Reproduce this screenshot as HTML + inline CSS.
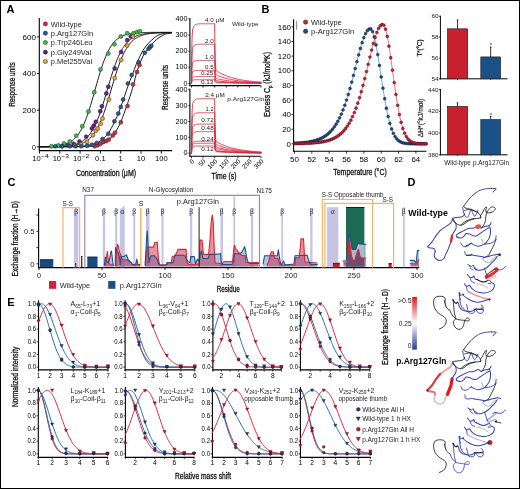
<!DOCTYPE html>
<html><head><meta charset="utf-8"><style>
html,body{margin:0;padding:0;background:#fff;}
svg{display:block;font-family:"Liberation Sans",sans-serif;will-change:transform;}
</style></head><body>
<svg width="520" height="489" viewBox="0 0 520 489">
<rect x="0" y="0" width="520" height="489" fill="#fff"/>
<rect x="0.50" y="0.50" width="519.00" height="488.00" fill="none" stroke="#000" stroke-width="1"/>
<text x="6.60" y="13.30" font-size="11" font-weight="bold" fill="#000">A</text>
<text x="261.60" y="13.30" font-size="11" font-weight="bold" fill="#000">B</text>
<text x="7.60" y="186.40" font-size="11" font-weight="bold" fill="#000">C</text>
<text x="407.40" y="186.40" font-size="11" font-weight="bold" fill="#000">D</text>
<text x="7.20" y="306.40" font-size="11" font-weight="bold" fill="#000">E</text>
<line x1="39.30" y1="18.00" x2="39.30" y2="151.10" stroke="#000" stroke-width="1.1"/>
<line x1="38.80" y1="150.60" x2="172.20" y2="150.60" stroke="#000" stroke-width="1.1"/>
<line x1="36.90" y1="146.80" x2="39.30" y2="146.80" stroke="#000" stroke-width="0.9"/>
<text x="36.00" y="149.50" font-size="7.8" text-anchor="end" textLength="3.9" lengthAdjust="spacingAndGlyphs">0</text>
<line x1="36.90" y1="110.16" x2="39.30" y2="110.16" stroke="#000" stroke-width="0.9"/>
<text x="36.00" y="112.86" font-size="7.8" text-anchor="end" textLength="13.4" lengthAdjust="spacingAndGlyphs">200</text>
<line x1="36.90" y1="73.52" x2="39.30" y2="73.52" stroke="#000" stroke-width="0.9"/>
<text x="36.00" y="76.22" font-size="7.8" text-anchor="end" textLength="13.4" lengthAdjust="spacingAndGlyphs">400</text>
<line x1="36.90" y1="36.88" x2="39.30" y2="36.88" stroke="#000" stroke-width="0.9"/>
<text x="36.00" y="39.58" font-size="7.8" text-anchor="end" textLength="13.4" lengthAdjust="spacingAndGlyphs">600</text>
<line x1="39.50" y1="150.60" x2="39.50" y2="153.60" stroke="#000" stroke-width="0.9"/>
<line x1="59.80" y1="150.60" x2="59.80" y2="153.60" stroke="#000" stroke-width="0.9"/>
<line x1="80.10" y1="150.60" x2="80.10" y2="153.60" stroke="#000" stroke-width="0.9"/>
<line x1="100.40" y1="150.60" x2="100.40" y2="153.60" stroke="#000" stroke-width="0.9"/>
<line x1="120.70" y1="150.60" x2="120.70" y2="153.60" stroke="#000" stroke-width="0.9"/>
<line x1="141.00" y1="150.60" x2="141.00" y2="153.60" stroke="#000" stroke-width="0.9"/>
<line x1="161.30" y1="150.60" x2="161.30" y2="153.60" stroke="#000" stroke-width="0.9"/>
<text x="40.80" y="161.00" font-size="7.6" text-anchor="end">10</text>
<text x="41.00" y="158.20" font-size="6.0" textLength="7.6" lengthAdjust="spacingAndGlyphs">−4</text>
<text x="61.10" y="161.00" font-size="7.6" text-anchor="end">10</text>
<text x="61.30" y="158.20" font-size="6.0" textLength="7.6" lengthAdjust="spacingAndGlyphs">−3</text>
<text x="81.40" y="161.00" font-size="7.6" text-anchor="end">10</text>
<text x="81.60" y="158.20" font-size="6.0" textLength="7.6" lengthAdjust="spacingAndGlyphs">−2</text>
<text x="100.40" y="161.00" font-size="7.6" text-anchor="middle">0.1</text>
<text x="120.70" y="161.00" font-size="7.6" text-anchor="middle">1</text>
<text x="141.00" y="161.00" font-size="7.6" text-anchor="middle">10</text>
<text x="161.30" y="161.00" font-size="7.6" text-anchor="middle">100</text>
<text x="106.00" y="176.00" font-size="9.2" text-anchor="middle" fill="#111" textLength="60.2" lengthAdjust="spacingAndGlyphs" stroke="#111" stroke-width="0.3">Concentration (μM)</text>
<text x="15.40" y="84.50" font-size="9.2" text-anchor="middle" fill="#111" textLength="44.3" lengthAdjust="spacingAndGlyphs" transform="rotate(-90 15.40 84.50)" stroke="#111" stroke-width="0.3">Response units</text>
<circle cx="45.40" cy="23.90" r="2.1" fill="#e0253c" stroke="#222" stroke-width="0.5"/>
<text x="50.80" y="26.60" font-size="7.6" fill="#222" textLength="31.0" lengthAdjust="spacingAndGlyphs">Wild-type</text>
<circle cx="45.40" cy="33.20" r="2.1" fill="#1f5c9e" stroke="#222" stroke-width="0.5"/>
<text x="50.80" y="35.90" font-size="7.6" fill="#222" textLength="42.3" lengthAdjust="spacingAndGlyphs">p.Arg127Gln</text>
<circle cx="45.40" cy="42.50" r="2.1" fill="#34c443" stroke="#222" stroke-width="0.5"/>
<text x="50.80" y="45.20" font-size="7.6" fill="#222" textLength="41.7" lengthAdjust="spacingAndGlyphs">p.Trp246Leu</text>
<circle cx="45.40" cy="52.20" r="2.1" fill="#66218c" stroke="#222" stroke-width="0.5"/>
<text x="50.80" y="54.90" font-size="7.6" fill="#222" textLength="40.3" lengthAdjust="spacingAndGlyphs">p.Gly249Val</text>
<circle cx="45.40" cy="61.50" r="2.1" fill="#f1a12e" stroke="#222" stroke-width="0.5"/>
<text x="50.80" y="64.20" font-size="7.6" fill="#222" textLength="41.3" lengthAdjust="spacingAndGlyphs">p.Met255Val</text>
<path d="M39.30,146.69 C39.43,146.69 39.83,146.68 40.10,146.68 C40.37,146.68 40.63,146.67 40.90,146.67 C41.17,146.66 41.43,146.66 41.70,146.65 C41.97,146.65 42.23,146.64 42.50,146.64 C42.77,146.63 43.03,146.63 43.30,146.62 C43.57,146.62 43.83,146.61 44.10,146.60 C44.37,146.60 44.63,146.59 44.90,146.58 C45.17,146.58 45.43,146.57 45.70,146.56 C45.97,146.55 46.23,146.54 46.50,146.54 C46.77,146.53 47.03,146.52 47.30,146.51 C47.57,146.50 47.83,146.49 48.10,146.48 C48.37,146.47 48.63,146.46 48.90,146.44 C49.17,146.43 49.43,146.42 49.70,146.41 C49.97,146.39 50.23,146.38 50.50,146.36 C50.77,146.35 51.03,146.34 51.30,146.32 C51.57,146.30 51.83,146.29 52.10,146.27 C52.37,146.25 52.63,146.23 52.90,146.21 C53.17,146.19 53.43,146.17 53.70,146.15 C53.97,146.13 54.23,146.11 54.50,146.08 C54.77,146.06 55.03,146.04 55.30,146.01 C55.57,145.98 55.83,145.96 56.10,145.93 C56.37,145.90 56.63,145.87 56.90,145.84 C57.17,145.81 57.43,145.77 57.70,145.74 C57.97,145.70 58.23,145.67 58.50,145.63 C58.77,145.59 59.03,145.55 59.30,145.50 C59.57,145.46 59.83,145.42 60.10,145.37 C60.37,145.32 60.63,145.27 60.90,145.22 C61.17,145.17 61.43,145.12 61.70,145.06 C61.97,145.00 62.23,144.94 62.50,144.88 C62.77,144.82 63.03,144.75 63.30,144.68 C63.57,144.61 63.83,144.54 64.10,144.46 C64.37,144.39 64.63,144.31 64.90,144.22 C65.17,144.14 65.43,144.05 65.70,143.96 C65.97,143.87 66.23,143.77 66.50,143.67 C66.77,143.57 67.03,143.46 67.30,143.35 C67.57,143.24 67.83,143.12 68.10,143.00 C68.37,142.88 68.63,142.75 68.90,142.62 C69.17,142.48 69.43,142.34 69.70,142.20 C69.97,142.05 70.23,141.90 70.50,141.74 C70.77,141.57 71.03,141.41 71.30,141.23 C71.57,141.05 71.83,140.87 72.10,140.68 C72.37,140.48 72.63,140.28 72.90,140.07 C73.17,139.86 73.43,139.64 73.70,139.41 C73.97,139.18 74.23,138.94 74.50,138.69 C74.77,138.44 75.03,138.18 75.30,137.90 C75.57,137.63 75.83,137.35 76.10,137.05 C76.37,136.75 76.63,136.44 76.90,136.12 C77.17,135.80 77.43,135.46 77.70,135.12 C77.97,134.77 78.23,134.40 78.50,134.03 C78.77,133.65 79.03,133.26 79.30,132.85 C79.57,132.44 79.83,132.02 80.10,131.58 C80.37,131.14 80.63,130.68 80.90,130.21 C81.17,129.74 81.43,129.25 81.70,128.75 C81.97,128.24 82.23,127.72 82.50,127.18 C82.77,126.63 83.03,126.08 83.30,125.50 C83.57,124.92 83.83,124.33 84.10,123.71 C84.37,123.10 84.63,122.47 84.90,121.82 C85.17,121.17 85.43,120.50 85.70,119.81 C85.97,119.13 86.23,118.42 86.50,117.70 C86.77,116.98 87.03,116.24 87.30,115.48 C87.57,114.73 87.83,113.95 88.10,113.16 C88.37,112.37 88.63,111.56 88.90,110.74 C89.17,109.92 89.43,109.08 89.70,108.23 C89.97,107.38 90.23,106.52 90.50,105.64 C90.77,104.76 91.03,103.87 91.30,102.97 C91.57,102.07 91.83,101.16 92.10,100.24 C92.37,99.32 92.63,98.39 92.90,97.46 C93.17,96.53 93.43,95.59 93.70,94.64 C93.97,93.70 94.23,92.75 94.50,91.80 C94.77,90.85 95.03,89.89 95.30,88.94 C95.57,87.99 95.83,87.04 96.10,86.09 C96.37,85.14 96.63,84.19 96.90,83.25 C97.17,82.31 97.43,81.37 97.70,80.45 C97.97,79.52 98.23,78.60 98.50,77.69 C98.77,76.78 99.03,75.87 99.30,74.98 C99.57,74.09 99.83,73.21 100.10,72.35 C100.37,71.48 100.63,70.62 100.90,69.79 C101.17,68.95 101.43,68.12 101.70,67.31 C101.97,66.51 102.23,65.71 102.50,64.94 C102.77,64.16 103.03,63.40 103.30,62.66 C103.57,61.92 103.83,61.19 104.10,60.48 C104.37,59.78 104.63,59.09 104.90,58.42 C105.17,57.75 105.43,57.09 105.70,56.46 C105.97,55.83 106.23,55.21 106.50,54.61 C106.77,54.01 107.03,53.43 107.30,52.87 C107.57,52.31 107.83,51.77 108.10,51.24 C108.37,50.72 108.63,50.21 108.90,49.72 C109.17,49.22 109.43,48.75 109.70,48.29 C109.97,47.83 110.23,47.39 110.50,46.97 C110.77,46.54 111.03,46.13 111.30,45.74 C111.57,45.34 111.83,44.96 112.10,44.60 C112.37,44.23 112.63,43.88 112.90,43.55 C113.17,43.21 113.43,42.88 113.70,42.57 C113.97,42.26 114.23,41.96 114.50,41.68 C114.77,41.39 115.03,41.12 115.30,40.85 C115.57,40.59 115.83,40.34 116.10,40.10 C116.37,39.85 116.63,39.62 116.90,39.40 C117.17,39.18 117.43,38.97 117.70,38.76 C117.97,38.56 118.23,38.37 118.50,38.18 C118.77,38.00 119.03,37.82 119.30,37.65 C119.57,37.48 119.83,37.32 120.10,37.16 C120.37,37.01 120.63,36.86 120.90,36.72 C121.17,36.58 121.43,36.44 121.70,36.31 C121.97,36.18 122.23,36.06 122.50,35.94 C122.77,35.83 123.03,35.72 123.30,35.61 C123.57,35.50 123.83,35.40 124.10,35.30 C124.37,35.20 124.63,35.11 124.90,35.02 C125.17,34.94 125.43,34.85 125.70,34.77 C125.97,34.69 126.23,34.61 126.50,34.54 C126.77,34.47 127.03,34.40 127.30,34.33 C127.57,34.26 127.83,34.20 128.10,34.14 C128.37,34.08 128.63,34.02 128.90,33.97 C129.17,33.91 129.43,33.86 129.70,33.81 C129.97,33.76 130.23,33.72 130.50,33.67 C130.77,33.63 131.03,33.58 131.30,33.54 C131.57,33.50 131.83,33.46 132.10,33.43 C132.37,33.39 132.63,33.35 132.90,33.32 C133.17,33.29 133.43,33.25 133.70,33.22 C133.97,33.19 134.23,33.16 134.50,33.14 C134.77,33.11 135.03,33.08 135.30,33.06 C135.57,33.03 135.83,33.01 136.10,32.99 C136.37,32.96 136.63,32.94 136.90,32.92 C137.17,32.90 137.43,32.88 137.70,32.86 C137.97,32.84 138.23,32.83 138.50,32.81 C138.77,32.79 139.03,32.78 139.30,32.76 C139.57,32.75 139.83,32.73 140.10,32.72 C140.37,32.70 140.63,32.69 140.90,32.68 C141.17,32.67 141.43,32.65 141.70,32.64 C141.97,32.63 142.23,32.62 142.50,32.61 C142.77,32.60 143.03,32.59 143.30,32.58 C143.57,32.57 143.83,32.56 144.10,32.55 C144.37,32.55 144.63,32.54 144.90,32.53 C145.17,32.52 145.43,32.51 145.70,32.51 C145.97,32.50 146.23,32.49 146.50,32.49 C146.77,32.48 147.03,32.48 147.30,32.47 C147.57,32.46 147.83,32.46 148.10,32.45 C148.37,32.45 148.63,32.44 148.90,32.44 C149.17,32.43 149.43,32.43 149.70,32.43 C149.97,32.42 150.23,32.42 150.50,32.41 C150.77,32.41 151.03,32.41 151.30,32.40 C151.57,32.40 151.83,32.40 152.10,32.39 C152.37,32.39 152.63,32.39 152.90,32.38 C153.17,32.38 153.43,32.38 153.70,32.38 C153.97,32.37 154.23,32.37 154.50,32.37 C154.77,32.37 155.03,32.36 155.30,32.36 C155.57,32.36 155.83,32.36 156.10,32.36 C156.37,32.35 156.63,32.35 156.90,32.35 C157.17,32.35 157.43,32.35 157.70,32.35 C157.97,32.35 158.23,32.34 158.50,32.34 C158.77,32.34 159.03,32.34 159.30,32.34 C159.57,32.34 159.83,32.34 160.10,32.33 C160.37,32.33 160.63,32.33 160.90,32.33 C161.17,32.33 161.43,32.33 161.70,32.33 C161.97,32.33 162.23,32.33 162.50,32.33 C162.77,32.32 163.03,32.32 163.30,32.32 C163.57,32.32 163.83,32.32 164.10,32.32 C164.37,32.32 164.63,32.32 164.90,32.32 C165.17,32.32 165.43,32.32 165.70,32.32 C165.97,32.32 166.23,32.32 166.50,32.32 C166.77,32.32 167.03,32.31 167.30,32.31 C167.57,32.31 167.83,32.31 168.10,32.31 C168.37,32.31 168.63,32.31 168.90,32.31 C169.17,32.31 169.43,32.31 169.70,32.31 C169.97,32.31 170.23,32.31 170.50,32.31 C170.77,32.31 171.17,32.31 171.30,32.31" fill="none" stroke="#111" stroke-width="0.95" stroke-linejoin="round" stroke-linecap="round"/>
<path d="M39.30,146.77 C39.43,146.76 39.83,146.76 40.10,146.76 C40.37,146.76 40.63,146.76 40.90,146.76 C41.17,146.76 41.43,146.76 41.70,146.75 C41.97,146.75 42.23,146.75 42.50,146.75 C42.77,146.75 43.03,146.75 43.30,146.74 C43.57,146.74 43.83,146.74 44.10,146.74 C44.37,146.74 44.63,146.73 44.90,146.73 C45.17,146.73 45.43,146.73 45.70,146.73 C45.97,146.72 46.23,146.72 46.50,146.72 C46.77,146.72 47.03,146.71 47.30,146.71 C47.57,146.71 47.83,146.70 48.10,146.70 C48.37,146.70 48.63,146.70 48.90,146.69 C49.17,146.69 49.43,146.68 49.70,146.68 C49.97,146.68 50.23,146.67 50.50,146.67 C50.77,146.66 51.03,146.66 51.30,146.66 C51.57,146.65 51.83,146.65 52.10,146.64 C52.37,146.64 52.63,146.63 52.90,146.63 C53.17,146.62 53.43,146.61 53.70,146.61 C53.97,146.60 54.23,146.60 54.50,146.59 C54.77,146.58 55.03,146.58 55.30,146.57 C55.57,146.56 55.83,146.55 56.10,146.55 C56.37,146.54 56.63,146.53 56.90,146.52 C57.17,146.51 57.43,146.50 57.70,146.49 C57.97,146.48 58.23,146.47 58.50,146.46 C58.77,146.45 59.03,146.44 59.30,146.43 C59.57,146.42 59.83,146.40 60.10,146.39 C60.37,146.38 60.63,146.36 60.90,146.35 C61.17,146.34 61.43,146.32 61.70,146.30 C61.97,146.29 62.23,146.27 62.50,146.26 C62.77,146.24 63.03,146.22 63.30,146.20 C63.57,146.18 63.83,146.16 64.10,146.14 C64.37,146.12 64.63,146.10 64.90,146.08 C65.17,146.05 65.43,146.03 65.70,146.00 C65.97,145.98 66.23,145.95 66.50,145.93 C66.77,145.90 67.03,145.87 67.30,145.84 C67.57,145.81 67.83,145.78 68.10,145.74 C68.37,145.71 68.63,145.68 68.90,145.64 C69.17,145.60 69.43,145.56 69.70,145.52 C69.97,145.48 70.23,145.44 70.50,145.40 C70.77,145.35 71.03,145.31 71.30,145.26 C71.57,145.21 71.83,145.16 72.10,145.11 C72.37,145.06 72.63,145.00 72.90,144.94 C73.17,144.88 73.43,144.82 73.70,144.76 C73.97,144.70 74.23,144.63 74.50,144.56 C74.77,144.49 75.03,144.42 75.30,144.34 C75.57,144.26 75.83,144.18 76.10,144.10 C76.37,144.02 76.63,143.93 76.90,143.84 C77.17,143.75 77.43,143.65 77.70,143.55 C77.97,143.45 78.23,143.34 78.50,143.24 C78.77,143.13 79.03,143.01 79.30,142.89 C79.57,142.77 79.83,142.65 80.10,142.51 C80.37,142.38 80.63,142.25 80.90,142.10 C81.17,141.96 81.43,141.81 81.70,141.66 C81.97,141.50 82.23,141.34 82.50,141.17 C82.77,141.00 83.03,140.82 83.30,140.63 C83.57,140.45 83.83,140.26 84.10,140.05 C84.37,139.85 84.63,139.64 84.90,139.42 C85.17,139.20 85.43,138.98 85.70,138.74 C85.97,138.50 86.23,138.25 86.50,137.99 C86.77,137.74 87.03,137.47 87.30,137.19 C87.57,136.91 87.83,136.62 88.10,136.31 C88.37,136.01 88.63,135.70 88.90,135.37 C89.17,135.04 89.43,134.71 89.70,134.35 C89.97,134.00 90.23,133.64 90.50,133.26 C90.77,132.88 91.03,132.48 91.30,132.08 C91.57,131.67 91.83,131.25 92.10,130.81 C92.37,130.37 92.63,129.92 92.90,129.46 C93.17,128.99 93.43,128.51 93.70,128.01 C93.97,127.51 94.23,126.99 94.50,126.46 C94.77,125.93 95.03,125.38 95.30,124.82 C95.57,124.26 95.83,123.68 96.10,123.08 C96.37,122.48 96.63,121.87 96.90,121.24 C97.17,120.61 97.43,119.96 97.70,119.30 C97.97,118.63 98.23,117.95 98.50,117.26 C98.77,116.56 99.03,115.85 99.30,115.12 C99.57,114.40 99.83,113.65 100.10,112.90 C100.37,112.14 100.63,111.37 100.90,110.58 C101.17,109.79 101.43,108.99 101.70,108.18 C101.97,107.37 102.23,106.54 102.50,105.71 C102.77,104.87 103.03,104.03 103.30,103.17 C103.57,102.31 103.83,101.45 104.10,100.57 C104.37,99.70 104.63,98.81 104.90,97.93 C105.17,97.04 105.43,96.14 105.70,95.24 C105.97,94.35 106.23,93.44 106.50,92.54 C106.77,91.63 107.03,90.72 107.30,89.82 C107.57,88.91 107.83,88.00 108.10,87.09 C108.37,86.19 108.63,85.28 108.90,84.38 C109.17,83.49 109.43,82.59 109.70,81.70 C109.97,80.81 110.23,79.92 110.50,79.05 C110.77,78.17 111.03,77.30 111.30,76.44 C111.57,75.58 111.83,74.73 112.10,73.90 C112.37,73.06 112.63,72.23 112.90,71.41 C113.17,70.60 113.43,69.79 113.70,69.01 C113.97,68.22 114.23,67.44 114.50,66.68 C114.77,65.92 115.03,65.17 115.30,64.44 C115.57,63.71 115.83,62.99 116.10,62.29 C116.37,61.59 116.63,60.91 116.90,60.24 C117.17,59.57 117.43,58.92 117.70,58.29 C117.97,57.65 118.23,57.04 118.50,56.43 C118.77,55.83 119.03,55.25 119.30,54.68 C119.57,54.11 119.83,53.56 120.10,53.03 C120.37,52.49 120.63,51.97 120.90,51.47 C121.17,50.97 121.43,50.48 121.70,50.01 C121.97,49.54 122.23,49.08 122.50,48.64 C122.77,48.20 123.03,47.77 123.30,47.36 C123.57,46.95 123.83,46.56 124.10,46.17 C124.37,45.79 124.63,45.42 124.90,45.07 C125.17,44.71 125.43,44.37 125.70,44.04 C125.97,43.71 126.23,43.39 126.50,43.09 C126.77,42.78 127.03,42.49 127.30,42.20 C127.57,41.92 127.83,41.65 128.10,41.39 C128.37,41.13 128.63,40.88 128.90,40.64 C129.17,40.40 129.43,40.17 129.70,39.94 C129.97,39.72 130.23,39.51 130.50,39.31 C130.77,39.10 131.03,38.91 131.30,38.72 C131.57,38.53 131.83,38.35 132.10,38.18 C132.37,38.01 132.63,37.85 132.90,37.69 C133.17,37.53 133.43,37.38 133.70,37.23 C133.97,37.09 134.23,36.95 134.50,36.82 C134.77,36.69 135.03,36.56 135.30,36.44 C135.57,36.32 135.83,36.20 136.10,36.09 C136.37,35.98 136.63,35.87 136.90,35.77 C137.17,35.67 137.43,35.57 137.70,35.48 C137.97,35.39 138.23,35.30 138.50,35.22 C138.77,35.13 139.03,35.05 139.30,34.97 C139.57,34.89 139.83,34.82 140.10,34.75 C140.37,34.68 140.63,34.61 140.90,34.55 C141.17,34.48 141.43,34.42 141.70,34.36 C141.97,34.30 142.23,34.25 142.50,34.20 C142.77,34.14 143.03,34.09 143.30,34.04 C143.57,33.99 143.83,33.95 144.10,33.90 C144.37,33.86 144.63,33.82 144.90,33.77 C145.17,33.73 145.43,33.70 145.70,33.66 C145.97,33.62 146.23,33.59 146.50,33.55 C146.77,33.52 147.03,33.49 147.30,33.46 C147.57,33.43 147.83,33.40 148.10,33.37 C148.37,33.34 148.63,33.31 148.90,33.29 C149.17,33.26 149.43,33.24 149.70,33.22 C149.97,33.19 150.23,33.17 150.50,33.15 C150.77,33.13 151.03,33.11 151.30,33.09 C151.57,33.07 151.83,33.05 152.10,33.03 C152.37,33.02 152.63,33.00 152.90,32.98 C153.17,32.97 153.43,32.95 153.70,32.94 C153.97,32.92 154.23,32.91 154.50,32.90 C154.77,32.88 155.03,32.87 155.30,32.86 C155.57,32.85 155.83,32.84 156.10,32.83 C156.37,32.82 156.63,32.81 156.90,32.80 C157.17,32.79 157.43,32.78 157.70,32.77 C157.97,32.76 158.23,32.75 158.50,32.74 C158.77,32.73 159.03,32.73 159.30,32.72 C159.57,32.71 159.83,32.70 160.10,32.70 C160.37,32.69 160.63,32.68 160.90,32.68 C161.17,32.67 161.43,32.67 161.70,32.66 C161.97,32.65 162.23,32.65 162.50,32.64 C162.77,32.64 163.03,32.63 163.30,32.63 C163.57,32.62 163.83,32.62 164.10,32.62 C164.37,32.61 164.63,32.61 164.90,32.60 C165.17,32.60 165.43,32.60 165.70,32.59 C165.97,32.59 166.23,32.59 166.50,32.58 C166.77,32.58 167.03,32.58 167.30,32.57 C167.57,32.57 167.83,32.57 168.10,32.57 C168.37,32.56 168.63,32.56 168.90,32.56 C169.17,32.56 169.43,32.55 169.70,32.55 C169.97,32.55 170.23,32.55 170.50,32.55 C170.77,32.54 171.17,32.54 171.30,32.54" fill="none" stroke="#111" stroke-width="0.95" stroke-linejoin="round" stroke-linecap="round"/>
<path d="M39.30,146.78 C39.43,146.78 39.83,146.78 40.10,146.78 C40.37,146.78 40.63,146.77 40.90,146.77 C41.17,146.77 41.43,146.77 41.70,146.77 C41.97,146.77 42.23,146.77 42.50,146.77 C42.77,146.77 43.03,146.77 43.30,146.76 C43.57,146.76 43.83,146.76 44.10,146.76 C44.37,146.76 44.63,146.76 44.90,146.76 C45.17,146.76 45.43,146.75 45.70,146.75 C45.97,146.75 46.23,146.75 46.50,146.75 C46.77,146.75 47.03,146.75 47.30,146.74 C47.57,146.74 47.83,146.74 48.10,146.74 C48.37,146.74 48.63,146.73 48.90,146.73 C49.17,146.73 49.43,146.73 49.70,146.72 C49.97,146.72 50.23,146.72 50.50,146.72 C50.77,146.71 51.03,146.71 51.30,146.71 C51.57,146.71 51.83,146.70 52.10,146.70 C52.37,146.70 52.63,146.69 52.90,146.69 C53.17,146.69 53.43,146.68 53.70,146.68 C53.97,146.67 54.23,146.67 54.50,146.67 C54.77,146.66 55.03,146.66 55.30,146.65 C55.57,146.65 55.83,146.64 56.10,146.64 C56.37,146.63 56.63,146.63 56.90,146.62 C57.17,146.62 57.43,146.61 57.70,146.60 C57.97,146.60 58.23,146.59 58.50,146.59 C58.77,146.58 59.03,146.57 59.30,146.56 C59.57,146.56 59.83,146.55 60.10,146.54 C60.37,146.53 60.63,146.52 60.90,146.51 C61.17,146.51 61.43,146.50 61.70,146.49 C61.97,146.48 62.23,146.47 62.50,146.45 C62.77,146.44 63.03,146.43 63.30,146.42 C63.57,146.41 63.83,146.40 64.10,146.38 C64.37,146.37 64.63,146.36 64.90,146.34 C65.17,146.33 65.43,146.31 65.70,146.29 C65.97,146.28 66.23,146.26 66.50,146.24 C66.77,146.23 67.03,146.21 67.30,146.19 C67.57,146.17 67.83,146.15 68.10,146.13 C68.37,146.11 68.63,146.09 68.90,146.06 C69.17,146.04 69.43,146.01 69.70,145.99 C69.97,145.96 70.23,145.94 70.50,145.91 C70.77,145.88 71.03,145.85 71.30,145.82 C71.57,145.79 71.83,145.76 72.10,145.72 C72.37,145.69 72.63,145.65 72.90,145.62 C73.17,145.58 73.43,145.54 73.70,145.50 C73.97,145.46 74.23,145.42 74.50,145.37 C74.77,145.33 75.03,145.28 75.30,145.23 C75.57,145.18 75.83,145.13 76.10,145.08 C76.37,145.02 76.63,144.97 76.90,144.91 C77.17,144.85 77.43,144.79 77.70,144.72 C77.97,144.66 78.23,144.59 78.50,144.52 C78.77,144.45 79.03,144.37 79.30,144.29 C79.57,144.22 79.83,144.13 80.10,144.05 C80.37,143.96 80.63,143.87 80.90,143.78 C81.17,143.69 81.43,143.59 81.70,143.49 C81.97,143.39 82.23,143.28 82.50,143.17 C82.77,143.06 83.03,142.94 83.30,142.82 C83.57,142.70 83.83,142.57 84.10,142.43 C84.37,142.30 84.63,142.16 84.90,142.02 C85.17,141.87 85.43,141.72 85.70,141.56 C85.97,141.40 86.23,141.24 86.50,141.06 C86.77,140.89 87.03,140.71 87.30,140.52 C87.57,140.33 87.83,140.14 88.10,139.93 C88.37,139.73 88.63,139.51 88.90,139.29 C89.17,139.07 89.43,138.83 89.70,138.59 C89.97,138.35 90.23,138.10 90.50,137.84 C90.77,137.57 91.03,137.30 91.30,137.02 C91.57,136.73 91.83,136.44 92.10,136.13 C92.37,135.82 92.63,135.50 92.90,135.17 C93.17,134.84 93.43,134.50 93.70,134.14 C93.97,133.78 94.23,133.41 94.50,133.02 C94.77,132.64 95.03,132.24 95.30,131.83 C95.57,131.41 95.83,130.99 96.10,130.54 C96.37,130.10 96.63,129.64 96.90,129.17 C97.17,128.70 97.43,128.21 97.70,127.70 C97.97,127.20 98.23,126.67 98.50,126.14 C98.77,125.60 99.03,125.05 99.30,124.47 C99.57,123.90 99.83,123.32 100.10,122.71 C100.37,122.11 100.63,121.49 100.90,120.85 C101.17,120.21 101.43,119.56 101.70,118.89 C101.97,118.22 102.23,117.53 102.50,116.83 C102.77,116.13 103.03,115.41 103.30,114.68 C103.57,113.95 103.83,113.20 104.10,112.43 C104.37,111.67 104.63,110.89 104.90,110.10 C105.17,109.31 105.43,108.50 105.70,107.69 C105.97,106.87 106.23,106.04 106.50,105.20 C106.77,104.36 107.03,103.51 107.30,102.65 C107.57,101.79 107.83,100.92 108.10,100.04 C108.37,99.16 108.63,98.28 108.90,97.38 C109.17,96.49 109.43,95.60 109.70,94.70 C109.97,93.80 110.23,92.89 110.50,91.99 C110.77,91.08 111.03,90.17 111.30,89.26 C111.57,88.36 111.83,87.45 112.10,86.54 C112.37,85.64 112.63,84.74 112.90,83.84 C113.17,82.94 113.43,82.05 113.70,81.16 C113.97,80.27 114.23,79.39 114.50,78.52 C114.77,77.64 115.03,76.78 115.30,75.92 C115.57,75.07 115.83,74.22 116.10,73.39 C116.37,72.55 116.63,71.73 116.90,70.92 C117.17,70.11 117.43,69.31 117.70,68.53 C117.97,67.74 118.23,66.97 118.50,66.22 C118.77,65.46 119.03,64.72 119.30,64.00 C119.57,63.27 119.83,62.56 120.10,61.87 C120.37,61.18 120.63,60.50 120.90,59.84 C121.17,59.18 121.43,58.53 121.70,57.90 C121.97,57.28 122.23,56.67 122.50,56.07 C122.77,55.48 123.03,54.90 123.30,54.34 C123.57,53.78 123.83,53.23 124.10,52.70 C124.37,52.17 124.63,51.66 124.90,51.17 C125.17,50.67 125.43,50.19 125.70,49.72 C125.97,49.26 126.23,48.81 126.50,48.37 C126.77,47.94 127.03,47.52 127.30,47.12 C127.57,46.71 127.83,46.32 128.10,45.94 C128.37,45.56 128.63,45.20 128.90,44.85 C129.17,44.50 129.43,44.16 129.70,43.84 C129.97,43.51 130.23,43.20 130.50,42.90 C130.77,42.60 131.03,42.31 131.30,42.03 C131.57,41.75 131.83,41.49 132.10,41.23 C132.37,40.97 132.63,40.73 132.90,40.49 C133.17,40.26 133.43,40.03 133.70,39.81 C133.97,39.59 134.23,39.38 134.50,39.18 C134.77,38.98 135.03,38.79 135.30,38.61 C135.57,38.42 135.83,38.25 136.10,38.08 C136.37,37.91 136.63,37.75 136.90,37.59 C137.17,37.44 137.43,37.29 137.70,37.15 C137.97,37.00 138.23,36.87 138.50,36.74 C138.77,36.61 139.03,36.48 139.30,36.37 C139.57,36.25 139.83,36.13 140.10,36.02 C140.37,35.91 140.63,35.81 140.90,35.71 C141.17,35.61 141.43,35.52 141.70,35.43 C141.97,35.33 142.23,35.25 142.50,35.16 C142.77,35.08 143.03,35.00 143.30,34.93 C143.57,34.85 143.83,34.78 144.10,34.71 C144.37,34.64 144.63,34.57 144.90,34.51 C145.17,34.45 145.43,34.39 145.70,34.33 C145.97,34.27 146.23,34.22 146.50,34.16 C146.77,34.11 147.03,34.06 147.30,34.01 C147.57,33.96 147.83,33.92 148.10,33.88 C148.37,33.83 148.63,33.79 148.90,33.75 C149.17,33.71 149.43,33.67 149.70,33.64 C149.97,33.60 150.23,33.57 150.50,33.53 C150.77,33.50 151.03,33.47 151.30,33.44 C151.57,33.41 151.83,33.38 152.10,33.35 C152.37,33.32 152.63,33.30 152.90,33.27 C153.17,33.25 153.43,33.22 153.70,33.20 C153.97,33.18 154.23,33.16 154.50,33.14 C154.77,33.12 155.03,33.10 155.30,33.08 C155.57,33.06 155.83,33.04 156.10,33.02 C156.37,33.01 156.63,32.99 156.90,32.98 C157.17,32.96 157.43,32.94 157.70,32.93 C157.97,32.92 158.23,32.90 158.50,32.89 C158.77,32.88 159.03,32.86 159.30,32.85 C159.57,32.84 159.83,32.83 160.10,32.82 C160.37,32.81 160.63,32.80 160.90,32.79 C161.17,32.78 161.43,32.77 161.70,32.76 C161.97,32.75 162.23,32.74 162.50,32.74 C162.77,32.73 163.03,32.72 163.30,32.71 C163.57,32.71 163.83,32.70 164.10,32.69 C164.37,32.69 164.63,32.68 164.90,32.67 C165.17,32.67 165.43,32.66 165.70,32.66 C165.97,32.65 166.23,32.65 166.50,32.64 C166.77,32.64 167.03,32.63 167.30,32.63 C167.57,32.62 167.83,32.62 168.10,32.61 C168.37,32.61 168.63,32.61 168.90,32.60 C169.17,32.60 169.43,32.59 169.70,32.59 C169.97,32.59 170.23,32.58 170.50,32.58 C170.77,32.58 171.17,32.57 171.30,32.57" fill="none" stroke="#111" stroke-width="0.95" stroke-linejoin="round" stroke-linecap="round"/>
<path d="M39.30,146.80 C44.42,146.77 62.38,146.77 70.00,146.60 C77.62,146.43 80.83,146.30 85.00,145.80 C89.17,145.30 92.08,144.65 95.00,143.60 C97.92,142.55 100.28,141.23 102.50,139.50 C104.72,137.77 106.32,136.08 108.30,133.20 C110.28,130.32 112.33,126.52 114.40,122.20 C116.47,117.88 118.45,113.30 120.70,107.30 C122.95,101.30 126.00,91.50 127.90,86.20 C129.80,80.90 130.72,79.12 132.10,75.50 C133.48,71.88 134.97,67.53 136.20,64.50 C137.43,61.47 138.42,59.57 139.50,57.30 C140.58,55.03 141.48,52.95 142.70,50.90 C143.92,48.85 145.30,46.80 146.80,45.00 C148.30,43.20 150.07,41.57 151.70,40.10 C153.33,38.63 155.13,37.15 156.60,36.20 C158.07,35.25 159.00,34.93 160.50,34.40 C162.00,33.87 163.75,33.28 165.60,33.00 C167.45,32.72 170.60,32.75 171.60,32.70" fill="none" stroke="#111" stroke-width="0.95" stroke-linejoin="round" stroke-linecap="round"/>
<path d="M39.30,146.80 C46.08,146.78 71.22,146.83 80.00,146.70 C88.78,146.57 88.67,146.40 92.00,146.00 C95.33,145.60 97.20,145.37 100.00,144.30 C102.80,143.23 106.30,141.57 108.80,139.60 C111.30,137.63 113.00,135.43 115.00,132.50 C117.00,129.57 118.88,126.33 120.80,122.00 C122.72,117.67 124.97,110.75 126.50,106.50 C128.03,102.25 128.87,100.00 130.00,96.50 C131.13,93.00 132.13,89.67 133.30,85.50 C134.47,81.33 135.90,75.17 137.00,71.50 C138.10,67.83 138.95,65.95 139.90,63.50 C140.85,61.05 141.68,58.83 142.70,56.80 C143.72,54.77 144.77,53.05 146.00,51.30 C147.23,49.55 148.73,47.90 150.10,46.30 C151.47,44.70 152.70,43.15 154.20,41.70 C155.70,40.25 157.20,38.87 159.10,37.60 C161.00,36.33 163.52,34.85 165.60,34.10 C167.68,33.35 170.60,33.27 171.60,33.10" fill="none" stroke="#111" stroke-width="0.95" stroke-linejoin="round" stroke-linecap="round"/>
<circle cx="51.50" cy="146.30" r="2.0" fill="#34c443" stroke="#222" stroke-width="0.5"/>
<circle cx="58.30" cy="145.40" r="2.0" fill="#34c443" stroke="#222" stroke-width="0.5"/>
<circle cx="64.00" cy="143.50" r="2.0" fill="#34c443" stroke="#222" stroke-width="0.5"/>
<circle cx="69.80" cy="141.50" r="2.0" fill="#34c443" stroke="#222" stroke-width="0.5"/>
<circle cx="76.20" cy="135.80" r="2.0" fill="#34c443" stroke="#222" stroke-width="0.5"/>
<circle cx="82.30" cy="126.20" r="2.0" fill="#34c443" stroke="#222" stroke-width="0.5"/>
<circle cx="88.50" cy="111.50" r="2.0" fill="#34c443" stroke="#222" stroke-width="0.5"/>
<circle cx="94.30" cy="92.20" r="2.0" fill="#34c443" stroke="#222" stroke-width="0.5"/>
<circle cx="100.50" cy="69.40" r="2.0" fill="#34c443" stroke="#222" stroke-width="0.5"/>
<circle cx="108.30" cy="53.50" r="2.0" fill="#34c443" stroke="#222" stroke-width="0.5"/>
<circle cx="114.40" cy="44.30" r="2.0" fill="#34c443" stroke="#222" stroke-width="0.5"/>
<circle cx="120.80" cy="36.50" r="2.0" fill="#34c443" stroke="#222" stroke-width="0.5"/>
<circle cx="127.20" cy="33.30" r="2.0" fill="#34c443" stroke="#222" stroke-width="0.5"/>
<circle cx="133.40" cy="33.20" r="2.0" fill="#34c443" stroke="#222" stroke-width="0.5"/>
<circle cx="137.00" cy="32.20" r="2.0" fill="#34c443" stroke="#222" stroke-width="0.5"/>
<circle cx="139.80" cy="31.30" r="2.0" fill="#34c443" stroke="#222" stroke-width="0.5"/>
<circle cx="62.00" cy="146.20" r="2.0" fill="#66218c" stroke="#222" stroke-width="0.5"/>
<circle cx="68.00" cy="145.30" r="2.0" fill="#66218c" stroke="#222" stroke-width="0.5"/>
<circle cx="73.70" cy="143.80" r="2.0" fill="#66218c" stroke="#222" stroke-width="0.5"/>
<circle cx="79.40" cy="141.50" r="2.0" fill="#66218c" stroke="#222" stroke-width="0.5"/>
<circle cx="86.20" cy="136.70" r="2.0" fill="#66218c" stroke="#222" stroke-width="0.5"/>
<circle cx="91.90" cy="128.50" r="2.0" fill="#66218c" stroke="#222" stroke-width="0.5"/>
<circle cx="93.80" cy="125.60" r="2.0" fill="#66218c" stroke="#222" stroke-width="0.5"/>
<circle cx="95.80" cy="121.70" r="2.0" fill="#66218c" stroke="#222" stroke-width="0.5"/>
<circle cx="100.20" cy="111.20" r="2.0" fill="#66218c" stroke="#222" stroke-width="0.5"/>
<circle cx="101.90" cy="106.30" r="2.0" fill="#66218c" stroke="#222" stroke-width="0.5"/>
<circle cx="106.30" cy="93.50" r="2.0" fill="#66218c" stroke="#222" stroke-width="0.5"/>
<circle cx="108.30" cy="86.70" r="2.0" fill="#66218c" stroke="#222" stroke-width="0.5"/>
<circle cx="114.70" cy="68.40" r="2.0" fill="#66218c" stroke="#222" stroke-width="0.5"/>
<circle cx="121.10" cy="52.00" r="2.0" fill="#66218c" stroke="#222" stroke-width="0.5"/>
<circle cx="127.20" cy="40.10" r="2.0" fill="#66218c" stroke="#222" stroke-width="0.5"/>
<circle cx="130.80" cy="36.50" r="2.0" fill="#66218c" stroke="#222" stroke-width="0.5"/>
<circle cx="75.00" cy="145.50" r="2.0" fill="#f1a12e" stroke="#222" stroke-width="0.5"/>
<circle cx="81.00" cy="144.30" r="2.0" fill="#f1a12e" stroke="#222" stroke-width="0.5"/>
<circle cx="87.10" cy="141.90" r="2.0" fill="#f1a12e" stroke="#222" stroke-width="0.5"/>
<circle cx="92.90" cy="135.20" r="2.0" fill="#f1a12e" stroke="#222" stroke-width="0.5"/>
<circle cx="95.80" cy="130.80" r="2.0" fill="#f1a12e" stroke="#222" stroke-width="0.5"/>
<circle cx="97.70" cy="128.50" r="2.0" fill="#f1a12e" stroke="#222" stroke-width="0.5"/>
<circle cx="100.60" cy="123.70" r="2.0" fill="#f1a12e" stroke="#222" stroke-width="0.5"/>
<circle cx="102.50" cy="118.50" r="2.0" fill="#f1a12e" stroke="#222" stroke-width="0.5"/>
<circle cx="108.80" cy="99.60" r="2.0" fill="#f1a12e" stroke="#222" stroke-width="0.5"/>
<circle cx="114.70" cy="78.10" r="2.0" fill="#f1a12e" stroke="#222" stroke-width="0.5"/>
<circle cx="121.10" cy="59.90" r="2.0" fill="#f1a12e" stroke="#222" stroke-width="0.5"/>
<circle cx="127.20" cy="45.60" r="2.0" fill="#f1a12e" stroke="#222" stroke-width="0.5"/>
<circle cx="133.00" cy="36.50" r="2.0" fill="#f1a12e" stroke="#222" stroke-width="0.5"/>
<circle cx="94.80" cy="146.20" r="2.0" fill="#e0253c" stroke="#222" stroke-width="0.5"/>
<circle cx="97.70" cy="145.20" r="2.0" fill="#e0253c" stroke="#222" stroke-width="0.5"/>
<circle cx="100.60" cy="143.80" r="2.0" fill="#e0253c" stroke="#222" stroke-width="0.5"/>
<circle cx="103.50" cy="141.90" r="2.0" fill="#e0253c" stroke="#222" stroke-width="0.5"/>
<circle cx="106.30" cy="141.00" r="2.0" fill="#e0253c" stroke="#222" stroke-width="0.5"/>
<circle cx="108.80" cy="139.60" r="2.0" fill="#e0253c" stroke="#222" stroke-width="0.5"/>
<circle cx="112.70" cy="135.40" r="2.0" fill="#e0253c" stroke="#222" stroke-width="0.5"/>
<circle cx="115.00" cy="132.70" r="2.0" fill="#e0253c" stroke="#222" stroke-width="0.5"/>
<circle cx="120.80" cy="122.30" r="2.0" fill="#e0253c" stroke="#222" stroke-width="0.5"/>
<circle cx="127.50" cy="106.00" r="2.0" fill="#e0253c" stroke="#222" stroke-width="0.5"/>
<circle cx="133.00" cy="84.40" r="2.0" fill="#e0253c" stroke="#222" stroke-width="0.5"/>
<circle cx="137.00" cy="72.00" r="2.0" fill="#e0253c" stroke="#222" stroke-width="0.5"/>
<circle cx="139.50" cy="65.10" r="2.0" fill="#e0253c" stroke="#222" stroke-width="0.5"/>
<circle cx="55.40" cy="146.30" r="2.0" fill="#1f5c9e" stroke="#222" stroke-width="0.5"/>
<circle cx="62.10" cy="146.30" r="2.0" fill="#1f5c9e" stroke="#222" stroke-width="0.5"/>
<circle cx="69.80" cy="146.30" r="2.0" fill="#1f5c9e" stroke="#222" stroke-width="0.5"/>
<circle cx="75.60" cy="146.30" r="2.0" fill="#1f5c9e" stroke="#222" stroke-width="0.5"/>
<circle cx="81.30" cy="146.20" r="2.0" fill="#1f5c9e" stroke="#222" stroke-width="0.5"/>
<circle cx="87.10" cy="145.80" r="2.0" fill="#1f5c9e" stroke="#222" stroke-width="0.5"/>
<circle cx="91.90" cy="144.80" r="2.0" fill="#1f5c9e" stroke="#222" stroke-width="0.5"/>
<circle cx="96.70" cy="142.90" r="2.0" fill="#1f5c9e" stroke="#222" stroke-width="0.5"/>
<circle cx="102.50" cy="139.00" r="2.0" fill="#1f5c9e" stroke="#222" stroke-width="0.5"/>
<circle cx="108.30" cy="133.80" r="2.0" fill="#1f5c9e" stroke="#222" stroke-width="0.5"/>
<circle cx="114.40" cy="121.30" r="2.0" fill="#1f5c9e" stroke="#222" stroke-width="0.5"/>
<circle cx="118.30" cy="113.50" r="2.0" fill="#1f5c9e" stroke="#222" stroke-width="0.5"/>
<circle cx="120.80" cy="106.90" r="2.0" fill="#1f5c9e" stroke="#222" stroke-width="0.5"/>
<circle cx="123.10" cy="99.60" r="2.0" fill="#1f5c9e" stroke="#222" stroke-width="0.5"/>
<circle cx="127.90" cy="83.60" r="2.0" fill="#1f5c9e" stroke="#222" stroke-width="0.5"/>
<circle cx="131.70" cy="74.90" r="2.0" fill="#1f5c9e" stroke="#222" stroke-width="0.5"/>
<circle cx="138.60" cy="62.20" r="2.0" fill="#1f5c9e" stroke="#222" stroke-width="0.5"/>
<circle cx="144.80" cy="52.80" r="2.0" fill="#1f5c9e" stroke="#222" stroke-width="0.5"/>
<circle cx="148.50" cy="48.70" r="2.0" fill="#1f5c9e" stroke="#222" stroke-width="0.5"/>
<circle cx="150.10" cy="47.00" r="2.0" fill="#1f5c9e" stroke="#222" stroke-width="0.5"/>
<circle cx="151.30" cy="45.80" r="2.0" fill="#1f5c9e" stroke="#222" stroke-width="0.5"/>
<line x1="189.90" y1="18.20" x2="189.90" y2="86.10" stroke="#000" stroke-width="1.1"/>
<line x1="189.40" y1="85.60" x2="260.60" y2="85.60" stroke="#000" stroke-width="1.1"/>
<line x1="188.30" y1="83.40" x2="189.90" y2="83.40" stroke="#000" stroke-width="0.8"/>
<text x="187.60" y="85.60" font-size="6.4" text-anchor="end" textLength="4.0" lengthAdjust="spacingAndGlyphs">0</text>
<line x1="188.30" y1="67.28" x2="189.90" y2="67.28" stroke="#000" stroke-width="0.8"/>
<text x="187.60" y="69.48" font-size="6.4" text-anchor="end" textLength="12.0" lengthAdjust="spacingAndGlyphs">100</text>
<line x1="188.30" y1="51.15" x2="189.90" y2="51.15" stroke="#000" stroke-width="0.8"/>
<text x="187.60" y="53.35" font-size="6.4" text-anchor="end" textLength="12.0" lengthAdjust="spacingAndGlyphs">200</text>
<line x1="188.30" y1="35.03" x2="189.90" y2="35.03" stroke="#000" stroke-width="0.8"/>
<text x="187.60" y="37.23" font-size="6.4" text-anchor="end" textLength="12.0" lengthAdjust="spacingAndGlyphs">300</text>
<line x1="188.30" y1="18.90" x2="189.90" y2="18.90" stroke="#000" stroke-width="0.8"/>
<text x="187.60" y="21.10" font-size="6.4" text-anchor="end" textLength="12.0" lengthAdjust="spacingAndGlyphs">400</text>
<line x1="191.50" y1="85.60" x2="191.50" y2="87.60" stroke="#000" stroke-width="0.8"/>
<line x1="203.08" y1="85.60" x2="203.08" y2="87.60" stroke="#000" stroke-width="0.8"/>
<line x1="214.66" y1="85.60" x2="214.66" y2="87.60" stroke="#000" stroke-width="0.8"/>
<line x1="226.24" y1="85.60" x2="226.24" y2="87.60" stroke="#000" stroke-width="0.8"/>
<line x1="237.82" y1="85.60" x2="237.82" y2="87.60" stroke="#000" stroke-width="0.8"/>
<line x1="249.40" y1="85.60" x2="249.40" y2="87.60" stroke="#000" stroke-width="0.8"/>
<line x1="260.98" y1="85.60" x2="260.98" y2="87.60" stroke="#000" stroke-width="0.8"/>
<path d="M191.20,83.40 L191.50,83.40 L191.73,55.72 L191.96,42.31 L192.19,35.60 L192.43,32.06 L192.66,30.04 L192.89,28.78 L193.12,27.91 L193.35,27.27 L193.58,26.75 L193.82,26.33 L194.05,25.98 L194.28,25.68 L194.51,25.42 L194.74,25.19 L194.97,25.00 L195.21,24.83 L195.44,24.68 L195.67,24.56 L195.90,24.45 L196.13,24.35 L196.36,24.27 L196.60,24.20 L196.83,24.14 L197.06,24.09 L197.29,24.04 L197.52,24.00 L197.75,23.96 L197.98,23.93 L198.22,23.91 L198.45,23.89 L198.68,23.87 L198.91,23.85 L199.14,23.83 L199.37,23.82 L199.61,23.81 L199.84,23.80 L200.07,23.79 L200.30,23.78 L200.53,23.78 L200.76,23.77 L201.00,23.77 L201.23,23.76 L201.46,23.76 L201.69,23.76 L201.92,23.75 L202.15,23.75 L202.39,23.75 L202.62,23.75 L202.85,23.75 L203.08,23.75 L203.31,23.74 L203.54,23.74 L203.77,23.74 L204.01,23.74 L204.24,23.74 L204.47,23.74 L204.70,23.74 L204.93,23.74 L205.16,23.74 L205.40,23.74 L205.63,23.74 L205.86,23.74 L206.09,23.74 L206.32,23.74 L206.55,23.74 L206.79,23.74 L207.02,23.74 L207.25,23.74 L207.48,23.74 L207.71,23.74 L207.94,23.74 L208.18,23.74 L208.41,23.74 L208.64,23.74 L208.87,23.74 L209.10,23.74 L209.33,23.74 L209.56,23.74 L209.80,23.74 L210.03,23.74 L210.26,23.74 L210.49,23.74 L210.72,23.74 L210.95,23.74 L211.19,23.74 L211.42,23.74 L211.65,23.74 L211.88,23.74 L212.11,23.74 L212.34,23.74 L212.58,23.74 L212.81,23.74 L213.04,23.74 L213.27,23.74 L213.50,23.74 L213.73,23.74 L213.97,23.74 L214.20,23.74 L214.43,23.74 L214.66,23.74 L214.66,23.74 L214.89,45.25 L215.12,56.83 L215.35,63.11 L215.59,66.54 L215.82,68.44 L216.05,69.53 L216.28,70.18 L216.51,70.60 L216.74,70.89 L216.98,71.11 L217.21,71.30 L217.44,71.46 L217.67,71.61 L217.90,71.75 L218.13,71.89 L218.37,72.03 L218.60,72.16 L218.83,72.30 L219.06,72.43 L219.29,72.55 L220.22,73.05 L221.14,73.53 L222.07,73.98 L223.00,74.42 L223.92,74.83 L224.85,75.22 L225.78,75.60 L226.70,75.96 L227.63,76.30 L228.56,76.63 L229.48,76.94 L230.41,77.23 L231.34,77.52 L232.26,77.79 L233.19,78.05 L234.11,78.29 L235.04,78.53 L235.97,78.75 L236.89,78.96 L237.82,79.17 L238.75,79.36 L239.67,79.55 L240.60,79.73 L241.53,79.89 L242.45,80.06 L243.38,80.21 L244.30,80.36 L245.23,80.50 L246.16,80.63 L247.08,80.76 L248.01,80.88 L248.94,80.99 L249.86,81.10 L250.79,81.21 L251.72,81.31 L252.64,81.41 L253.57,81.50 L254.50,81.59 L255.42,81.67 L256.35,81.75 L257.27,81.82 L258.20,81.90 L259.13,81.97 L260.05,82.03 L260.98,82.10" fill="none" stroke="#d42a3e" stroke-width="0.9" stroke-linejoin="round" stroke-linecap="round"/>
<path d="M191.20,83.40 L191.50,83.40 L191.73,65.22 L191.96,56.42 L192.19,52.01 L192.43,49.68 L192.66,48.36 L192.89,47.53 L193.12,46.96 L193.35,46.53 L193.58,46.20 L193.82,45.92 L194.05,45.69 L194.28,45.49 L194.51,45.32 L194.74,45.17 L194.97,45.04 L195.21,44.93 L195.44,44.84 L195.67,44.76 L195.90,44.68 L196.13,44.62 L196.36,44.57 L196.60,44.52 L196.83,44.48 L197.06,44.45 L197.29,44.41 L197.52,44.39 L197.75,44.37 L197.98,44.35 L198.22,44.33 L198.45,44.31 L198.68,44.30 L198.91,44.29 L199.14,44.28 L199.37,44.27 L199.61,44.26 L199.84,44.26 L200.07,44.25 L200.30,44.25 L200.53,44.24 L200.76,44.24 L201.00,44.24 L201.23,44.23 L201.46,44.23 L201.69,44.23 L201.92,44.23 L202.15,44.23 L202.39,44.22 L202.62,44.22 L202.85,44.22 L203.08,44.22 L203.31,44.22 L203.54,44.22 L203.77,44.22 L204.01,44.22 L204.24,44.22 L204.47,44.22 L204.70,44.22 L204.93,44.22 L205.16,44.22 L205.40,44.22 L205.63,44.22 L205.86,44.22 L206.09,44.22 L206.32,44.22 L206.55,44.22 L206.79,44.22 L207.02,44.22 L207.25,44.22 L207.48,44.22 L207.71,44.22 L207.94,44.22 L208.18,44.22 L208.41,44.22 L208.64,44.22 L208.87,44.22 L209.10,44.22 L209.33,44.22 L209.56,44.22 L209.80,44.22 L210.03,44.22 L210.26,44.22 L210.49,44.22 L210.72,44.22 L210.95,44.22 L211.19,44.22 L211.42,44.22 L211.65,44.22 L211.88,44.22 L212.11,44.22 L212.34,44.22 L212.58,44.22 L212.81,44.22 L213.04,44.22 L213.27,44.22 L213.50,44.22 L213.73,44.22 L213.97,44.22 L214.20,44.22 L214.43,44.22 L214.66,44.22 L214.66,44.22 L214.89,58.34 L215.12,65.95 L215.35,70.07 L215.59,72.33 L215.82,73.58 L216.05,74.29 L216.28,74.72 L216.51,74.99 L216.74,75.18 L216.98,75.33 L217.21,75.45 L217.44,75.56 L217.67,75.66 L217.90,75.75 L218.13,75.84 L218.37,75.93 L218.60,76.02 L218.83,76.11 L219.06,76.19 L219.29,76.28 L220.22,76.60 L221.14,76.92 L222.07,77.22 L223.00,77.50 L223.92,77.77 L224.85,78.03 L225.78,78.28 L226.70,78.51 L227.63,78.74 L228.56,78.95 L229.48,79.16 L230.41,79.35 L231.34,79.54 L232.26,79.71 L233.19,79.88 L234.11,80.05 L235.04,80.20 L235.97,80.35 L236.89,80.49 L237.82,80.62 L238.75,80.75 L239.67,80.87 L240.60,80.99 L241.53,81.10 L242.45,81.20 L243.38,81.30 L244.30,81.40 L245.23,81.49 L246.16,81.58 L247.08,81.66 L248.01,81.74 L248.94,81.82 L249.86,81.89 L250.79,81.96 L251.72,82.03 L252.64,82.09 L253.57,82.15 L254.50,82.21 L255.42,82.26 L256.35,82.32 L257.27,82.37 L258.20,82.41 L259.13,82.46 L260.05,82.50 L260.98,82.54" fill="none" stroke="#d42a3e" stroke-width="0.9" stroke-linejoin="round" stroke-linecap="round"/>
<path d="M191.20,83.40 L191.50,83.40 L191.73,72.73 L191.96,67.56 L192.19,64.98 L192.43,63.61 L192.66,62.83 L192.89,62.35 L193.12,62.01 L193.35,61.77 L193.58,61.57 L193.82,61.41 L194.05,61.27 L194.28,61.15 L194.51,61.05 L194.74,60.97 L194.97,60.89 L195.21,60.83 L195.44,60.77 L195.67,60.72 L195.90,60.68 L196.13,60.64 L196.36,60.61 L196.60,60.58 L196.83,60.56 L197.06,60.54 L197.29,60.52 L197.52,60.51 L197.75,60.49 L197.98,60.48 L198.22,60.47 L198.45,60.46 L198.68,60.46 L198.91,60.45 L199.14,60.44 L199.37,60.44 L199.61,60.43 L199.84,60.43 L200.07,60.43 L200.30,60.42 L200.53,60.42 L200.76,60.42 L201.00,60.42 L201.23,60.42 L201.46,60.41 L201.69,60.41 L201.92,60.41 L202.15,60.41 L202.39,60.41 L202.62,60.41 L202.85,60.41 L203.08,60.41 L203.31,60.41 L203.54,60.41 L203.77,60.41 L204.01,60.41 L204.24,60.41 L204.47,60.41 L204.70,60.41 L204.93,60.41 L205.16,60.41 L205.40,60.41 L205.63,60.41 L205.86,60.41 L206.09,60.41 L206.32,60.41 L206.55,60.41 L206.79,60.41 L207.02,60.41 L207.25,60.41 L207.48,60.41 L207.71,60.41 L207.94,60.41 L208.18,60.41 L208.41,60.41 L208.64,60.41 L208.87,60.41 L209.10,60.41 L209.33,60.41 L209.56,60.41 L209.80,60.41 L210.03,60.41 L210.26,60.41 L210.49,60.41 L210.72,60.41 L210.95,60.41 L211.19,60.41 L211.42,60.41 L211.65,60.41 L211.88,60.41 L212.11,60.41 L212.34,60.41 L212.58,60.41 L212.81,60.41 L213.04,60.41 L213.27,60.41 L213.50,60.41 L213.73,60.41 L213.97,60.41 L214.20,60.41 L214.43,60.41 L214.66,60.41 L214.66,60.41 L214.89,68.70 L215.12,73.16 L215.35,75.58 L215.59,76.90 L215.82,77.64 L216.05,78.06 L216.28,78.31 L216.51,78.47 L216.74,78.58 L216.98,78.66 L217.21,78.74 L217.44,78.80 L217.67,78.86 L217.90,78.91 L218.13,78.97 L218.37,79.02 L218.60,79.07 L218.83,79.12 L219.06,79.17 L219.29,79.22 L220.22,79.41 L221.14,79.60 L222.07,79.77 L223.00,79.94 L223.92,80.10 L224.85,80.25 L225.78,80.39 L226.70,80.53 L227.63,80.66 L228.56,80.79 L229.48,80.91 L230.41,81.02 L231.34,81.13 L232.26,81.24 L233.19,81.34 L234.11,81.43 L235.04,81.52 L235.97,81.61 L236.89,81.69 L237.82,81.77 L238.75,81.84 L239.67,81.92 L240.60,81.98 L241.53,82.05 L242.45,82.11 L243.38,82.17 L244.30,82.23 L245.23,82.28 L246.16,82.33 L247.08,82.38 L248.01,82.43 L248.94,82.47 L249.86,82.52 L250.79,82.56 L251.72,82.59 L252.64,82.63 L253.57,82.67 L254.50,82.70 L255.42,82.73 L256.35,82.76 L257.27,82.79 L258.20,82.82 L259.13,82.85 L260.05,82.87 L260.98,82.90" fill="none" stroke="#d42a3e" stroke-width="0.9" stroke-linejoin="round" stroke-linecap="round"/>
<path d="M191.20,83.40 L191.50,83.40 L191.73,77.37 L191.96,74.45 L192.19,72.99 L192.43,72.22 L192.66,71.78 L192.89,71.50 L193.12,71.31 L193.35,71.17 L193.58,71.06 L193.82,70.97 L194.05,70.89 L194.28,70.83 L194.51,70.77 L194.74,70.72 L194.97,70.68 L195.21,70.64 L195.44,70.61 L195.67,70.58 L195.90,70.56 L196.13,70.54 L196.36,70.52 L196.60,70.50 L196.83,70.49 L197.06,70.48 L197.29,70.47 L197.52,70.46 L197.75,70.45 L197.98,70.45 L198.22,70.44 L198.45,70.44 L198.68,70.43 L198.91,70.43 L199.14,70.42 L199.37,70.42 L199.61,70.42 L199.84,70.42 L200.07,70.42 L200.30,70.41 L200.53,70.41 L200.76,70.41 L201.00,70.41 L201.23,70.41 L201.46,70.41 L201.69,70.41 L201.92,70.41 L202.15,70.41 L202.39,70.41 L202.62,70.41 L202.85,70.41 L203.08,70.41 L203.31,70.40 L203.54,70.40 L203.77,70.40 L204.01,70.40 L204.24,70.40 L204.47,70.40 L204.70,70.40 L204.93,70.40 L205.16,70.40 L205.40,70.40 L205.63,70.40 L205.86,70.40 L206.09,70.40 L206.32,70.40 L206.55,70.40 L206.79,70.40 L207.02,70.40 L207.25,70.40 L207.48,70.40 L207.71,70.40 L207.94,70.40 L208.18,70.40 L208.41,70.40 L208.64,70.40 L208.87,70.40 L209.10,70.40 L209.33,70.40 L209.56,70.40 L209.80,70.40 L210.03,70.40 L210.26,70.40 L210.49,70.40 L210.72,70.40 L210.95,70.40 L211.19,70.40 L211.42,70.40 L211.65,70.40 L211.88,70.40 L212.11,70.40 L212.34,70.40 L212.58,70.40 L212.81,70.40 L213.04,70.40 L213.27,70.40 L213.50,70.40 L213.73,70.40 L213.97,70.40 L214.20,70.40 L214.43,70.40 L214.66,70.40 L214.66,70.40 L214.89,75.09 L215.12,77.61 L215.35,78.98 L215.59,79.73 L215.82,80.14 L216.05,80.38 L216.28,80.52 L216.51,80.61 L216.74,80.67 L216.98,80.72 L217.21,80.76 L217.44,80.80 L217.67,80.83 L217.90,80.86 L218.13,80.89 L218.37,80.92 L218.60,80.95 L218.83,80.98 L219.06,81.01 L219.29,81.04 L220.22,81.15 L221.14,81.25 L222.07,81.35 L223.00,81.44 L223.92,81.53 L224.85,81.62 L225.78,81.70 L226.70,81.78 L227.63,81.85 L228.56,81.92 L229.48,81.99 L230.41,82.06 L231.34,82.12 L232.26,82.18 L233.19,82.23 L234.11,82.29 L235.04,82.34 L235.97,82.39 L236.89,82.43 L237.82,82.48 L238.75,82.52 L239.67,82.56 L240.60,82.60 L241.53,82.64 L242.45,82.67 L243.38,82.70 L244.30,82.74 L245.23,82.77 L246.16,82.80 L247.08,82.82 L248.01,82.85 L248.94,82.88 L249.86,82.90 L250.79,82.92 L251.72,82.94 L252.64,82.97 L253.57,82.99 L254.50,83.00 L255.42,83.02 L256.35,83.04 L257.27,83.06 L258.20,83.07 L259.13,83.09 L260.05,83.10 L260.98,83.12" fill="none" stroke="#d42a3e" stroke-width="0.9" stroke-linejoin="round" stroke-linecap="round"/>
<path d="M191.20,83.40 L191.50,83.40 L191.73,80.20 L191.96,78.65 L192.19,77.87 L192.43,77.46 L192.66,77.23 L192.89,77.08 L193.12,76.98 L193.35,76.91 L193.58,76.85 L193.82,76.80 L194.05,76.76 L194.28,76.72 L194.51,76.69 L194.74,76.67 L194.97,76.64 L195.21,76.62 L195.44,76.61 L195.67,76.59 L195.90,76.58 L196.13,76.57 L196.36,76.56 L196.60,76.55 L196.83,76.54 L197.06,76.54 L197.29,76.53 L197.52,76.53 L197.75,76.52 L197.98,76.52 L198.22,76.52 L198.45,76.52 L198.68,76.51 L198.91,76.51 L199.14,76.51 L199.37,76.51 L199.61,76.51 L199.84,76.51 L200.07,76.50 L200.30,76.50 L200.53,76.50 L200.76,76.50 L201.00,76.50 L201.23,76.50 L201.46,76.50 L201.69,76.50 L201.92,76.50 L202.15,76.50 L202.39,76.50 L202.62,76.50 L202.85,76.50 L203.08,76.50 L203.31,76.50 L203.54,76.50 L203.77,76.50 L204.01,76.50 L204.24,76.50 L204.47,76.50 L204.70,76.50 L204.93,76.50 L205.16,76.50 L205.40,76.50 L205.63,76.50 L205.86,76.50 L206.09,76.50 L206.32,76.50 L206.55,76.50 L206.79,76.50 L207.02,76.50 L207.25,76.50 L207.48,76.50 L207.71,76.50 L207.94,76.50 L208.18,76.50 L208.41,76.50 L208.64,76.50 L208.87,76.50 L209.10,76.50 L209.33,76.50 L209.56,76.50 L209.80,76.50 L210.03,76.50 L210.26,76.50 L210.49,76.50 L210.72,76.50 L210.95,76.50 L211.19,76.50 L211.42,76.50 L211.65,76.50 L211.88,76.50 L212.11,76.50 L212.34,76.50 L212.58,76.50 L212.81,76.50 L213.04,76.50 L213.27,76.50 L213.50,76.50 L213.73,76.50 L213.97,76.50 L214.20,76.50 L214.43,76.50 L214.66,76.50 L214.66,76.50 L214.89,78.99 L215.12,80.33 L215.35,81.05 L215.59,81.45 L215.82,81.67 L216.05,81.80 L216.28,81.87 L216.51,81.92 L216.74,81.95 L216.98,81.98 L217.21,82.00 L217.44,82.02 L217.67,82.04 L217.90,82.05 L218.13,82.07 L218.37,82.08 L218.60,82.10 L218.83,82.12 L219.06,82.13 L219.29,82.15 L220.22,82.20 L221.14,82.26 L222.07,82.31 L223.00,82.36 L223.92,82.41 L224.85,82.45 L225.78,82.50 L226.70,82.54 L227.63,82.58 L228.56,82.62 L229.48,82.65 L230.41,82.69 L231.34,82.72 L232.26,82.75 L233.19,82.78 L234.11,82.81 L235.04,82.84 L235.97,82.86 L236.89,82.89 L237.82,82.91 L238.75,82.93 L239.67,82.95 L240.60,82.97 L241.53,82.99 L242.45,83.01 L243.38,83.03 L244.30,83.05 L245.23,83.06 L246.16,83.08 L247.08,83.09 L248.01,83.11 L248.94,83.12 L249.86,83.13 L250.79,83.15 L251.72,83.16 L252.64,83.17 L253.57,83.18 L254.50,83.19 L255.42,83.20 L256.35,83.21 L257.27,83.22 L258.20,83.23 L259.13,83.23 L260.05,83.24 L260.98,83.25" fill="none" stroke="#d42a3e" stroke-width="0.9" stroke-linejoin="round" stroke-linecap="round"/>
<path d="M191.20,83.40 L191.50,83.40 L191.73,81.69 L191.96,80.86 L192.19,80.44 L192.43,80.22 L192.66,80.10 L192.89,80.02 L193.12,79.97 L193.35,79.93 L193.58,79.89 L193.82,79.87 L194.05,79.85 L194.28,79.83 L194.51,79.81 L194.74,79.80 L194.97,79.79 L195.21,79.77 L195.44,79.77 L195.67,79.76 L195.90,79.75 L196.13,79.75 L196.36,79.74 L196.60,79.74 L196.83,79.73 L197.06,79.73 L197.29,79.73 L197.52,79.72 L197.75,79.72 L197.98,79.72 L198.22,79.72 L198.45,79.72 L198.68,79.72 L198.91,79.71 L199.14,79.71 L199.37,79.71 L199.61,79.71 L199.84,79.71 L200.07,79.71 L200.30,79.71 L200.53,79.71 L200.76,79.71 L201.00,79.71 L201.23,79.71 L201.46,79.71 L201.69,79.71 L201.92,79.71 L202.15,79.71 L202.39,79.71 L202.62,79.71 L202.85,79.71 L203.08,79.71 L203.31,79.71 L203.54,79.71 L203.77,79.71 L204.01,79.71 L204.24,79.71 L204.47,79.71 L204.70,79.71 L204.93,79.71 L205.16,79.71 L205.40,79.71 L205.63,79.71 L205.86,79.71 L206.09,79.71 L206.32,79.71 L206.55,79.71 L206.79,79.71 L207.02,79.71 L207.25,79.71 L207.48,79.71 L207.71,79.71 L207.94,79.71 L208.18,79.71 L208.41,79.71 L208.64,79.71 L208.87,79.71 L209.10,79.71 L209.33,79.71 L209.56,79.71 L209.80,79.71 L210.03,79.71 L210.26,79.71 L210.49,79.71 L210.72,79.71 L210.95,79.71 L211.19,79.71 L211.42,79.71 L211.65,79.71 L211.88,79.71 L212.11,79.71 L212.34,79.71 L212.58,79.71 L212.81,79.71 L213.04,79.71 L213.27,79.71 L213.50,79.71 L213.73,79.71 L213.97,79.71 L214.20,79.71 L214.43,79.71 L214.66,79.71 L214.66,79.71 L214.89,81.04 L215.12,81.76 L215.35,82.14 L215.59,82.36 L215.82,82.47 L216.05,82.54 L216.28,82.58 L216.51,82.61 L216.74,82.63 L216.98,82.64 L217.21,82.65 L217.44,82.66 L217.67,82.67 L217.90,82.68 L218.13,82.69 L218.37,82.70 L218.60,82.70 L218.83,82.71 L219.06,82.72 L219.29,82.73 L220.22,82.76 L221.14,82.79 L222.07,82.82 L223.00,82.84 L223.92,82.87 L224.85,82.89 L225.78,82.92 L226.70,82.94 L227.63,82.96 L228.56,82.98 L229.48,83.00 L230.41,83.02 L231.34,83.04 L232.26,83.05 L233.19,83.07 L234.11,83.08 L235.04,83.10 L235.97,83.11 L236.89,83.13 L237.82,83.14 L238.75,83.15 L239.67,83.16 L240.60,83.17 L241.53,83.18 L242.45,83.19 L243.38,83.20 L244.30,83.21 L245.23,83.22 L246.16,83.23 L247.08,83.24 L248.01,83.24 L248.94,83.25 L249.86,83.26 L250.79,83.26 L251.72,83.27 L252.64,83.28 L253.57,83.28 L254.50,83.29 L255.42,83.29 L256.35,83.30 L257.27,83.30 L258.20,83.31 L259.13,83.31 L260.05,83.32 L260.98,83.32" fill="none" stroke="#d42a3e" stroke-width="0.9" stroke-linejoin="round" stroke-linecap="round"/>
<text x="205.00" y="22.40" font-size="6.0" fill="#222" textLength="19.5" lengthAdjust="spacingAndGlyphs">4.0 μM</text>
<text x="205.10" y="42.70" font-size="6.0" fill="#222" textLength="8.6" lengthAdjust="spacingAndGlyphs">2.0</text>
<text x="205.10" y="58.60" font-size="6.0" fill="#222" textLength="8.6" lengthAdjust="spacingAndGlyphs">1.0</text>
<text x="205.10" y="68.60" font-size="6.0" fill="#222" textLength="8.6" lengthAdjust="spacingAndGlyphs">0.5</text>
<text x="201.00" y="75.00" font-size="6.0" fill="#222" textLength="12.4" lengthAdjust="spacingAndGlyphs">0.25</text>
<text x="201.00" y="83.50" font-size="6.0" fill="#222" textLength="12.4" lengthAdjust="spacingAndGlyphs">0.13</text>
<text x="231.90" y="26.30" font-size="6.2" fill="#222" textLength="26.6" lengthAdjust="spacingAndGlyphs">Wild-type</text>
<line x1="189.90" y1="88.60" x2="189.90" y2="156.80" stroke="#000" stroke-width="1.1"/>
<line x1="189.40" y1="156.30" x2="260.60" y2="156.30" stroke="#000" stroke-width="1.1"/>
<line x1="188.30" y1="153.20" x2="189.90" y2="153.20" stroke="#000" stroke-width="0.8"/>
<text x="187.60" y="155.40" font-size="6.4" text-anchor="end" textLength="4.0" lengthAdjust="spacingAndGlyphs">0</text>
<line x1="188.30" y1="137.35" x2="189.90" y2="137.35" stroke="#000" stroke-width="0.8"/>
<text x="187.60" y="139.55" font-size="6.4" text-anchor="end" textLength="12.0" lengthAdjust="spacingAndGlyphs">100</text>
<line x1="188.30" y1="121.50" x2="189.90" y2="121.50" stroke="#000" stroke-width="0.8"/>
<text x="187.60" y="123.70" font-size="6.4" text-anchor="end" textLength="12.0" lengthAdjust="spacingAndGlyphs">200</text>
<line x1="188.30" y1="105.65" x2="189.90" y2="105.65" stroke="#000" stroke-width="0.8"/>
<text x="187.60" y="107.85" font-size="6.4" text-anchor="end" textLength="12.0" lengthAdjust="spacingAndGlyphs">300</text>
<line x1="188.30" y1="89.80" x2="189.90" y2="89.80" stroke="#000" stroke-width="0.8"/>
<text x="187.60" y="92.00" font-size="6.4" text-anchor="end" textLength="12.0" lengthAdjust="spacingAndGlyphs">400</text>
<line x1="191.50" y1="156.30" x2="191.50" y2="158.30" stroke="#000" stroke-width="0.8"/>
<line x1="203.08" y1="156.30" x2="203.08" y2="158.30" stroke="#000" stroke-width="0.8"/>
<line x1="214.66" y1="156.30" x2="214.66" y2="158.30" stroke="#000" stroke-width="0.8"/>
<line x1="226.24" y1="156.30" x2="226.24" y2="158.30" stroke="#000" stroke-width="0.8"/>
<line x1="237.82" y1="156.30" x2="237.82" y2="158.30" stroke="#000" stroke-width="0.8"/>
<line x1="249.40" y1="156.30" x2="249.40" y2="158.30" stroke="#000" stroke-width="0.8"/>
<line x1="260.98" y1="156.30" x2="260.98" y2="158.30" stroke="#000" stroke-width="0.8"/>
<path d="M191.20,153.20 L191.50,153.20 L191.73,127.90 L191.96,115.65 L192.19,109.52 L192.43,106.28 L192.66,104.44 L192.89,103.28 L193.12,102.49 L193.35,101.90 L193.58,101.43 L193.82,101.05 L194.05,100.72 L194.28,100.45 L194.51,100.21 L194.74,100.01 L194.97,99.83 L195.21,99.67 L195.44,99.54 L195.67,99.43 L195.90,99.33 L196.13,99.24 L196.36,99.16 L196.60,99.10 L196.83,99.04 L197.06,98.99 L197.29,98.95 L197.52,98.92 L197.75,98.88 L197.98,98.86 L198.22,98.83 L198.45,98.81 L198.68,98.79 L198.91,98.78 L199.14,98.76 L199.37,98.75 L199.61,98.74 L199.84,98.73 L200.07,98.73 L200.30,98.72 L200.53,98.71 L200.76,98.71 L201.00,98.70 L201.23,98.70 L201.46,98.70 L201.69,98.69 L201.92,98.69 L202.15,98.69 L202.39,98.69 L202.62,98.69 L202.85,98.68 L203.08,98.68 L203.31,98.68 L203.54,98.68 L203.77,98.68 L204.01,98.68 L204.24,98.68 L204.47,98.68 L204.70,98.68 L204.93,98.68 L205.16,98.68 L205.40,98.68 L205.63,98.68 L205.86,98.68 L206.09,98.68 L206.32,98.68 L206.55,98.68 L206.79,98.68 L207.02,98.68 L207.25,98.68 L207.48,98.68 L207.71,98.68 L207.94,98.68 L208.18,98.68 L208.41,98.68 L208.64,98.68 L208.87,98.68 L209.10,98.68 L209.33,98.68 L209.56,98.68 L209.80,98.68 L210.03,98.68 L210.26,98.68 L210.49,98.68 L210.72,98.68 L210.95,98.68 L211.19,98.68 L211.42,98.68 L211.65,98.68 L211.88,98.68 L212.11,98.68 L212.34,98.68 L212.58,98.68 L212.81,98.68 L213.04,98.68 L213.27,98.68 L213.50,98.68 L213.73,98.68 L213.97,98.68 L214.20,98.68 L214.43,98.68 L214.66,98.68 L214.66,98.68 L214.89,118.33 L215.12,128.92 L215.35,134.66 L215.59,137.79 L215.82,139.53 L216.05,140.53 L216.28,141.12 L216.51,141.50 L216.74,141.77 L216.98,141.97 L217.21,142.14 L217.44,142.29 L217.67,142.43 L217.90,142.56 L218.13,142.68 L218.37,142.81 L218.60,142.93 L218.83,143.05 L219.06,143.17 L219.29,143.29 L220.22,143.74 L221.14,144.18 L222.07,144.59 L223.00,144.99 L223.92,145.37 L224.85,145.73 L225.78,146.07 L226.70,146.40 L227.63,146.71 L228.56,147.01 L229.48,147.29 L230.41,147.57 L231.34,147.82 L232.26,148.07 L233.19,148.31 L234.11,148.53 L235.04,148.75 L235.97,148.95 L236.89,149.15 L237.82,149.33 L238.75,149.51 L239.67,149.68 L240.60,149.84 L241.53,150.00 L242.45,150.14 L243.38,150.28 L244.30,150.42 L245.23,150.55 L246.16,150.67 L247.08,150.78 L248.01,150.90 L248.94,151.00 L249.86,151.10 L250.79,151.20 L251.72,151.29 L252.64,151.38 L253.57,151.46 L254.50,151.54 L255.42,151.62 L256.35,151.69 L257.27,151.76 L258.20,151.83 L259.13,151.89 L260.05,151.95 L260.98,152.01" fill="none" stroke="#d42a3e" stroke-width="0.9" stroke-linejoin="round" stroke-linecap="round"/>
<path d="M191.20,153.20 L191.50,153.20 L191.73,134.41 L191.96,125.31 L192.19,120.76 L192.43,118.35 L192.66,116.98 L192.89,116.13 L193.12,115.54 L193.35,115.10 L193.58,114.75 L193.82,114.47 L194.05,114.22 L194.28,114.02 L194.51,113.84 L194.74,113.69 L194.97,113.56 L195.21,113.44 L195.44,113.35 L195.67,113.26 L195.90,113.19 L196.13,113.12 L196.36,113.07 L196.60,113.02 L196.83,112.98 L197.06,112.94 L197.29,112.91 L197.52,112.88 L197.75,112.86 L197.98,112.84 L198.22,112.82 L198.45,112.80 L198.68,112.79 L198.91,112.78 L199.14,112.77 L199.37,112.76 L199.61,112.75 L199.84,112.75 L200.07,112.74 L200.30,112.74 L200.53,112.73 L200.76,112.73 L201.00,112.72 L201.23,112.72 L201.46,112.72 L201.69,112.72 L201.92,112.72 L202.15,112.71 L202.39,112.71 L202.62,112.71 L202.85,112.71 L203.08,112.71 L203.31,112.71 L203.54,112.71 L203.77,112.71 L204.01,112.71 L204.24,112.71 L204.47,112.71 L204.70,112.71 L204.93,112.71 L205.16,112.70 L205.40,112.70 L205.63,112.70 L205.86,112.70 L206.09,112.70 L206.32,112.70 L206.55,112.70 L206.79,112.70 L207.02,112.70 L207.25,112.70 L207.48,112.70 L207.71,112.70 L207.94,112.70 L208.18,112.70 L208.41,112.70 L208.64,112.70 L208.87,112.70 L209.10,112.70 L209.33,112.70 L209.56,112.70 L209.80,112.70 L210.03,112.70 L210.26,112.70 L210.49,112.70 L210.72,112.70 L210.95,112.70 L211.19,112.70 L211.42,112.70 L211.65,112.70 L211.88,112.70 L212.11,112.70 L212.34,112.70 L212.58,112.70 L212.81,112.70 L213.04,112.70 L213.27,112.70 L213.50,112.70 L213.73,112.70 L213.97,112.70 L214.20,112.70 L214.43,112.70 L214.66,112.70 L214.66,112.70 L214.89,127.30 L215.12,135.17 L215.35,139.43 L215.59,141.75 L215.82,143.05 L216.05,143.79 L216.28,144.23 L216.51,144.51 L216.74,144.71 L216.98,144.86 L217.21,144.98 L217.44,145.09 L217.67,145.20 L217.90,145.30 L218.13,145.39 L218.37,145.48 L218.60,145.57 L218.83,145.66 L219.06,145.75 L219.29,145.84 L220.22,146.18 L221.14,146.50 L222.07,146.81 L223.00,147.10 L223.92,147.38 L224.85,147.65 L225.78,147.90 L226.70,148.15 L227.63,148.38 L228.56,148.60 L229.48,148.81 L230.41,149.01 L231.34,149.21 L232.26,149.39 L233.19,149.57 L234.11,149.73 L235.04,149.89 L235.97,150.04 L236.89,150.19 L237.82,150.33 L238.75,150.46 L239.67,150.59 L240.60,150.71 L241.53,150.82 L242.45,150.93 L243.38,151.03 L244.30,151.13 L245.23,151.23 L246.16,151.32 L247.08,151.41 L248.01,151.49 L248.94,151.57 L249.86,151.64 L250.79,151.71 L251.72,151.78 L252.64,151.85 L253.57,151.91 L254.50,151.97 L255.42,152.03 L256.35,152.08 L257.27,152.13 L258.20,152.18 L259.13,152.23 L260.05,152.27 L260.98,152.31" fill="none" stroke="#d42a3e" stroke-width="0.9" stroke-linejoin="round" stroke-linecap="round"/>
<path d="M191.20,153.20 L191.50,153.20 L191.73,139.70 L191.96,133.16 L192.19,129.89 L192.43,128.16 L192.66,127.17 L192.89,126.56 L193.12,126.14 L193.35,125.82 L193.58,125.57 L193.82,125.37 L194.05,125.19 L194.28,125.05 L194.51,124.92 L194.74,124.81 L194.97,124.71 L195.21,124.63 L195.44,124.56 L195.67,124.50 L195.90,124.45 L196.13,124.40 L196.36,124.36 L196.60,124.33 L196.83,124.30 L197.06,124.27 L197.29,124.25 L197.52,124.23 L197.75,124.21 L197.98,124.20 L198.22,124.18 L198.45,124.17 L198.68,124.16 L198.91,124.15 L199.14,124.15 L199.37,124.14 L199.61,124.13 L199.84,124.13 L200.07,124.13 L200.30,124.12 L200.53,124.12 L200.76,124.12 L201.00,124.11 L201.23,124.11 L201.46,124.11 L201.69,124.11 L201.92,124.11 L202.15,124.11 L202.39,124.11 L202.62,124.10 L202.85,124.10 L203.08,124.10 L203.31,124.10 L203.54,124.10 L203.77,124.10 L204.01,124.10 L204.24,124.10 L204.47,124.10 L204.70,124.10 L204.93,124.10 L205.16,124.10 L205.40,124.10 L205.63,124.10 L205.86,124.10 L206.09,124.10 L206.32,124.10 L206.55,124.10 L206.79,124.10 L207.02,124.10 L207.25,124.10 L207.48,124.10 L207.71,124.10 L207.94,124.10 L208.18,124.10 L208.41,124.10 L208.64,124.10 L208.87,124.10 L209.10,124.10 L209.33,124.10 L209.56,124.10 L209.80,124.10 L210.03,124.10 L210.26,124.10 L210.49,124.10 L210.72,124.10 L210.95,124.10 L211.19,124.10 L211.42,124.10 L211.65,124.10 L211.88,124.10 L212.11,124.10 L212.34,124.10 L212.58,124.10 L212.81,124.10 L213.04,124.10 L213.27,124.10 L213.50,124.10 L213.73,124.10 L213.97,124.10 L214.20,124.10 L214.43,124.10 L214.66,124.10 L214.66,124.10 L214.89,134.59 L215.12,140.24 L215.35,143.30 L215.59,144.98 L215.82,145.90 L216.05,146.44 L216.28,146.75 L216.51,146.96 L216.74,147.10 L216.98,147.21 L217.21,147.30 L217.44,147.38 L217.67,147.45 L217.90,147.52 L218.13,147.59 L218.37,147.65 L218.60,147.72 L218.83,147.78 L219.06,147.85 L219.29,147.91 L220.22,148.15 L221.14,148.39 L222.07,148.61 L223.00,148.82 L223.92,149.02 L224.85,149.21 L225.78,149.39 L226.70,149.57 L227.63,149.74 L228.56,149.90 L229.48,150.05 L230.41,150.19 L231.34,150.33 L232.26,150.46 L233.19,150.59 L234.11,150.71 L235.04,150.82 L235.97,150.93 L236.89,151.04 L237.82,151.14 L238.75,151.23 L239.67,151.32 L240.60,151.41 L241.53,151.49 L242.45,151.57 L243.38,151.64 L244.30,151.72 L245.23,151.78 L246.16,151.85 L247.08,151.91 L248.01,151.97 L248.94,152.03 L249.86,152.08 L250.79,152.13 L251.72,152.18 L252.64,152.23 L253.57,152.27 L254.50,152.32 L255.42,152.36 L256.35,152.39 L257.27,152.43 L258.20,152.47 L259.13,152.50 L260.05,152.53 L260.98,152.56" fill="none" stroke="#d42a3e" stroke-width="0.9" stroke-linejoin="round" stroke-linecap="round"/>
<path d="M191.20,153.20 L191.50,153.20 L191.73,143.18 L191.96,138.32 L192.19,135.89 L192.43,134.61 L192.66,133.88 L192.89,133.42 L193.12,133.11 L193.35,132.87 L193.58,132.69 L193.82,132.54 L194.05,132.41 L194.28,132.30 L194.51,132.20 L194.74,132.12 L194.97,132.05 L195.21,131.99 L195.44,131.94 L195.67,131.89 L195.90,131.85 L196.13,131.82 L196.36,131.79 L196.60,131.76 L196.83,131.74 L197.06,131.72 L197.29,131.71 L197.52,131.69 L197.75,131.68 L197.98,131.67 L198.22,131.66 L198.45,131.65 L198.68,131.64 L198.91,131.64 L199.14,131.63 L199.37,131.63 L199.61,131.62 L199.84,131.62 L200.07,131.62 L200.30,131.61 L200.53,131.61 L200.76,131.61 L201.00,131.61 L201.23,131.61 L201.46,131.60 L201.69,131.60 L201.92,131.60 L202.15,131.60 L202.39,131.60 L202.62,131.60 L202.85,131.60 L203.08,131.60 L203.31,131.60 L203.54,131.60 L203.77,131.60 L204.01,131.60 L204.24,131.60 L204.47,131.60 L204.70,131.60 L204.93,131.60 L205.16,131.60 L205.40,131.60 L205.63,131.60 L205.86,131.60 L206.09,131.60 L206.32,131.60 L206.55,131.60 L206.79,131.60 L207.02,131.60 L207.25,131.60 L207.48,131.60 L207.71,131.60 L207.94,131.60 L208.18,131.60 L208.41,131.60 L208.64,131.60 L208.87,131.60 L209.10,131.60 L209.33,131.60 L209.56,131.60 L209.80,131.60 L210.03,131.60 L210.26,131.60 L210.49,131.60 L210.72,131.60 L210.95,131.60 L211.19,131.60 L211.42,131.60 L211.65,131.60 L211.88,131.60 L212.11,131.60 L212.34,131.60 L212.58,131.60 L212.81,131.60 L213.04,131.60 L213.27,131.60 L213.50,131.60 L213.73,131.60 L213.97,131.60 L214.20,131.60 L214.43,131.60 L214.66,131.60 L214.66,131.60 L214.89,139.39 L215.12,143.58 L215.35,145.85 L215.59,147.09 L215.82,147.78 L216.05,148.18 L216.28,148.41 L216.51,148.57 L216.74,148.67 L216.98,148.75 L217.21,148.82 L217.44,148.88 L217.67,148.93 L217.90,148.98 L218.13,149.03 L218.37,149.08 L218.60,149.13 L218.83,149.18 L219.06,149.23 L219.29,149.27 L220.22,149.45 L221.14,149.63 L222.07,149.79 L223.00,149.95 L223.92,150.10 L224.85,150.24 L225.78,150.38 L226.70,150.50 L227.63,150.63 L228.56,150.75 L229.48,150.86 L230.41,150.97 L231.34,151.07 L232.26,151.17 L233.19,151.26 L234.11,151.35 L235.04,151.44 L235.97,151.52 L236.89,151.59 L237.82,151.67 L238.75,151.74 L239.67,151.81 L240.60,151.87 L241.53,151.93 L242.45,151.99 L243.38,152.04 L244.30,152.10 L245.23,152.15 L246.16,152.20 L247.08,152.24 L248.01,152.29 L248.94,152.33 L249.86,152.37 L250.79,152.41 L251.72,152.44 L252.64,152.48 L253.57,152.51 L254.50,152.54 L255.42,152.57 L256.35,152.60 L257.27,152.63 L258.20,152.66 L259.13,152.68 L260.05,152.70 L260.98,152.73" fill="none" stroke="#d42a3e" stroke-width="0.9" stroke-linejoin="round" stroke-linecap="round"/>
<path d="M191.20,153.20 L191.50,153.20 L191.73,147.68 L191.96,145.01 L192.19,143.68 L192.43,142.97 L192.66,142.57 L192.89,142.32 L193.12,142.14 L193.35,142.02 L193.58,141.91 L193.82,141.83 L194.05,141.76 L194.28,141.70 L194.51,141.65 L194.74,141.60 L194.97,141.56 L195.21,141.53 L195.44,141.50 L195.67,141.48 L195.90,141.45 L196.13,141.44 L196.36,141.42 L196.60,141.40 L196.83,141.39 L197.06,141.38 L197.29,141.37 L197.52,141.36 L197.75,141.36 L197.98,141.35 L198.22,141.35 L198.45,141.34 L198.68,141.34 L198.91,141.33 L199.14,141.33 L199.37,141.33 L199.61,141.33 L199.84,141.32 L200.07,141.32 L200.30,141.32 L200.53,141.32 L200.76,141.32 L201.00,141.32 L201.23,141.32 L201.46,141.32 L201.69,141.32 L201.92,141.32 L202.15,141.32 L202.39,141.32 L202.62,141.31 L202.85,141.31 L203.08,141.31 L203.31,141.31 L203.54,141.31 L203.77,141.31 L204.01,141.31 L204.24,141.31 L204.47,141.31 L204.70,141.31 L204.93,141.31 L205.16,141.31 L205.40,141.31 L205.63,141.31 L205.86,141.31 L206.09,141.31 L206.32,141.31 L206.55,141.31 L206.79,141.31 L207.02,141.31 L207.25,141.31 L207.48,141.31 L207.71,141.31 L207.94,141.31 L208.18,141.31 L208.41,141.31 L208.64,141.31 L208.87,141.31 L209.10,141.31 L209.33,141.31 L209.56,141.31 L209.80,141.31 L210.03,141.31 L210.26,141.31 L210.49,141.31 L210.72,141.31 L210.95,141.31 L211.19,141.31 L211.42,141.31 L211.65,141.31 L211.88,141.31 L212.11,141.31 L212.34,141.31 L212.58,141.31 L212.81,141.31 L213.04,141.31 L213.27,141.31 L213.50,141.31 L213.73,141.31 L213.97,141.31 L214.20,141.31 L214.43,141.31 L214.66,141.31 L214.66,141.31 L214.89,145.60 L215.12,147.91 L215.35,149.16 L215.59,149.84 L215.82,150.22 L216.05,150.44 L216.28,150.57 L216.51,150.65 L216.74,150.71 L216.98,150.75 L217.21,150.79 L217.44,150.82 L217.67,150.85 L217.90,150.88 L218.13,150.91 L218.37,150.93 L218.60,150.96 L218.83,150.99 L219.06,151.01 L219.29,151.04 L220.22,151.14 L221.14,151.23 L222.07,151.32 L223.00,151.41 L223.92,151.49 L224.85,151.57 L225.78,151.65 L226.70,151.72 L227.63,151.79 L228.56,151.85 L229.48,151.91 L230.41,151.97 L231.34,152.03 L232.26,152.08 L233.19,152.13 L234.11,152.18 L235.04,152.23 L235.97,152.27 L236.89,152.32 L237.82,152.36 L238.75,152.40 L239.67,152.43 L240.60,152.47 L241.53,152.50 L242.45,152.53 L243.38,152.56 L244.30,152.59 L245.23,152.62 L246.16,152.65 L247.08,152.67 L248.01,152.70 L248.94,152.72 L249.86,152.74 L250.79,152.76 L251.72,152.78 L252.64,152.80 L253.57,152.82 L254.50,152.84 L255.42,152.86 L256.35,152.87 L257.27,152.89 L258.20,152.90 L259.13,152.91 L260.05,152.93 L260.98,152.94" fill="none" stroke="#d42a3e" stroke-width="0.9" stroke-linejoin="round" stroke-linecap="round"/>
<path d="M191.20,153.20 L191.50,153.20 L191.73,148.60 L191.96,146.38 L192.19,145.26 L192.43,144.68 L192.66,144.34 L192.89,144.13 L193.12,143.99 L193.35,143.88 L193.58,143.79 L193.82,143.72 L194.05,143.67 L194.28,143.62 L194.51,143.57 L194.74,143.54 L194.97,143.50 L195.21,143.48 L195.44,143.45 L195.67,143.43 L195.90,143.41 L196.13,143.40 L196.36,143.38 L196.60,143.37 L196.83,143.36 L197.06,143.35 L197.29,143.34 L197.52,143.34 L197.75,143.33 L197.98,143.33 L198.22,143.32 L198.45,143.32 L198.68,143.32 L198.91,143.31 L199.14,143.31 L199.37,143.31 L199.61,143.31 L199.84,143.30 L200.07,143.30 L200.30,143.30 L200.53,143.30 L200.76,143.30 L201.00,143.30 L201.23,143.30 L201.46,143.30 L201.69,143.30 L201.92,143.30 L202.15,143.30 L202.39,143.30 L202.62,143.30 L202.85,143.30 L203.08,143.30 L203.31,143.29 L203.54,143.29 L203.77,143.29 L204.01,143.29 L204.24,143.29 L204.47,143.29 L204.70,143.29 L204.93,143.29 L205.16,143.29 L205.40,143.29 L205.63,143.29 L205.86,143.29 L206.09,143.29 L206.32,143.29 L206.55,143.29 L206.79,143.29 L207.02,143.29 L207.25,143.29 L207.48,143.29 L207.71,143.29 L207.94,143.29 L208.18,143.29 L208.41,143.29 L208.64,143.29 L208.87,143.29 L209.10,143.29 L209.33,143.29 L209.56,143.29 L209.80,143.29 L210.03,143.29 L210.26,143.29 L210.49,143.29 L210.72,143.29 L210.95,143.29 L211.19,143.29 L211.42,143.29 L211.65,143.29 L211.88,143.29 L212.11,143.29 L212.34,143.29 L212.58,143.29 L212.81,143.29 L213.04,143.29 L213.27,143.29 L213.50,143.29 L213.73,143.29 L213.97,143.29 L214.20,143.29 L214.43,143.29 L214.66,143.29 L214.66,143.29 L214.89,146.87 L215.12,148.79 L215.35,149.83 L215.59,150.40 L215.82,150.72 L216.05,150.90 L216.28,151.01 L216.51,151.07 L216.74,151.12 L216.98,151.16 L217.21,151.19 L217.44,151.22 L217.67,151.24 L217.90,151.27 L218.13,151.29 L218.37,151.31 L218.60,151.33 L218.83,151.36 L219.06,151.38 L219.29,151.40 L220.22,151.48 L221.14,151.56 L222.07,151.64 L223.00,151.71 L223.92,151.78 L224.85,151.84 L225.78,151.90 L226.70,151.96 L227.63,152.02 L228.56,152.08 L229.48,152.13 L230.41,152.18 L231.34,152.22 L232.26,152.27 L233.19,152.31 L234.11,152.35 L235.04,152.39 L235.97,152.43 L236.89,152.46 L237.82,152.50 L238.75,152.53 L239.67,152.56 L240.60,152.59 L241.53,152.62 L242.45,152.64 L243.38,152.67 L244.30,152.69 L245.23,152.72 L246.16,152.74 L247.08,152.76 L248.01,152.78 L248.94,152.80 L249.86,152.82 L250.79,152.84 L251.72,152.85 L252.64,152.87 L253.57,152.88 L254.50,152.90 L255.42,152.91 L256.35,152.93 L257.27,152.94 L258.20,152.95 L259.13,152.96 L260.05,152.97 L260.98,152.98" fill="none" stroke="#d42a3e" stroke-width="0.9" stroke-linejoin="round" stroke-linecap="round"/>
<path d="M191.20,153.20 L191.50,153.20 L191.73,149.86 L191.96,148.24 L192.19,147.43 L192.43,147.01 L192.66,146.76 L192.89,146.61 L193.12,146.51 L193.35,146.43 L193.58,146.37 L193.82,146.32 L194.05,146.27 L194.28,146.24 L194.51,146.21 L194.74,146.18 L194.97,146.16 L195.21,146.14 L195.44,146.12 L195.67,146.10 L195.90,146.09 L196.13,146.08 L196.36,146.07 L196.60,146.06 L196.83,146.05 L197.06,146.05 L197.29,146.04 L197.52,146.04 L197.75,146.03 L197.98,146.03 L198.22,146.02 L198.45,146.02 L198.68,146.02 L198.91,146.02 L199.14,146.02 L199.37,146.01 L199.61,146.01 L199.84,146.01 L200.07,146.01 L200.30,146.01 L200.53,146.01 L200.76,146.01 L201.00,146.01 L201.23,146.01 L201.46,146.01 L201.69,146.01 L201.92,146.01 L202.15,146.01 L202.39,146.01 L202.62,146.01 L202.85,146.01 L203.08,146.01 L203.31,146.00 L203.54,146.00 L203.77,146.00 L204.01,146.00 L204.24,146.00 L204.47,146.00 L204.70,146.00 L204.93,146.00 L205.16,146.00 L205.40,146.00 L205.63,146.00 L205.86,146.00 L206.09,146.00 L206.32,146.00 L206.55,146.00 L206.79,146.00 L207.02,146.00 L207.25,146.00 L207.48,146.00 L207.71,146.00 L207.94,146.00 L208.18,146.00 L208.41,146.00 L208.64,146.00 L208.87,146.00 L209.10,146.00 L209.33,146.00 L209.56,146.00 L209.80,146.00 L210.03,146.00 L210.26,146.00 L210.49,146.00 L210.72,146.00 L210.95,146.00 L211.19,146.00 L211.42,146.00 L211.65,146.00 L211.88,146.00 L212.11,146.00 L212.34,146.00 L212.58,146.00 L212.81,146.00 L213.04,146.00 L213.27,146.00 L213.50,146.00 L213.73,146.00 L213.97,146.00 L214.20,146.00 L214.43,146.00 L214.66,146.00 L214.66,146.00 L214.89,148.60 L215.12,150.00 L215.35,150.75 L215.59,151.17 L215.82,151.40 L216.05,151.53 L216.28,151.61 L216.51,151.66 L216.74,151.69 L216.98,151.72 L217.21,151.74 L217.44,151.76 L217.67,151.78 L217.90,151.80 L218.13,151.81 L218.37,151.83 L218.60,151.84 L218.83,151.86 L219.06,151.88 L219.29,151.89 L220.22,151.95 L221.14,152.01 L222.07,152.06 L223.00,152.12 L223.92,152.17 L224.85,152.21 L225.78,152.26 L226.70,152.30 L227.63,152.34 L228.56,152.38 L229.48,152.42 L230.41,152.46 L231.34,152.49 L232.26,152.52 L233.19,152.55 L234.11,152.58 L235.04,152.61 L235.97,152.64 L236.89,152.67 L237.82,152.69 L238.75,152.71 L239.67,152.74 L240.60,152.76 L241.53,152.78 L242.45,152.80 L243.38,152.82 L244.30,152.83 L245.23,152.85 L246.16,152.87 L247.08,152.88 L248.01,152.90 L248.94,152.91 L249.86,152.92 L250.79,152.94 L251.72,152.95 L252.64,152.96 L253.57,152.97 L254.50,152.98 L255.42,152.99 L256.35,153.00 L257.27,153.01 L258.20,153.02 L259.13,153.03 L260.05,153.04 L260.98,153.04" fill="none" stroke="#d42a3e" stroke-width="0.9" stroke-linejoin="round" stroke-linecap="round"/>
<text x="205.20" y="97.30" font-size="6.0" fill="#222" textLength="19.5" lengthAdjust="spacingAndGlyphs">2.4 μM</text>
<text x="205.60" y="111.30" font-size="6.0" fill="#222" textLength="8.0" lengthAdjust="spacingAndGlyphs">1.2</text>
<text x="201.30" y="121.90" font-size="6.0" fill="#222" textLength="12.4" lengthAdjust="spacingAndGlyphs">0.72</text>
<text x="201.30" y="129.70" font-size="6.0" fill="#222" textLength="12.4" lengthAdjust="spacingAndGlyphs">0.48</text>
<text x="201.30" y="140.50" font-size="6.0" fill="#222" textLength="12.4" lengthAdjust="spacingAndGlyphs">0.24</text>
<text x="201.30" y="151.40" font-size="6.0" fill="#222" textLength="12.4" lengthAdjust="spacingAndGlyphs">0.12</text>
<text x="227.30" y="101.20" font-size="6.2" fill="#222" textLength="37.0" lengthAdjust="spacingAndGlyphs">p.Arg127Gln</text>
<text x="194.50" y="161.80" font-size="6.4" text-anchor="end" transform="rotate(-45 194.50 161.80)">0</text>
<text x="206.08" y="161.80" font-size="6.4" text-anchor="end" transform="rotate(-45 206.08 161.80)">50</text>
<text x="217.66" y="161.80" font-size="6.4" text-anchor="end" transform="rotate(-45 217.66 161.80)">100</text>
<text x="229.24" y="161.80" font-size="6.4" text-anchor="end" transform="rotate(-45 229.24 161.80)">150</text>
<text x="240.82" y="161.80" font-size="6.4" text-anchor="end" transform="rotate(-45 240.82 161.80)">200</text>
<text x="252.40" y="161.80" font-size="6.4" text-anchor="end" transform="rotate(-45 252.40 161.80)">250</text>
<text x="263.98" y="161.80" font-size="6.4" text-anchor="end" transform="rotate(-45 263.98 161.80)">300</text>
<text x="224.00" y="178.90" font-size="9.2" text-anchor="middle" fill="#111" textLength="25.0" lengthAdjust="spacingAndGlyphs" stroke="#111" stroke-width="0.3">Time (s)</text>
<text x="168.20" y="87.50" font-size="9.2" text-anchor="middle" fill="#111" textLength="45.0" lengthAdjust="spacingAndGlyphs" transform="rotate(-90 168.20 87.50)" stroke="#111" stroke-width="0.3">Response units</text>
<line x1="293.60" y1="19.20" x2="293.60" y2="151.70" stroke="#000" stroke-width="1.1"/>
<line x1="293.10" y1="151.20" x2="426.50" y2="151.20" stroke="#000" stroke-width="1.1"/>
<line x1="291.50" y1="143.80" x2="293.60" y2="143.80" stroke="#000" stroke-width="0.8"/>
<text x="291.00" y="146.50" font-size="7.9" text-anchor="end">0</text>
<line x1="291.50" y1="129.19" x2="293.60" y2="129.19" stroke="#000" stroke-width="0.8"/>
<text x="291.00" y="131.89" font-size="7.9" text-anchor="end">20</text>
<line x1="291.50" y1="114.58" x2="293.60" y2="114.58" stroke="#000" stroke-width="0.8"/>
<text x="291.00" y="117.28" font-size="7.9" text-anchor="end">40</text>
<line x1="291.50" y1="99.96" x2="293.60" y2="99.96" stroke="#000" stroke-width="0.8"/>
<text x="291.00" y="102.66" font-size="7.9" text-anchor="end">60</text>
<line x1="291.50" y1="85.35" x2="293.60" y2="85.35" stroke="#000" stroke-width="0.8"/>
<text x="291.00" y="88.05" font-size="7.9" text-anchor="end">80</text>
<line x1="291.50" y1="70.74" x2="293.60" y2="70.74" stroke="#000" stroke-width="0.8"/>
<text x="291.00" y="73.44" font-size="7.9" text-anchor="end">100</text>
<line x1="291.50" y1="56.13" x2="293.60" y2="56.13" stroke="#000" stroke-width="0.8"/>
<text x="291.00" y="58.83" font-size="7.9" text-anchor="end">120</text>
<line x1="291.50" y1="41.52" x2="293.60" y2="41.52" stroke="#000" stroke-width="0.8"/>
<text x="291.00" y="44.22" font-size="7.9" text-anchor="end">140</text>
<line x1="291.50" y1="26.90" x2="293.60" y2="26.90" stroke="#000" stroke-width="0.8"/>
<text x="291.00" y="29.60" font-size="7.9" text-anchor="end">160</text>
<line x1="294.50" y1="151.20" x2="294.50" y2="153.60" stroke="#000" stroke-width="0.8"/>
<text x="294.50" y="161.50" font-size="7.9" text-anchor="middle">50</text>
<line x1="311.84" y1="151.20" x2="311.84" y2="153.60" stroke="#000" stroke-width="0.8"/>
<text x="311.84" y="161.50" font-size="7.9" text-anchor="middle">52</text>
<line x1="329.18" y1="151.20" x2="329.18" y2="153.60" stroke="#000" stroke-width="0.8"/>
<text x="329.18" y="161.50" font-size="7.9" text-anchor="middle">54</text>
<line x1="346.52" y1="151.20" x2="346.52" y2="153.60" stroke="#000" stroke-width="0.8"/>
<text x="346.52" y="161.50" font-size="7.9" text-anchor="middle">56</text>
<line x1="363.86" y1="151.20" x2="363.86" y2="153.60" stroke="#000" stroke-width="0.8"/>
<text x="363.86" y="161.50" font-size="7.9" text-anchor="middle">58</text>
<line x1="381.20" y1="151.20" x2="381.20" y2="153.60" stroke="#000" stroke-width="0.8"/>
<text x="381.20" y="161.50" font-size="7.9" text-anchor="middle">60</text>
<line x1="398.54" y1="151.20" x2="398.54" y2="153.60" stroke="#000" stroke-width="0.8"/>
<text x="398.54" y="161.50" font-size="7.9" text-anchor="middle">62</text>
<line x1="415.88" y1="151.20" x2="415.88" y2="153.60" stroke="#000" stroke-width="0.8"/>
<text x="415.88" y="161.50" font-size="7.9" text-anchor="middle">64</text>
<line x1="296.60" y1="20.80" x2="296.60" y2="29.80" stroke="#333" stroke-width="0.6"/>
<text x="360.00" y="174.80" font-size="9.2" text-anchor="middle" fill="#111" textLength="53.5" lengthAdjust="spacingAndGlyphs" stroke="#111" stroke-width="0.3">Temperature (°C)</text>
<g transform="translate(269.8 84.5) rotate(-90) scale(0.745 1)"><text x="0" y="0" font-size="9.2" text-anchor="middle" fill="#111" stroke="#111" stroke-width="0.3">Excess C<tspan font-size="6" dy="1.8">p</tspan><tspan dy="-1.8"> (kJ/mol*K)</tspan></text></g>
<circle cx="305.60" cy="22.10" r="2.2" fill="#d42034" stroke="#222" stroke-width="0.5"/>
<circle cx="305.60" cy="31.20" r="2.2" fill="#1c4f86" stroke="#222" stroke-width="0.5"/>
<text x="311.00" y="24.80" font-size="7.6" fill="#222" textLength="30.7" lengthAdjust="spacingAndGlyphs">Wild-type</text>
<text x="311.00" y="33.90" font-size="7.6" fill="#222" textLength="43.2" lengthAdjust="spacingAndGlyphs">p-Arg127Gln</text>
<path d="M294.50,143.29 L294.93,143.27 L295.37,143.25 L295.80,143.23 L296.23,143.21 L296.67,143.18 L297.10,143.16 L297.53,143.14 L297.97,143.11 L298.40,143.08 L298.83,143.05 L299.27,143.02 L299.70,142.99 L300.14,142.96 L300.57,142.93 L301.00,142.89 L301.44,142.86 L301.87,142.82 L302.30,142.78 L302.74,142.74 L303.17,142.70 L303.60,142.65 L304.04,142.61 L304.47,142.56 L304.90,142.51 L305.34,142.46 L305.77,142.41 L306.20,142.35 L306.64,142.30 L307.07,142.24 L307.50,142.18 L307.94,142.11 L308.37,142.05 L308.81,141.98 L309.24,141.90 L309.67,141.83 L310.11,141.75 L310.54,141.67 L310.97,141.59 L311.41,141.50 L311.84,141.41 L312.27,141.32 L312.71,141.22 L313.14,141.12 L313.57,141.01 L314.01,140.90 L314.44,140.79 L314.87,140.67 L315.31,140.55 L315.74,140.42 L316.17,140.29 L316.61,140.15 L317.04,140.01 L317.48,139.86 L317.91,139.71 L318.34,139.55 L318.78,139.38 L319.21,139.21 L319.64,139.03 L320.08,138.84 L320.51,138.65 L320.94,138.45 L321.38,138.24 L321.81,138.03 L322.24,137.80 L322.68,137.57 L323.11,137.33 L323.54,137.08 L323.98,136.82 L324.41,136.55 L324.84,136.27 L325.28,135.99 L325.71,135.69 L326.15,135.38 L326.58,135.05 L327.01,134.72 L327.45,134.37 L327.88,134.02 L328.31,133.64 L328.75,133.26 L329.18,132.86 L329.61,132.45 L330.05,132.02 L330.48,131.58 L330.91,131.12 L331.35,130.64 L331.78,130.15 L332.21,129.64 L332.65,129.12 L333.08,128.57 L333.51,128.01 L333.95,127.43 L334.38,126.83 L334.82,126.21 L335.25,125.57 L335.68,124.90 L336.12,124.22 L336.55,123.51 L336.98,122.78 L337.42,122.03 L337.85,121.25 L338.28,120.45 L338.72,119.63 L339.15,118.78 L339.58,117.90 L340.02,117.00 L340.45,116.07 L340.88,115.11 L341.32,114.13 L341.75,113.12 L342.18,112.08 L342.62,111.01 L343.05,109.92 L343.49,108.79 L343.92,107.64 L344.35,106.46 L344.79,105.25 L345.22,104.01 L345.65,102.74 L346.09,101.44 L346.52,100.11 L346.95,98.76 L347.39,97.37 L347.82,95.96 L348.25,94.52 L348.69,93.05 L349.12,91.56 L349.55,90.04 L349.99,88.50 L350.42,86.94 L350.85,85.35 L351.29,83.74 L351.72,82.11 L352.16,80.46 L352.59,78.80 L353.02,77.12 L353.46,75.43 L353.89,73.73 L354.32,72.01 L354.76,70.30 L355.19,68.57 L355.62,66.85 L356.06,65.12 L356.49,63.40 L356.92,61.68 L357.36,59.97 L357.79,58.28 L358.22,56.60 L358.66,54.94 L359.09,53.29 L359.52,51.68 L359.96,50.09 L360.39,48.53 L360.83,47.01 L361.26,45.53 L361.69,44.09 L362.13,42.70 L362.56,41.35 L362.99,40.06 L363.43,38.82 L363.86,37.64 L364.29,36.53 L364.73,35.48 L365.16,34.49 L365.59,33.58 L366.03,32.74 L366.46,31.98 L366.89,31.29 L367.33,30.69 L367.76,30.16 L368.19,29.72 L368.63,29.37 L369.06,29.10 L369.50,28.92 L369.93,28.82 L370.36,28.82 L370.80,28.99 L371.23,29.36 L371.66,29.91 L372.10,30.66 L372.53,31.59 L372.96,32.69 L373.40,33.97 L373.83,35.42 L374.26,37.03 L374.70,38.79 L375.13,40.69 L375.56,42.73 L376.00,44.90 L376.43,47.18 L376.86,49.57 L377.30,52.05 L377.73,54.62 L378.17,57.26 L378.60,59.97 L379.03,62.72 L379.47,65.52 L379.90,68.35 L380.33,71.19 L380.77,74.05 L381.20,76.91 L381.63,79.76 L382.07,82.59 L382.50,85.39 L382.93,88.16 L383.37,90.88 L383.80,93.56 L384.23,96.18 L384.67,98.74 L385.10,101.23 L385.53,103.66 L385.97,106.01 L386.40,108.28 L386.84,110.47 L387.27,112.58 L387.70,114.60 L388.14,116.54 L388.57,118.39 L389.00,120.16 L389.44,121.84 L389.87,123.43 L390.30,124.94 L390.74,126.37 L391.17,127.72 L391.60,128.99 L392.04,130.18 L392.47,131.30 L392.90,132.34 L393.34,133.31 L393.77,134.22 L394.20,135.07 L394.64,135.85 L395.07,136.57 L395.51,137.24 L395.94,137.86 L396.37,138.43 L396.81,138.95 L397.24,139.43 L397.67,139.87 L398.11,140.27 L398.54,140.63 L398.97,140.96 L399.41,141.27 L399.84,141.54 L400.27,141.79 L400.71,142.01 L401.14,142.21 L401.57,142.39 L402.01,142.55 L402.44,142.70 L402.87,142.83 L403.31,142.95 L403.74,143.05 L404.18,143.14 L404.61,143.22 L405.04,143.30 L405.48,143.36 L405.91,143.42 L406.34,143.47 L406.78,143.51 L407.21,143.55 L407.64,143.58 L408.08,143.61 L408.51,143.64 L408.94,143.66 L409.38,143.68 L409.81,143.70 L410.24,143.71 L410.68,143.72 L411.11,143.74 L411.54,143.74 L411.98,143.75 L412.41,143.76 L412.85,143.77 L413.28,143.77 L413.71,143.78 L414.15,143.78 L414.58,143.78 L415.01,143.79 L415.45,143.79 L415.88,143.79 L416.31,143.79 L416.75,143.79 L417.18,143.79 L417.61,143.80 L418.05,143.80 L418.48,143.80 L418.91,143.80 L419.35,143.80 L419.78,143.80 L420.21,143.80 L420.65,143.80 L421.08,143.80 L421.52,143.80 L421.95,143.80 L422.38,143.80 L422.82,143.80 L423.25,143.80 L423.68,143.80 L424.12,143.80 L424.55,143.80 L424.98,143.80 L425.42,143.80 L425.85,143.80 L426.28,143.80 L426.72,143.80" fill="none" stroke="#5a9ad0" stroke-width="0.9" stroke-linejoin="round" stroke-linecap="round"/>
<path d="M294.50,143.65 L294.93,143.64 L295.37,143.63 L295.80,143.63 L296.23,143.62 L296.67,143.61 L297.10,143.60 L297.53,143.60 L297.97,143.59 L298.40,143.58 L298.83,143.57 L299.27,143.56 L299.70,143.55 L300.14,143.54 L300.57,143.53 L301.00,143.52 L301.44,143.51 L301.87,143.50 L302.30,143.49 L302.74,143.47 L303.17,143.46 L303.60,143.45 L304.04,143.43 L304.47,143.42 L304.90,143.40 L305.34,143.39 L305.77,143.37 L306.20,143.35 L306.64,143.33 L307.07,143.31 L307.50,143.29 L307.94,143.27 L308.37,143.25 L308.81,143.23 L309.24,143.21 L309.67,143.18 L310.11,143.16 L310.54,143.13 L310.97,143.11 L311.41,143.08 L311.84,143.05 L312.27,143.02 L312.71,142.99 L313.14,142.96 L313.57,142.92 L314.01,142.89 L314.44,142.85 L314.87,142.81 L315.31,142.77 L315.74,142.73 L316.17,142.69 L316.61,142.65 L317.04,142.60 L317.48,142.55 L317.91,142.50 L318.34,142.45 L318.78,142.39 L319.21,142.34 L319.64,142.28 L320.08,142.22 L320.51,142.16 L320.94,142.09 L321.38,142.02 L321.81,141.95 L322.24,141.88 L322.68,141.80 L323.11,141.72 L323.54,141.64 L323.98,141.55 L324.41,141.46 L324.84,141.37 L325.28,141.27 L325.71,141.17 L326.15,141.06 L326.58,140.96 L327.01,140.84 L327.45,140.73 L327.88,140.60 L328.31,140.48 L328.75,140.34 L329.18,140.21 L329.61,140.06 L330.05,139.92 L330.48,139.76 L330.91,139.60 L331.35,139.44 L331.78,139.26 L332.21,139.08 L332.65,138.90 L333.08,138.71 L333.51,138.51 L333.95,138.30 L334.38,138.08 L334.82,137.86 L335.25,137.62 L335.68,137.38 L336.12,137.13 L336.55,136.87 L336.98,136.60 L337.42,136.32 L337.85,136.02 L338.28,135.72 L338.72,135.41 L339.15,135.08 L339.58,134.75 L340.02,134.40 L340.45,134.03 L340.88,133.66 L341.32,133.27 L341.75,132.86 L342.18,132.44 L342.62,132.01 L343.05,131.56 L343.49,131.09 L343.92,130.61 L344.35,130.11 L344.79,129.59 L345.22,129.05 L345.65,128.50 L346.09,127.93 L346.52,127.33 L346.95,126.72 L347.39,126.08 L347.82,125.43 L348.25,124.75 L348.69,124.05 L349.12,123.32 L349.55,122.57 L349.99,121.80 L350.42,121.00 L350.85,120.18 L351.29,119.33 L351.72,118.46 L352.16,117.55 L352.59,116.62 L353.02,115.67 L353.46,114.68 L353.89,113.67 L354.32,112.62 L354.76,111.55 L355.19,110.45 L355.62,109.31 L356.06,108.15 L356.49,106.95 L356.92,105.73 L357.36,104.47 L357.79,103.18 L358.22,101.87 L358.66,100.52 L359.09,99.14 L359.52,97.72 L359.96,96.28 L360.39,94.81 L360.83,93.31 L361.26,91.78 L361.69,90.22 L362.13,88.64 L362.56,87.03 L362.99,85.39 L363.43,83.73 L363.86,82.05 L364.29,80.34 L364.73,78.62 L365.16,76.87 L365.59,75.11 L366.03,73.34 L366.46,71.55 L366.89,69.75 L367.33,67.95 L367.76,66.14 L368.19,64.32 L368.63,62.51 L369.06,60.69 L369.50,58.89 L369.93,57.09 L370.36,55.31 L370.80,53.54 L371.23,51.79 L371.66,50.06 L372.10,48.35 L372.53,46.68 L372.96,45.04 L373.40,43.44 L373.83,41.88 L374.26,40.36 L374.70,38.89 L375.13,37.48 L375.56,36.12 L376.00,34.82 L376.43,33.58 L376.86,32.41 L377.30,31.30 L377.73,30.27 L378.17,29.32 L378.60,28.44 L379.03,27.65 L379.47,26.93 L379.90,26.31 L380.33,25.77 L380.77,25.32 L381.20,24.96 L381.63,24.69 L382.07,24.51 L382.50,24.43 L382.93,24.46 L383.37,24.71 L383.80,25.18 L384.23,25.87 L384.67,26.78 L385.10,27.91 L385.53,29.24 L385.97,30.76 L386.40,32.48 L386.84,34.38 L387.27,36.45 L387.70,38.68 L388.14,41.05 L388.57,43.57 L389.00,46.20 L389.44,48.95 L389.87,51.79 L390.30,54.72 L390.74,57.72 L391.17,60.77 L391.60,63.86 L392.04,66.99 L392.47,70.13 L392.90,73.28 L393.34,76.42 L393.77,79.54 L394.20,82.64 L394.64,85.69 L395.07,88.70 L395.51,91.65 L395.94,94.53 L396.37,97.34 L396.81,100.08 L397.24,102.73 L397.67,105.30 L398.11,107.77 L398.54,110.14 L398.97,112.42 L399.41,114.60 L399.84,116.68 L400.27,118.66 L400.71,120.54 L401.14,122.32 L401.57,124.00 L402.01,125.59 L402.44,127.07 L402.87,128.47 L403.31,129.78 L403.74,131.00 L404.18,132.13 L404.61,133.18 L405.04,134.16 L405.48,135.07 L405.91,135.90 L406.34,136.67 L406.78,137.37 L407.21,138.02 L407.64,138.61 L408.08,139.15 L408.51,139.64 L408.94,140.09 L409.38,140.49 L409.81,140.86 L410.24,141.19 L410.68,141.49 L411.11,141.76 L411.54,142.00 L411.98,142.21 L412.41,142.40 L412.85,142.57 L413.28,142.73 L413.71,142.86 L414.15,142.98 L414.58,143.09 L415.01,143.18 L415.45,143.26 L415.88,143.33 L416.31,143.40 L416.75,143.45 L417.18,143.50 L417.61,143.54 L418.05,143.58 L418.48,143.61 L418.91,143.64 L419.35,143.66 L419.78,143.68 L420.21,143.70 L420.65,143.72 L421.08,143.73 L421.52,143.74 L421.95,143.75 L422.38,143.76 L422.82,143.76 L423.25,143.77 L423.68,143.77 L424.12,143.78 L424.55,143.78 L424.98,143.79 L425.42,143.79 L425.85,143.79 L426.28,143.79 L426.72,143.79" fill="none" stroke="#e8606e" stroke-width="0.9" stroke-linejoin="round" stroke-linecap="round"/>
<circle cx="294.50" cy="143.29" r="1.42" fill="#1c4f86" stroke="#0d1d33" stroke-width="0.5"/>
<circle cx="296.23" cy="143.21" r="1.42" fill="#1c4f86" stroke="#0d1d33" stroke-width="0.5"/>
<circle cx="297.97" cy="143.11" r="1.42" fill="#1c4f86" stroke="#0d1d33" stroke-width="0.5"/>
<circle cx="299.70" cy="142.99" r="1.42" fill="#1c4f86" stroke="#0d1d33" stroke-width="0.5"/>
<circle cx="301.44" cy="142.86" r="1.42" fill="#1c4f86" stroke="#0d1d33" stroke-width="0.5"/>
<circle cx="303.17" cy="142.70" r="1.42" fill="#1c4f86" stroke="#0d1d33" stroke-width="0.5"/>
<circle cx="304.90" cy="142.51" r="1.42" fill="#1c4f86" stroke="#0d1d33" stroke-width="0.5"/>
<circle cx="306.64" cy="142.30" r="1.42" fill="#1c4f86" stroke="#0d1d33" stroke-width="0.5"/>
<circle cx="308.37" cy="142.05" r="1.42" fill="#1c4f86" stroke="#0d1d33" stroke-width="0.5"/>
<circle cx="310.11" cy="141.75" r="1.42" fill="#1c4f86" stroke="#0d1d33" stroke-width="0.5"/>
<circle cx="311.84" cy="141.41" r="1.42" fill="#1c4f86" stroke="#0d1d33" stroke-width="0.5"/>
<circle cx="313.57" cy="141.01" r="1.42" fill="#1c4f86" stroke="#0d1d33" stroke-width="0.5"/>
<circle cx="315.31" cy="140.55" r="1.42" fill="#1c4f86" stroke="#0d1d33" stroke-width="0.5"/>
<circle cx="317.04" cy="140.01" r="1.42" fill="#1c4f86" stroke="#0d1d33" stroke-width="0.5"/>
<circle cx="318.78" cy="139.38" r="1.42" fill="#1c4f86" stroke="#0d1d33" stroke-width="0.5"/>
<circle cx="320.51" cy="138.65" r="1.42" fill="#1c4f86" stroke="#0d1d33" stroke-width="0.5"/>
<circle cx="322.24" cy="137.80" r="1.42" fill="#1c4f86" stroke="#0d1d33" stroke-width="0.5"/>
<circle cx="323.98" cy="136.82" r="1.42" fill="#1c4f86" stroke="#0d1d33" stroke-width="0.5"/>
<circle cx="325.71" cy="135.69" r="1.42" fill="#1c4f86" stroke="#0d1d33" stroke-width="0.5"/>
<circle cx="327.45" cy="134.37" r="1.42" fill="#1c4f86" stroke="#0d1d33" stroke-width="0.5"/>
<circle cx="329.18" cy="132.86" r="1.42" fill="#1c4f86" stroke="#0d1d33" stroke-width="0.5"/>
<circle cx="330.91" cy="131.12" r="1.42" fill="#1c4f86" stroke="#0d1d33" stroke-width="0.5"/>
<circle cx="332.65" cy="129.12" r="1.42" fill="#1c4f86" stroke="#0d1d33" stroke-width="0.5"/>
<circle cx="334.38" cy="126.83" r="1.42" fill="#1c4f86" stroke="#0d1d33" stroke-width="0.5"/>
<circle cx="336.12" cy="124.22" r="1.42" fill="#1c4f86" stroke="#0d1d33" stroke-width="0.5"/>
<circle cx="337.85" cy="121.25" r="1.42" fill="#1c4f86" stroke="#0d1d33" stroke-width="0.5"/>
<circle cx="339.58" cy="117.90" r="1.42" fill="#1c4f86" stroke="#0d1d33" stroke-width="0.5"/>
<circle cx="341.32" cy="114.13" r="1.42" fill="#1c4f86" stroke="#0d1d33" stroke-width="0.5"/>
<circle cx="343.05" cy="109.92" r="1.42" fill="#1c4f86" stroke="#0d1d33" stroke-width="0.5"/>
<circle cx="344.79" cy="105.25" r="1.42" fill="#1c4f86" stroke="#0d1d33" stroke-width="0.5"/>
<circle cx="346.52" cy="100.11" r="1.42" fill="#1c4f86" stroke="#0d1d33" stroke-width="0.5"/>
<circle cx="348.25" cy="94.52" r="1.42" fill="#1c4f86" stroke="#0d1d33" stroke-width="0.5"/>
<circle cx="349.99" cy="88.50" r="1.42" fill="#1c4f86" stroke="#0d1d33" stroke-width="0.5"/>
<circle cx="351.72" cy="82.11" r="1.42" fill="#1c4f86" stroke="#0d1d33" stroke-width="0.5"/>
<circle cx="353.46" cy="75.43" r="1.42" fill="#1c4f86" stroke="#0d1d33" stroke-width="0.5"/>
<circle cx="355.19" cy="68.57" r="1.42" fill="#1c4f86" stroke="#0d1d33" stroke-width="0.5"/>
<circle cx="356.92" cy="61.68" r="1.42" fill="#1c4f86" stroke="#0d1d33" stroke-width="0.5"/>
<circle cx="358.66" cy="54.94" r="1.42" fill="#1c4f86" stroke="#0d1d33" stroke-width="0.5"/>
<circle cx="360.39" cy="48.53" r="1.42" fill="#1c4f86" stroke="#0d1d33" stroke-width="0.5"/>
<circle cx="362.13" cy="42.70" r="1.42" fill="#1c4f86" stroke="#0d1d33" stroke-width="0.5"/>
<circle cx="363.86" cy="37.64" r="1.42" fill="#1c4f86" stroke="#0d1d33" stroke-width="0.5"/>
<circle cx="365.59" cy="33.58" r="1.42" fill="#1c4f86" stroke="#0d1d33" stroke-width="0.5"/>
<circle cx="367.33" cy="30.69" r="1.42" fill="#1c4f86" stroke="#0d1d33" stroke-width="0.5"/>
<circle cx="369.06" cy="29.10" r="1.42" fill="#1c4f86" stroke="#0d1d33" stroke-width="0.5"/>
<circle cx="370.80" cy="28.99" r="1.42" fill="#1c4f86" stroke="#0d1d33" stroke-width="0.5"/>
<circle cx="372.53" cy="31.59" r="1.42" fill="#1c4f86" stroke="#0d1d33" stroke-width="0.5"/>
<circle cx="374.26" cy="37.03" r="1.42" fill="#1c4f86" stroke="#0d1d33" stroke-width="0.5"/>
<circle cx="376.00" cy="44.90" r="1.42" fill="#1c4f86" stroke="#0d1d33" stroke-width="0.5"/>
<circle cx="377.73" cy="54.62" r="1.42" fill="#1c4f86" stroke="#0d1d33" stroke-width="0.5"/>
<circle cx="379.47" cy="65.52" r="1.42" fill="#1c4f86" stroke="#0d1d33" stroke-width="0.5"/>
<circle cx="381.20" cy="76.91" r="1.42" fill="#1c4f86" stroke="#0d1d33" stroke-width="0.5"/>
<circle cx="382.93" cy="88.16" r="1.42" fill="#1c4f86" stroke="#0d1d33" stroke-width="0.5"/>
<circle cx="384.67" cy="98.74" r="1.42" fill="#1c4f86" stroke="#0d1d33" stroke-width="0.5"/>
<circle cx="386.40" cy="108.28" r="1.42" fill="#1c4f86" stroke="#0d1d33" stroke-width="0.5"/>
<circle cx="388.14" cy="116.54" r="1.42" fill="#1c4f86" stroke="#0d1d33" stroke-width="0.5"/>
<circle cx="389.87" cy="123.43" r="1.42" fill="#1c4f86" stroke="#0d1d33" stroke-width="0.5"/>
<circle cx="391.60" cy="128.99" r="1.42" fill="#1c4f86" stroke="#0d1d33" stroke-width="0.5"/>
<circle cx="393.34" cy="133.31" r="1.42" fill="#1c4f86" stroke="#0d1d33" stroke-width="0.5"/>
<circle cx="395.07" cy="136.57" r="1.42" fill="#1c4f86" stroke="#0d1d33" stroke-width="0.5"/>
<circle cx="396.81" cy="138.95" r="1.42" fill="#1c4f86" stroke="#0d1d33" stroke-width="0.5"/>
<circle cx="398.54" cy="140.63" r="1.42" fill="#1c4f86" stroke="#0d1d33" stroke-width="0.5"/>
<circle cx="400.27" cy="141.79" r="1.42" fill="#1c4f86" stroke="#0d1d33" stroke-width="0.5"/>
<circle cx="402.01" cy="142.55" r="1.42" fill="#1c4f86" stroke="#0d1d33" stroke-width="0.5"/>
<circle cx="403.74" cy="143.05" r="1.42" fill="#1c4f86" stroke="#0d1d33" stroke-width="0.5"/>
<circle cx="405.48" cy="143.36" r="1.42" fill="#1c4f86" stroke="#0d1d33" stroke-width="0.5"/>
<circle cx="407.21" cy="143.55" r="1.42" fill="#1c4f86" stroke="#0d1d33" stroke-width="0.5"/>
<circle cx="408.94" cy="143.66" r="1.42" fill="#1c4f86" stroke="#0d1d33" stroke-width="0.5"/>
<circle cx="410.68" cy="143.72" r="1.42" fill="#1c4f86" stroke="#0d1d33" stroke-width="0.5"/>
<circle cx="412.41" cy="143.76" r="1.42" fill="#1c4f86" stroke="#0d1d33" stroke-width="0.5"/>
<circle cx="414.15" cy="143.78" r="1.42" fill="#1c4f86" stroke="#0d1d33" stroke-width="0.5"/>
<circle cx="415.88" cy="143.79" r="1.42" fill="#1c4f86" stroke="#0d1d33" stroke-width="0.5"/>
<circle cx="417.61" cy="143.80" r="1.42" fill="#1c4f86" stroke="#0d1d33" stroke-width="0.5"/>
<circle cx="419.35" cy="143.80" r="1.42" fill="#1c4f86" stroke="#0d1d33" stroke-width="0.5"/>
<circle cx="421.08" cy="143.80" r="1.42" fill="#1c4f86" stroke="#0d1d33" stroke-width="0.5"/>
<circle cx="422.82" cy="143.80" r="1.42" fill="#1c4f86" stroke="#0d1d33" stroke-width="0.5"/>
<circle cx="424.55" cy="143.80" r="1.42" fill="#1c4f86" stroke="#0d1d33" stroke-width="0.5"/>
<circle cx="426.28" cy="143.80" r="1.42" fill="#1c4f86" stroke="#0d1d33" stroke-width="0.5"/>
<circle cx="295.37" cy="143.63" r="1.42" fill="#d42034" stroke="#3a0a10" stroke-width="0.5"/>
<circle cx="297.10" cy="143.60" r="1.42" fill="#d42034" stroke="#3a0a10" stroke-width="0.5"/>
<circle cx="298.84" cy="143.57" r="1.42" fill="#d42034" stroke="#3a0a10" stroke-width="0.5"/>
<circle cx="300.57" cy="143.53" r="1.42" fill="#d42034" stroke="#3a0a10" stroke-width="0.5"/>
<circle cx="302.30" cy="143.49" r="1.42" fill="#d42034" stroke="#3a0a10" stroke-width="0.5"/>
<circle cx="304.04" cy="143.43" r="1.42" fill="#d42034" stroke="#3a0a10" stroke-width="0.5"/>
<circle cx="305.77" cy="143.37" r="1.42" fill="#d42034" stroke="#3a0a10" stroke-width="0.5"/>
<circle cx="307.51" cy="143.29" r="1.42" fill="#d42034" stroke="#3a0a10" stroke-width="0.5"/>
<circle cx="309.24" cy="143.21" r="1.42" fill="#d42034" stroke="#3a0a10" stroke-width="0.5"/>
<circle cx="310.97" cy="143.11" r="1.42" fill="#d42034" stroke="#3a0a10" stroke-width="0.5"/>
<circle cx="312.71" cy="142.99" r="1.42" fill="#d42034" stroke="#3a0a10" stroke-width="0.5"/>
<circle cx="314.44" cy="142.85" r="1.42" fill="#d42034" stroke="#3a0a10" stroke-width="0.5"/>
<circle cx="316.18" cy="142.69" r="1.42" fill="#d42034" stroke="#3a0a10" stroke-width="0.5"/>
<circle cx="317.91" cy="142.50" r="1.42" fill="#d42034" stroke="#3a0a10" stroke-width="0.5"/>
<circle cx="319.64" cy="142.28" r="1.42" fill="#d42034" stroke="#3a0a10" stroke-width="0.5"/>
<circle cx="321.38" cy="142.02" r="1.42" fill="#d42034" stroke="#3a0a10" stroke-width="0.5"/>
<circle cx="323.11" cy="141.72" r="1.42" fill="#d42034" stroke="#3a0a10" stroke-width="0.5"/>
<circle cx="324.85" cy="141.37" r="1.42" fill="#d42034" stroke="#3a0a10" stroke-width="0.5"/>
<circle cx="326.58" cy="140.96" r="1.42" fill="#d42034" stroke="#3a0a10" stroke-width="0.5"/>
<circle cx="328.31" cy="140.48" r="1.42" fill="#d42034" stroke="#3a0a10" stroke-width="0.5"/>
<circle cx="330.05" cy="139.92" r="1.42" fill="#d42034" stroke="#3a0a10" stroke-width="0.5"/>
<circle cx="331.78" cy="139.26" r="1.42" fill="#d42034" stroke="#3a0a10" stroke-width="0.5"/>
<circle cx="333.52" cy="138.51" r="1.42" fill="#d42034" stroke="#3a0a10" stroke-width="0.5"/>
<circle cx="335.25" cy="137.62" r="1.42" fill="#d42034" stroke="#3a0a10" stroke-width="0.5"/>
<circle cx="336.98" cy="136.60" r="1.42" fill="#d42034" stroke="#3a0a10" stroke-width="0.5"/>
<circle cx="338.72" cy="135.41" r="1.42" fill="#d42034" stroke="#3a0a10" stroke-width="0.5"/>
<circle cx="340.45" cy="134.03" r="1.42" fill="#d42034" stroke="#3a0a10" stroke-width="0.5"/>
<circle cx="342.19" cy="132.44" r="1.42" fill="#d42034" stroke="#3a0a10" stroke-width="0.5"/>
<circle cx="343.92" cy="130.61" r="1.42" fill="#d42034" stroke="#3a0a10" stroke-width="0.5"/>
<circle cx="345.65" cy="128.50" r="1.42" fill="#d42034" stroke="#3a0a10" stroke-width="0.5"/>
<circle cx="347.39" cy="126.08" r="1.42" fill="#d42034" stroke="#3a0a10" stroke-width="0.5"/>
<circle cx="349.12" cy="123.32" r="1.42" fill="#d42034" stroke="#3a0a10" stroke-width="0.5"/>
<circle cx="350.86" cy="120.18" r="1.42" fill="#d42034" stroke="#3a0a10" stroke-width="0.5"/>
<circle cx="352.59" cy="116.62" r="1.42" fill="#d42034" stroke="#3a0a10" stroke-width="0.5"/>
<circle cx="354.32" cy="112.62" r="1.42" fill="#d42034" stroke="#3a0a10" stroke-width="0.5"/>
<circle cx="356.06" cy="108.15" r="1.42" fill="#d42034" stroke="#3a0a10" stroke-width="0.5"/>
<circle cx="357.79" cy="103.18" r="1.42" fill="#d42034" stroke="#3a0a10" stroke-width="0.5"/>
<circle cx="359.53" cy="97.72" r="1.42" fill="#d42034" stroke="#3a0a10" stroke-width="0.5"/>
<circle cx="361.26" cy="91.78" r="1.42" fill="#d42034" stroke="#3a0a10" stroke-width="0.5"/>
<circle cx="362.99" cy="85.39" r="1.42" fill="#d42034" stroke="#3a0a10" stroke-width="0.5"/>
<circle cx="364.73" cy="78.62" r="1.42" fill="#d42034" stroke="#3a0a10" stroke-width="0.5"/>
<circle cx="366.46" cy="71.55" r="1.42" fill="#d42034" stroke="#3a0a10" stroke-width="0.5"/>
<circle cx="368.20" cy="64.32" r="1.42" fill="#d42034" stroke="#3a0a10" stroke-width="0.5"/>
<circle cx="369.93" cy="57.09" r="1.42" fill="#d42034" stroke="#3a0a10" stroke-width="0.5"/>
<circle cx="371.66" cy="50.06" r="1.42" fill="#d42034" stroke="#3a0a10" stroke-width="0.5"/>
<circle cx="373.40" cy="43.44" r="1.42" fill="#d42034" stroke="#3a0a10" stroke-width="0.5"/>
<circle cx="375.13" cy="37.48" r="1.42" fill="#d42034" stroke="#3a0a10" stroke-width="0.5"/>
<circle cx="376.87" cy="32.41" r="1.42" fill="#d42034" stroke="#3a0a10" stroke-width="0.5"/>
<circle cx="378.60" cy="28.44" r="1.42" fill="#d42034" stroke="#3a0a10" stroke-width="0.5"/>
<circle cx="380.33" cy="25.77" r="1.42" fill="#d42034" stroke="#3a0a10" stroke-width="0.5"/>
<circle cx="382.07" cy="24.51" r="1.42" fill="#d42034" stroke="#3a0a10" stroke-width="0.5"/>
<circle cx="383.80" cy="25.18" r="1.42" fill="#d42034" stroke="#3a0a10" stroke-width="0.5"/>
<circle cx="385.54" cy="29.24" r="1.42" fill="#d42034" stroke="#3a0a10" stroke-width="0.5"/>
<circle cx="387.27" cy="36.45" r="1.42" fill="#d42034" stroke="#3a0a10" stroke-width="0.5"/>
<circle cx="389.00" cy="46.20" r="1.42" fill="#d42034" stroke="#3a0a10" stroke-width="0.5"/>
<circle cx="390.74" cy="57.72" r="1.42" fill="#d42034" stroke="#3a0a10" stroke-width="0.5"/>
<circle cx="392.47" cy="70.13" r="1.42" fill="#d42034" stroke="#3a0a10" stroke-width="0.5"/>
<circle cx="394.21" cy="82.64" r="1.42" fill="#d42034" stroke="#3a0a10" stroke-width="0.5"/>
<circle cx="395.94" cy="94.53" r="1.42" fill="#d42034" stroke="#3a0a10" stroke-width="0.5"/>
<circle cx="397.67" cy="105.30" r="1.42" fill="#d42034" stroke="#3a0a10" stroke-width="0.5"/>
<circle cx="399.41" cy="114.60" r="1.42" fill="#d42034" stroke="#3a0a10" stroke-width="0.5"/>
<circle cx="401.14" cy="122.32" r="1.42" fill="#d42034" stroke="#3a0a10" stroke-width="0.5"/>
<circle cx="402.88" cy="128.47" r="1.42" fill="#d42034" stroke="#3a0a10" stroke-width="0.5"/>
<circle cx="404.61" cy="133.18" r="1.42" fill="#d42034" stroke="#3a0a10" stroke-width="0.5"/>
<circle cx="406.34" cy="136.67" r="1.42" fill="#d42034" stroke="#3a0a10" stroke-width="0.5"/>
<circle cx="408.08" cy="139.15" r="1.42" fill="#d42034" stroke="#3a0a10" stroke-width="0.5"/>
<circle cx="409.81" cy="140.86" r="1.42" fill="#d42034" stroke="#3a0a10" stroke-width="0.5"/>
<circle cx="411.55" cy="142.00" r="1.42" fill="#d42034" stroke="#3a0a10" stroke-width="0.5"/>
<circle cx="413.28" cy="142.73" r="1.42" fill="#d42034" stroke="#3a0a10" stroke-width="0.5"/>
<circle cx="415.01" cy="143.18" r="1.42" fill="#d42034" stroke="#3a0a10" stroke-width="0.5"/>
<circle cx="416.75" cy="143.45" r="1.42" fill="#d42034" stroke="#3a0a10" stroke-width="0.5"/>
<circle cx="418.48" cy="143.61" r="1.42" fill="#d42034" stroke="#3a0a10" stroke-width="0.5"/>
<circle cx="420.22" cy="143.70" r="1.42" fill="#d42034" stroke="#3a0a10" stroke-width="0.5"/>
<circle cx="421.95" cy="143.75" r="1.42" fill="#d42034" stroke="#3a0a10" stroke-width="0.5"/>
<circle cx="423.68" cy="143.77" r="1.42" fill="#d42034" stroke="#3a0a10" stroke-width="0.5"/>
<circle cx="425.42" cy="143.79" r="1.42" fill="#d42034" stroke="#3a0a10" stroke-width="0.5"/>
<line x1="440.40" y1="15.70" x2="440.40" y2="79.30" stroke="#000" stroke-width="1.0"/>
<line x1="439.90" y1="78.80" x2="507.50" y2="78.80" stroke="#000" stroke-width="1.0"/>
<line x1="438.90" y1="78.80" x2="440.40" y2="78.80" stroke="#000" stroke-width="0.7"/>
<text x="438.60" y="80.90" font-size="6.2" text-anchor="end" fill="#222" textLength="7.2" lengthAdjust="spacingAndGlyphs">54</text>
<line x1="438.90" y1="57.97" x2="440.40" y2="57.97" stroke="#000" stroke-width="0.7"/>
<text x="438.60" y="60.07" font-size="6.2" text-anchor="end" fill="#222" textLength="7.2" lengthAdjust="spacingAndGlyphs">56</text>
<line x1="438.90" y1="37.13" x2="440.40" y2="37.13" stroke="#000" stroke-width="0.7"/>
<text x="438.60" y="39.23" font-size="6.2" text-anchor="end" fill="#222" textLength="7.2" lengthAdjust="spacingAndGlyphs">58</text>
<line x1="438.90" y1="16.30" x2="440.40" y2="16.30" stroke="#000" stroke-width="0.7"/>
<text x="438.60" y="18.40" font-size="6.2" text-anchor="end" fill="#222" textLength="7.2" lengthAdjust="spacingAndGlyphs">60</text>
<line x1="457.55" y1="28.80" x2="457.55" y2="19.95" stroke="#000" stroke-width="0.8"/>
<line x1="456.75" y1="19.95" x2="458.35" y2="19.95" stroke="#000" stroke-width="0.8"/>
<rect x="447.40" y="28.80" width="20.30" height="50.00" fill="#c8202f" stroke="#1a1a1a" stroke-width="0.6"/>
<line x1="457.55" y1="78.80" x2="457.55" y2="80.10" stroke="#000" stroke-width="0.6"/>
<line x1="490.70" y1="56.92" x2="490.70" y2="47.03" stroke="#000" stroke-width="0.8"/>
<line x1="489.90" y1="47.03" x2="491.50" y2="47.03" stroke="#000" stroke-width="0.8"/>
<rect x="480.80" y="56.92" width="19.80" height="21.88" fill="#1b5189" stroke="#1a1a1a" stroke-width="0.6"/>
<line x1="490.70" y1="78.80" x2="490.70" y2="80.10" stroke="#000" stroke-width="0.6"/>
<text x="491.00" y="46.97" font-size="6" text-anchor="middle" fill="#222">*</text>
<line x1="440.40" y1="88.90" x2="440.40" y2="155.30" stroke="#000" stroke-width="1.0"/>
<line x1="439.90" y1="154.80" x2="507.50" y2="154.80" stroke="#000" stroke-width="1.0"/>
<line x1="438.90" y1="154.80" x2="440.40" y2="154.80" stroke="#000" stroke-width="0.7"/>
<text x="438.60" y="156.90" font-size="6.2" text-anchor="end" fill="#222" textLength="10.5" lengthAdjust="spacingAndGlyphs">380</text>
<line x1="438.90" y1="133.03" x2="440.40" y2="133.03" stroke="#000" stroke-width="0.7"/>
<text x="438.60" y="135.13" font-size="6.2" text-anchor="end" fill="#222" textLength="10.5" lengthAdjust="spacingAndGlyphs">400</text>
<line x1="438.90" y1="111.27" x2="440.40" y2="111.27" stroke="#000" stroke-width="0.7"/>
<text x="438.60" y="113.37" font-size="6.2" text-anchor="end" fill="#222" textLength="10.5" lengthAdjust="spacingAndGlyphs">420</text>
<line x1="438.90" y1="89.50" x2="440.40" y2="89.50" stroke="#000" stroke-width="0.7"/>
<text x="438.60" y="91.60" font-size="6.2" text-anchor="end" fill="#222" textLength="10.5" lengthAdjust="spacingAndGlyphs">440</text>
<line x1="457.55" y1="106.37" x2="457.55" y2="102.78" stroke="#000" stroke-width="0.8"/>
<line x1="456.75" y1="102.78" x2="458.35" y2="102.78" stroke="#000" stroke-width="0.8"/>
<rect x="447.40" y="106.37" width="20.30" height="48.43" fill="#c8202f" stroke="#1a1a1a" stroke-width="0.6"/>
<line x1="457.55" y1="154.80" x2="457.55" y2="156.10" stroke="#000" stroke-width="0.6"/>
<line x1="490.70" y1="119.54" x2="490.70" y2="116.49" stroke="#000" stroke-width="0.8"/>
<line x1="489.90" y1="116.49" x2="491.50" y2="116.49" stroke="#000" stroke-width="0.8"/>
<rect x="480.80" y="119.54" width="19.80" height="35.26" fill="#1b5189" stroke="#1a1a1a" stroke-width="0.6"/>
<line x1="490.70" y1="154.80" x2="490.70" y2="156.10" stroke="#000" stroke-width="0.6"/>
<text x="490.90" y="117.49" font-size="6" text-anchor="middle" fill="#222">*</text>
<text x="457.60" y="165.40" font-size="6.6" text-anchor="middle" fill="#222" textLength="26.5" lengthAdjust="spacingAndGlyphs">Wild-type</text>
<text x="491.00" y="165.40" font-size="6.6" text-anchor="middle" fill="#222" textLength="36.0" lengthAdjust="spacingAndGlyphs">p.Arg127Gln</text>
<text x="422.40" y="48.00" font-size="8" text-anchor="middle" fill="#111" textLength="17" lengthAdjust="spacingAndGlyphs" transform="rotate(-90 422.40 48.00)" stroke="#111" stroke-width="0.2">T*(°C)</text>
<text x="423.00" y="118.00" font-size="8" text-anchor="middle" fill="#111" textLength="38.5" lengthAdjust="spacingAndGlyphs" transform="rotate(-90 423.00 118.00)" stroke="#111" stroke-width="0.2">ΔH*(°kJ/mol)</text>
<line x1="38.60" y1="208.60" x2="38.60" y2="268.20" stroke="#000" stroke-width="1.1"/>
<line x1="38.10" y1="267.70" x2="419.30" y2="267.70" stroke="#000" stroke-width="1.2"/>
<line x1="36.40" y1="215.00" x2="38.60" y2="215.00" stroke="#000" stroke-width="0.8"/>
<line x1="36.40" y1="231.30" x2="38.60" y2="231.30" stroke="#000" stroke-width="0.8"/>
<line x1="36.40" y1="247.60" x2="38.60" y2="247.60" stroke="#000" stroke-width="0.8"/>
<line x1="36.40" y1="263.80" x2="38.60" y2="263.80" stroke="#000" stroke-width="0.8"/>
<text x="34.60" y="234.00" font-size="7.7" text-anchor="end" fill="#222">0.5</text>
<text x="34.60" y="266.60" font-size="7.7" text-anchor="end" fill="#222">0</text>
<line x1="39.00" y1="267.70" x2="39.00" y2="270.00" stroke="#000" stroke-width="0.8"/>
<text x="39.00" y="277.60" font-size="7.7" text-anchor="middle" fill="#222">0</text>
<line x1="102.00" y1="267.70" x2="102.00" y2="270.00" stroke="#000" stroke-width="0.8"/>
<text x="102.00" y="277.60" font-size="7.7" text-anchor="middle" fill="#222">50</text>
<line x1="165.00" y1="267.70" x2="165.00" y2="270.00" stroke="#000" stroke-width="0.8"/>
<text x="165.00" y="277.60" font-size="7.7" text-anchor="middle" fill="#222">100</text>
<line x1="228.00" y1="267.70" x2="228.00" y2="270.00" stroke="#000" stroke-width="0.8"/>
<text x="228.00" y="277.60" font-size="7.7" text-anchor="middle" fill="#222">150</text>
<line x1="291.00" y1="267.70" x2="291.00" y2="270.00" stroke="#000" stroke-width="0.8"/>
<text x="291.00" y="277.60" font-size="7.7" text-anchor="middle" fill="#222">200</text>
<line x1="354.00" y1="267.70" x2="354.00" y2="270.00" stroke="#000" stroke-width="0.8"/>
<text x="354.00" y="277.60" font-size="7.7" text-anchor="middle" fill="#222">250</text>
<line x1="417.00" y1="267.70" x2="417.00" y2="270.00" stroke="#000" stroke-width="0.8"/>
<text x="417.00" y="277.60" font-size="7.7" text-anchor="middle" fill="#222">300</text>
<text x="228.20" y="291.70" font-size="9.2" text-anchor="middle" fill="#111" textLength="23.1" lengthAdjust="spacingAndGlyphs" stroke="#111" stroke-width="0.3">Residue</text>
<text x="18.00" y="238.70" font-size="9.2" text-anchor="middle" fill="#111" textLength="75.5" lengthAdjust="spacingAndGlyphs" transform="rotate(-90 18.00 238.70)" stroke="#111" stroke-width="0.3">Exchange fraction (H→D)</text>
<rect x="49.00" y="281.00" width="7.20" height="7.80" fill="#d42034"/>
<text x="59.70" y="288.00" font-size="7.6" fill="#222" textLength="30.5" lengthAdjust="spacingAndGlyphs">Wild-type</text>
<rect x="108.20" y="281.00" width="7.20" height="7.80" fill="#1b4e82"/>
<text x="119.70" y="288.00" font-size="7.6" fill="#222" textLength="42.0" lengthAdjust="spacingAndGlyphs">p.Arg127Gln</text>
<rect x="73.90" y="208.90" width="4.40" height="58.30" fill="#c6c3e4"/>
<rect x="102.90" y="209.00" width="2.20" height="58.20" fill="#c6c3e4"/>
<rect x="115.20" y="209.00" width="2.10" height="58.20" fill="#c6c3e4"/>
<rect x="133.30" y="209.00" width="1.90" height="58.20" fill="#c6c3e4"/>
<rect x="146.00" y="209.00" width="3.50" height="58.20" fill="#c6c3e4"/>
<rect x="161.50" y="209.00" width="2.00" height="58.20" fill="#c6c3e4"/>
<rect x="190.00" y="208.60" width="2.20" height="58.60" fill="#c6c3e4"/>
<rect x="220.50" y="208.60" width="2.50" height="58.60" fill="#c6c3e4"/>
<rect x="233.40" y="196.50" width="1.80" height="70.70" fill="#c6c3e4"/>
<rect x="250.90" y="208.60" width="2.20" height="58.60" fill="#c6c3e4"/>
<rect x="281.30" y="208.60" width="1.70" height="58.60" fill="#c6c3e4"/>
<rect x="310.20" y="208.60" width="2.30" height="58.60" fill="#c6c3e4"/>
<rect x="327.10" y="207.20" width="11.20" height="60.00" fill="#c6c3e4"/>
<rect x="402.90" y="207.20" width="1.80" height="60.00" fill="#c6c3e4"/>
<path d="M119.8,267.20000000000005 L119.8,209.4 L124.8,205.6 L124.8,267.20000000000005 Z" fill="#c6c3e4"/>
<rect x="346.00" y="207.20" width="18.40" height="60.00" fill="#1c6b52"/>
<line x1="346.00" y1="207.50" x2="364.40" y2="207.50" stroke="#111" stroke-width="0.9"/>
<rect x="39.90" y="259.40" width="13.40" height="7.80" fill="#1b4a7c"/>
<line x1="39.90" y1="259.70" x2="53.30" y2="259.70" stroke="#0c1c30" stroke-width="0.7"/>
<rect x="81.00" y="256.20" width="1.40" height="11.00" fill="#1b4a7c"/>
<line x1="81.00" y1="256.50" x2="82.40" y2="256.50" stroke="#0c1c30" stroke-width="0.7"/>
<rect x="87.30" y="256.80" width="10.20" height="10.40" fill="#1b4a7c"/>
<line x1="87.30" y1="257.10" x2="97.50" y2="257.10" stroke="#0c1c30" stroke-width="0.7"/>
<rect x="75.10" y="263.40" width="1.20" height="3.80" fill="#d21c2c"/>
<rect x="75.10" y="263.40" width="1.20" height="1.30" fill="#7a1018"/>
<rect x="332.90" y="262.90" width="6.80" height="4.30" fill="#d21c2c"/>
<rect x="332.90" y="262.90" width="6.80" height="1.30" fill="#7a1018"/>
<rect x="388.60" y="263.00" width="3.10" height="4.20" fill="#d21c2c"/>
<rect x="388.60" y="263.00" width="3.10" height="1.30" fill="#7a1018"/>
<path d="M104.30,266.60 L104.30,265.50 L105.30,257.00 L106.20,261.00 L107.20,262.00 L108.50,262.50 L109.80,258.00 L110.80,252.00 L111.50,251.00 L112.30,258.00 L113.00,264.00 L113.50,265.50 L113.50,266.60 Z" fill="rgba(95,150,205,0.55)"/>
<path d="M115.20,266.60 L115.20,265.50 L115.50,247.50 L116.30,249.00 L117.50,252.00 L118.50,254.00 L119.50,258.00 L120.20,264.40 L121.00,257.50 L122.00,256.50 L124.00,256.50 L125.50,255.50 L126.40,254.80 L127.50,257.50 L128.50,261.00 L130.00,262.00 L131.50,262.50 L132.50,264.50 L134.00,264.50 L135.50,264.50 L136.30,262.00 L136.80,259.00 L137.30,262.00 L138.00,264.50 L140.00,264.50 L140.00,266.60 Z" fill="rgba(95,150,205,0.55)"/>
<path d="M145.00,266.60 L145.00,265.20 L146.00,250.00 L146.60,238.00 L147.20,230.80 L147.80,240.00 L148.50,256.00 L149.00,262.70 L150.00,258.00 L151.00,255.80 L154.40,255.80 L155.50,257.00 L157.30,259.80 L158.30,263.00 L159.20,265.00 L166.00,265.00 L167.10,262.70 L171.00,262.70 L172.00,263.00 L173.50,262.00 L174.60,255.20 L178.00,255.20 L183.00,255.20 L185.00,256.00 L186.50,259.00 L188.40,262.00 L190.00,262.50 L190.70,256.60 L192.00,256.60 L194.30,256.60 L195.50,264.00 L196.50,261.00 L197.50,259.00 L198.50,261.00 L199.30,262.00 L200.00,255.00 L201.50,250.90 L203.00,258.50 L208.00,258.50 L209.50,254.40 L215.00,254.40 L220.00,253.80 L220.50,253.30 L221.20,262.00 L222.00,264.50 L232.00,264.50 L233.50,262.00 L234.50,253.70 L240.00,253.70 L242.00,252.00 L243.50,249.00 L244.50,246.60 L245.50,250.00 L246.50,257.00 L248.00,262.00 L250.00,263.50 L258.50,263.50 L258.50,266.60 Z" fill="rgba(95,150,205,0.55)"/>
<path d="M263.10,266.60 L263.10,264.00 L264.50,255.80 L277.40,255.80 L278.40,249.70 L279.50,257.80 L281.00,265.00 L282.50,263.00 L283.60,260.90 L285.00,265.00 L293.80,264.00 L295.00,255.80 L307.20,255.30 L309.50,263.00 L311.00,264.50 L317.40,264.50 L317.40,266.60 Z" fill="rgba(95,150,205,0.55)"/>
<path d="M343.00,266.60 L343.00,261.00 L346.00,261.00 L347.00,258.00 L347.90,240.00 L349.30,233.70 L350.50,240.00 L352.20,249.40 L355.80,249.40 L357.90,243.00 L360.00,244.00 L365.80,244.40 L365.80,266.60 Z" fill="rgba(95,150,205,0.55)"/>
<path d="M410.40,266.60 L410.40,260.40 L413.90,260.40 L416.00,262.60 L417.50,250.60 L419.00,250.60 L419.00,266.60 Z" fill="rgba(95,150,205,0.55)"/>
<path d="M105.50,266.60 L105.50,265.50 L106.40,258.00 L107.30,251.40 L108.20,259.00 L109.00,263.50 L110.50,264.50 L112.00,265.00 L113.50,265.50 L113.50,266.60 Z" fill="rgba(200,40,70,0.50)"/>
<path d="M115.80,266.60 L115.80,265.50 L116.50,250.00 L117.60,244.20 L118.50,247.00 L119.50,252.40 L120.50,254.00 L121.50,258.00 L122.50,259.50 L126.00,259.80 L128.00,260.00 L129.50,260.50 L131.00,262.50 L132.00,264.50 L135.00,265.00 L136.30,264.00 L137.00,264.80 L140.00,265.00 L140.00,266.60 Z" fill="rgba(200,40,70,0.50)"/>
<path d="M145.50,266.60 L145.50,265.20 L146.20,255.00 L146.90,247.10 L150.00,247.10 L153.30,247.10 L155.00,242.20 L157.30,242.20 L158.50,259.80 L159.50,264.00 L160.00,265.00 L167.00,265.00 L168.00,262.50 L170.00,262.50 L171.00,264.00 L172.30,256.30 L175.00,256.30 L178.00,249.40 L182.00,249.40 L186.10,249.40 L186.80,262.00 L188.00,264.00 L190.00,264.50 L192.00,264.00 L194.00,265.00 L197.00,264.00 L199.30,264.50 L200.00,240.10 L202.00,240.10 L203.50,254.40 L208.60,254.40 L210.00,240.00 L211.20,222.00 L212.20,215.00 L213.20,222.00 L214.30,250.00 L215.10,263.00 L220.00,263.50 L222.00,264.00 L224.00,261.50 L231.00,261.50 L232.50,262.00 L233.50,252.00 L234.40,245.10 L236.00,249.40 L238.00,251.60 L240.00,253.70 L242.00,255.50 L245.00,255.50 L246.00,262.30 L250.00,262.80 L258.50,262.50 L258.50,266.60 Z" fill="rgba(200,40,70,0.50)"/>
<path d="M267.20,266.60 L267.20,265.00 L268.50,262.00 L270.00,256.00 L271.30,251.70 L273.30,251.70 L274.50,258.30 L278.00,258.30 L280.00,265.00 L295.00,265.00 L295.50,257.80 L299.00,257.80 L300.50,246.00 L301.00,238.90 L303.50,238.90 L304.80,261.40 L306.00,262.00 L312.00,262.50 L317.00,263.00 L317.00,266.60 Z" fill="rgba(200,40,70,0.50)"/>
<path d="M344.00,266.60 L344.00,263.00 L346.50,263.00 L347.50,261.60 L348.90,237.20 L350.50,248.00 L351.50,256.00 L352.90,260.20 L355.00,260.20 L356.50,254.00 L358.30,249.40 L359.20,252.00 L360.00,256.60 L362.00,258.00 L365.80,258.00 L365.80,266.60 Z" fill="rgba(200,40,70,0.50)"/>
<path d="M410.40,266.60 L410.40,263.50 L416.00,264.00 L418.60,259.70 L419.00,259.70 L419.00,266.60 Z" fill="rgba(200,40,70,0.50)"/>
<clipPath id="gclip"><rect x="346" y="207.8" width="18.4" height="60"/></clipPath>
<g clip-path="url(#gclip)"><path d="M343.00,266.60 L343.00,261.00 L346.00,261.00 L347.00,258.00 L347.90,240.00 L349.30,233.70 L350.50,240.00 L352.20,249.40 L355.80,249.40 L357.90,243.00 L360.00,244.00 L365.80,244.40 L365.80,266.60 Z" fill="#a7bccb"/><path d="M344.00,266.60 L344.00,263.00 L346.50,263.00 L347.50,261.60 L348.90,237.20 L350.50,248.00 L351.50,256.00 L352.90,260.20 L355.00,260.20 L356.50,254.00 L358.30,249.40 L359.20,252.00 L360.00,256.60 L362.00,258.00 L365.80,258.00 L365.80,266.60 Z" fill="#6c4d6e"/></g>
<path d="M105.50,265.50 L106.40,258.00 L107.30,251.40 L108.20,259.00 L109.00,263.50 L110.50,264.50 L112.00,265.00 L113.50,265.50" fill="none" stroke="#e8202c" stroke-width="1.1" stroke-linejoin="round" stroke-linecap="round"/>
<path d="M115.80,265.50 L116.50,250.00 L117.60,244.20 L118.50,247.00 L119.50,252.40 L120.50,254.00 L121.50,258.00 L122.50,259.50 L126.00,259.80 L128.00,260.00 L129.50,260.50 L131.00,262.50 L132.00,264.50 L135.00,265.00 L136.30,264.00 L137.00,264.80 L140.00,265.00" fill="none" stroke="#e8202c" stroke-width="1.1" stroke-linejoin="round" stroke-linecap="round"/>
<path d="M145.50,265.20 L146.20,255.00 L146.90,247.10 L150.00,247.10 L153.30,247.10 L155.00,242.20 L157.30,242.20 L158.50,259.80 L159.50,264.00 L160.00,265.00 L167.00,265.00 L168.00,262.50 L170.00,262.50 L171.00,264.00 L172.30,256.30 L175.00,256.30 L178.00,249.40 L182.00,249.40 L186.10,249.40 L186.80,262.00 L188.00,264.00 L190.00,264.50 L192.00,264.00 L194.00,265.00 L197.00,264.00 L199.30,264.50 L200.00,240.10 L202.00,240.10 L203.50,254.40 L208.60,254.40 L210.00,240.00 L211.20,222.00 L212.20,215.00 L213.20,222.00 L214.30,250.00 L215.10,263.00 L220.00,263.50 L222.00,264.00 L224.00,261.50 L231.00,261.50 L232.50,262.00 L233.50,252.00 L234.40,245.10 L236.00,249.40 L238.00,251.60 L240.00,253.70 L242.00,255.50 L245.00,255.50 L246.00,262.30 L250.00,262.80 L258.50,262.50" fill="none" stroke="#e8202c" stroke-width="1.1" stroke-linejoin="round" stroke-linecap="round"/>
<path d="M267.20,265.00 L268.50,262.00 L270.00,256.00 L271.30,251.70 L273.30,251.70 L274.50,258.30 L278.00,258.30 L280.00,265.00 L295.00,265.00 L295.50,257.80 L299.00,257.80 L300.50,246.00 L301.00,238.90 L303.50,238.90 L304.80,261.40 L306.00,262.00 L312.00,262.50 L317.00,263.00" fill="none" stroke="#e8202c" stroke-width="1.1" stroke-linejoin="round" stroke-linecap="round"/>
<path d="M344.00,263.00 L346.50,263.00 L347.50,261.60 L348.90,237.20 L350.50,248.00 L351.50,256.00 L352.90,260.20 L355.00,260.20 L356.50,254.00 L358.30,249.40 L359.20,252.00 L360.00,256.60 L362.00,258.00 L365.80,258.00" fill="none" stroke="#e8202c" stroke-width="1.1" stroke-linejoin="round" stroke-linecap="round"/>
<path d="M410.40,263.50 L416.00,264.00 L418.60,259.70 L419.00,259.70" fill="none" stroke="#e8202c" stroke-width="1.1" stroke-linejoin="round" stroke-linecap="round"/>
<path d="M104.30,265.50 L105.30,257.00 L106.20,261.00 L107.20,262.00 L108.50,262.50 L109.80,258.00 L110.80,252.00 L111.50,251.00 L112.30,258.00 L113.00,264.00 L113.50,265.50" fill="none" stroke="#1f5289" stroke-width="1.1" stroke-linejoin="round" stroke-linecap="round"/>
<path d="M115.20,265.50 L115.50,247.50 L116.30,249.00 L117.50,252.00 L118.50,254.00 L119.50,258.00 L120.20,264.40 L121.00,257.50 L122.00,256.50 L124.00,256.50 L125.50,255.50 L126.40,254.80 L127.50,257.50 L128.50,261.00 L130.00,262.00 L131.50,262.50 L132.50,264.50 L134.00,264.50 L135.50,264.50 L136.30,262.00 L136.80,259.00 L137.30,262.00 L138.00,264.50 L140.00,264.50" fill="none" stroke="#1f5289" stroke-width="1.1" stroke-linejoin="round" stroke-linecap="round"/>
<path d="M145.00,265.20 L146.00,250.00 L146.60,238.00 L147.20,230.80 L147.80,240.00 L148.50,256.00 L149.00,262.70 L150.00,258.00 L151.00,255.80 L154.40,255.80 L155.50,257.00 L157.30,259.80 L158.30,263.00 L159.20,265.00 L166.00,265.00 L167.10,262.70 L171.00,262.70 L172.00,263.00 L173.50,262.00 L174.60,255.20 L178.00,255.20 L183.00,255.20 L185.00,256.00 L186.50,259.00 L188.40,262.00 L190.00,262.50 L190.70,256.60 L192.00,256.60 L194.30,256.60 L195.50,264.00 L196.50,261.00 L197.50,259.00 L198.50,261.00 L199.30,262.00 L200.00,255.00 L201.50,250.90 L203.00,258.50 L208.00,258.50 L209.50,254.40 L215.00,254.40 L220.00,253.80 L220.50,253.30 L221.20,262.00 L222.00,264.50 L232.00,264.50 L233.50,262.00 L234.50,253.70 L240.00,253.70 L242.00,252.00 L243.50,249.00 L244.50,246.60 L245.50,250.00 L246.50,257.00 L248.00,262.00 L250.00,263.50 L258.50,263.50" fill="none" stroke="#1f5289" stroke-width="1.1" stroke-linejoin="round" stroke-linecap="round"/>
<path d="M263.10,264.00 L264.50,255.80 L277.40,255.80 L278.40,249.70 L279.50,257.80 L281.00,265.00 L282.50,263.00 L283.60,260.90 L285.00,265.00 L293.80,264.00 L295.00,255.80 L307.20,255.30 L309.50,263.00 L311.00,264.50 L317.40,264.50" fill="none" stroke="#1f5289" stroke-width="1.1" stroke-linejoin="round" stroke-linecap="round"/>
<path d="M343.00,261.00 L346.00,261.00 L347.00,258.00 L347.90,240.00 L349.30,233.70 L350.50,240.00 L352.20,249.40 L355.80,249.40 L357.90,243.00 L360.00,244.00 L365.80,244.40" fill="none" stroke="#1f5289" stroke-width="1.1" stroke-linejoin="round" stroke-linecap="round"/>
<path d="M410.40,260.40 L413.90,260.40 L416.00,262.60 L417.50,250.60 L419.00,250.60" fill="none" stroke="#1f5289" stroke-width="1.1" stroke-linejoin="round" stroke-linecap="round"/>
<text x="76.10" y="214.3" font-size="7.6" text-anchor="middle" fill="#333" font-family="Liberation Serif">β</text>
<text x="104.00" y="214.3" font-size="7.6" text-anchor="middle" fill="#333" font-family="Liberation Serif">β</text>
<text x="116.25" y="214.3" font-size="7.6" text-anchor="middle" fill="#333" font-family="Liberation Serif">β</text>
<text x="134.25" y="214.3" font-size="7.6" text-anchor="middle" fill="#333" font-family="Liberation Serif">β</text>
<text x="147.75" y="214.3" font-size="7.6" text-anchor="middle" fill="#333" font-family="Liberation Serif">β</text>
<text x="162.50" y="214.3" font-size="7.6" text-anchor="middle" fill="#333" font-family="Liberation Serif">β</text>
<text x="191.10" y="214.3" font-size="7.6" text-anchor="middle" fill="#333" font-family="Liberation Serif">β</text>
<text x="221.75" y="214.3" font-size="7.6" text-anchor="middle" fill="#333" font-family="Liberation Serif">β</text>
<text x="234.30" y="214.3" font-size="7.6" text-anchor="middle" fill="#333" font-family="Liberation Serif">β</text>
<text x="252.00" y="214.3" font-size="7.6" text-anchor="middle" fill="#333" font-family="Liberation Serif">β</text>
<text x="282.15" y="214.3" font-size="7.6" text-anchor="middle" fill="#333" font-family="Liberation Serif">β</text>
<text x="311.35" y="214.3" font-size="7.6" text-anchor="middle" fill="#333" font-family="Liberation Serif">β</text>
<text x="332.70" y="214.3" font-size="7.6" text-anchor="middle" fill="#333" font-family="Liberation Serif">α</text>
<text x="403.80" y="214.3" font-size="7.6" text-anchor="middle" fill="#333" font-family="Liberation Serif">β</text>
<text x="122.3" y="214.3" font-size="7.6" text-anchor="middle" fill="#333" font-family="Liberation Serif">α</text>
<path d="M63.00,267.20 L63.00,207.70 L79.60,207.70 L79.60,267.20" fill="none" stroke="#f6b466" stroke-width="1.2" stroke-linejoin="round" stroke-linecap="round"/>
<line x1="140.80" y1="207.80" x2="140.80" y2="267.20" stroke="#f6b466" stroke-width="1.5"/>
<path d="M322.30,267.20 L322.30,199.50 L372.60,199.50 L372.60,267.20" fill="none" stroke="#f6b466" stroke-width="1.2" stroke-linejoin="round" stroke-linecap="round"/>
<path d="M324.90,267.20 L324.90,203.40 L393.60,203.40 L393.60,267.20" fill="none" stroke="#f6b466" stroke-width="1.2" stroke-linejoin="round" stroke-linecap="round"/>
<path d="M84.80,267.20 L84.80,195.40 L259.50,195.40 L259.50,267.20" fill="none" stroke="#a487b8" stroke-width="1.2" stroke-linejoin="round" stroke-linecap="round"/>
<line x1="199.10" y1="207.20" x2="199.10" y2="266.80" stroke="#222" stroke-width="1.0"/>
<text x="62.60" y="206.30" font-size="7.0" fill="#222" textLength="10.4" lengthAdjust="spacingAndGlyphs">S-S</text>
<text x="82.30" y="192.20" font-size="6.8" fill="#222" textLength="11.6" lengthAdjust="spacingAndGlyphs">N37</text>
<text x="148.80" y="192.20" font-size="7.4" fill="#222" textLength="44.5" lengthAdjust="spacingAndGlyphs">N-Glycosylation</text>
<text x="138.80" y="205.90" font-size="7.0" fill="#222">S</text>
<text x="176.80" y="204.30" font-size="7.6" fill="#222" textLength="42.2" lengthAdjust="spacingAndGlyphs">p.Arg127Gln</text>
<text x="256.40" y="193.00" font-size="6.8" fill="#222" textLength="15.5" lengthAdjust="spacingAndGlyphs">N175</text>
<text x="321.80" y="196.60" font-size="7.0" fill="#222" textLength="61.6" lengthAdjust="spacingAndGlyphs">S-S Opposable thumb</text>
<text x="382.40" y="202.00" font-size="7.0" fill="#222" textLength="10.6" lengthAdjust="spacingAndGlyphs">S-S</text>
<text x="408.30" y="215.90" font-size="8.4" font-weight="bold" fill="#000" textLength="39.5" lengthAdjust="spacingAndGlyphs">Wild-type</text>
<text x="396.20" y="363.80" font-size="8.4" font-weight="bold" fill="#000" textLength="50.2" lengthAdjust="spacingAndGlyphs">p.Arg127Gln</text>
<defs><linearGradient id="cb" x1="0" y1="0" x2="0" y2="1"><stop offset="0" stop-color="#e3121c"/><stop offset="0.5" stop-color="#ffffff"/><stop offset="1" stop-color="#2a3a9e"/></linearGradient></defs>
<rect x="412.20" y="296.90" width="4.70" height="52.70" fill="url(#cb)"/>
<text x="411.60" y="303.00" font-size="6.8" text-anchor="end" fill="#222" textLength="13.8" lengthAdjust="spacingAndGlyphs">&gt;0.5</text>
<text x="411.60" y="326.30" font-size="6.8" text-anchor="end" fill="#222" textLength="12.8" lengthAdjust="spacingAndGlyphs">0.25</text>
<text x="411.60" y="348.40" font-size="6.8" text-anchor="end" fill="#222">0</text>
<text x="387.60" y="327.00" font-size="9.2" text-anchor="middle" fill="#111" textLength="76" lengthAdjust="spacingAndGlyphs" transform="rotate(-90 387.60 327.00)" stroke="#111" stroke-width="0.3">Exchange fraction (H→D)</text>
<path d="M463.70,206.20 C464.17,205.55 465.38,203.75 466.50,202.30 C467.62,200.85 468.95,199.02 470.40,197.50 C471.85,195.98 474.40,193.92 475.20,193.20" fill="none" stroke="#1a1a1a" stroke-width="0.85" stroke-linejoin="round" stroke-linecap="round"/>
<path d="M475.20,193.20 C476.00,192.72 478.23,191.03 480.00,190.30 C481.77,189.57 483.88,189.12 485.80,188.80 C487.72,188.48 490.55,188.47 491.50,188.40" fill="none" stroke="#3a42b2" stroke-width="0.935" stroke-linejoin="round" stroke-linecap="round"/>
<path d="M491.50,188.40 C492.23,188.45 495.25,188.47 495.90,188.70 C496.55,188.93 495.88,189.22 495.40,189.80 C494.92,190.38 493.40,191.80 493.00,192.20" fill="none" stroke="#1a1a1a" stroke-width="0.85" stroke-linejoin="round" stroke-linecap="round"/>
<path d="M463.70,206.20 C463.85,206.43 463.97,207.20 464.60,207.60 C465.23,208.00 466.38,208.28 467.50,208.60 C468.62,208.92 470.18,209.18 471.30,209.50 C472.42,209.82 473.07,209.93 474.20,210.50 C475.33,211.07 477.05,212.02 478.10,212.90 C479.15,213.78 480.10,214.92 480.50,215.80 C480.90,216.68 480.50,217.80 480.50,218.20" fill="none" stroke="#1a1a1a" stroke-width="0.85" stroke-linejoin="round" stroke-linecap="round"/>
<path d="M462.70,207.50 C462.83,208.25 463.07,210.53 463.50,212.00 C463.93,213.47 464.63,215.43 465.30,216.30 C465.97,217.17 466.80,217.67 467.50,217.20 C468.20,216.73 468.92,214.90 469.50,213.50 C470.08,212.10 470.50,208.97 471.00,208.80 C471.50,208.63 471.92,211.25 472.50,212.50 C473.08,213.75 473.83,216.13 474.50,216.30 C475.17,216.47 475.92,214.47 476.50,213.50 C477.08,212.53 477.75,211.00 478.00,210.50" fill="none" stroke="#3a42b2" stroke-width="0.935" stroke-linejoin="round" stroke-linecap="round"/>
<path d="M464.60,210.50 C465.40,210.33 467.80,209.42 469.40,209.50 C471.00,209.58 472.75,210.52 474.20,211.00 C475.65,211.48 477.45,212.17 478.10,212.40" fill="none" stroke="#1a1a1a" stroke-width="0.765" stroke-linejoin="round" stroke-linecap="round"/>
<path d="M480.50,215.80 C480.90,215.15 482.18,213.18 482.90,211.90 C483.62,210.62 484.17,208.90 484.80,208.10 C485.43,207.30 486.53,206.62 486.70,207.10 C486.87,207.58 485.63,210.03 485.80,211.00 C485.97,211.97 486.58,212.75 487.70,212.90 C488.82,213.05 491.22,212.55 492.50,211.90 C493.78,211.25 495.17,209.80 495.40,209.00 C495.63,208.20 494.70,207.33 493.90,207.10 C493.10,206.87 491.72,206.80 490.60,207.60 C489.48,208.40 488.00,210.38 487.20,211.90 C486.40,213.42 486.12,215.10 485.80,216.70 C485.48,218.30 485.70,220.03 485.30,221.50 C484.90,222.97 484.10,224.37 483.40,225.50 C482.70,226.63 481.48,227.83 481.10,228.30" fill="none" stroke="#1a1a1a" stroke-width="0.85" stroke-linejoin="round" stroke-linecap="round"/>
<path d="M452.60,218.40 C453.00,218.28 453.80,217.90 455.00,217.70 C456.20,217.50 458.43,217.43 459.80,217.20 C461.17,216.97 462.40,216.87 463.20,216.30 C464.00,215.73 464.37,214.22 464.60,213.80" fill="none" stroke="#1a1a1a" stroke-width="0.85" stroke-linejoin="round" stroke-linecap="round"/>
<path d="M460.80,225.00 C461.43,224.50 463.17,222.90 464.60,222.00 C466.03,221.10 467.80,220.15 469.40,219.60 C471.00,219.05 472.60,218.93 474.20,218.70 C475.80,218.47 477.87,218.45 479.00,218.20 C480.13,217.95 480.67,217.37 481.00,217.20" fill="none" stroke="#1a1a1a" stroke-width="0.85" stroke-linejoin="round" stroke-linecap="round"/>
<path d="M452.60,219.10 C452.27,219.78 451.80,221.92 450.60,223.20 C449.40,224.48 447.12,225.62 445.40,226.80 C443.68,227.98 441.15,229.72 440.30,230.30" fill="none" stroke="#3a42b2" stroke-width="1.02" stroke-linejoin="round" stroke-linecap="round"/>
<path d="M440.30,230.30 C439.62,231.15 437.55,233.52 436.20,235.40 C434.85,237.28 433.63,239.72 432.20,241.60 C430.77,243.48 428.37,245.85 427.60,246.70" fill="none" stroke="#3a42b2" stroke-width="1.02" stroke-linejoin="round" stroke-linecap="round"/>
<path d="M427.60,246.70 C427.85,246.87 428.00,247.37 429.10,247.70 C430.20,248.03 433.18,248.02 434.20,248.70 C435.22,249.38 435.03,251.28 435.20,251.80" fill="none" stroke="#3a42b2" stroke-width="1.02" stroke-linejoin="round" stroke-linecap="round"/>
<path d="M435.20,251.80 C435.03,252.48 434.03,254.70 434.20,255.90 C434.37,257.10 435.18,258.23 436.20,259.00 C437.22,259.77 439.02,260.58 440.30,260.50 C441.58,260.42 443.05,259.43 443.90,258.50 C444.75,257.57 444.80,256.18 445.40,254.90 C446.00,253.62 447.15,251.48 447.50,250.80" fill="none" stroke="#3a42b2" stroke-width="1.02" stroke-linejoin="round" stroke-linecap="round"/>
<path d="M447.50,250.80 C447.83,249.95 448.92,247.23 449.50,245.70 C450.08,244.17 450.57,243.32 451.00,241.60 C451.43,239.88 451.92,236.43 452.10,235.40" fill="none" stroke="#3a42b2" stroke-width="1.02" stroke-linejoin="round" stroke-linecap="round"/>
<path d="M452.10,235.40 C452.35,234.90 453.00,233.42 453.60,232.40 C454.20,231.38 455.27,230.33 455.70,229.30 C456.13,228.27 456.20,227.22 456.20,226.20 C456.20,225.18 456.13,224.22 455.70,223.20 C455.27,222.18 454.12,220.95 453.60,220.10 C453.08,219.25 452.77,218.43 452.60,218.10" fill="none" stroke="#3a42b2" stroke-width="1.02" stroke-linejoin="round" stroke-linecap="round"/>
<path d="M452.60,220.10 C453.12,220.62 454.50,222.35 455.70,223.20 C456.90,224.05 458.43,225.03 459.80,225.20 C461.17,225.37 462.55,224.88 463.90,224.20 C465.25,223.52 466.37,221.95 467.90,221.10 C469.43,220.25 471.92,219.52 473.10,219.10 C474.28,218.68 474.68,218.68 475.00,218.60" fill="none" stroke="#1a1a1a" stroke-width="0.85" stroke-linejoin="round" stroke-linecap="round"/>
<path d="M456.90,237.00 C456.80,236.72 455.92,235.97 456.30,235.30 C456.68,234.63 458.13,233.68 459.20,233.00 C460.27,232.32 461.55,231.78 462.70,231.20 C463.85,230.62 464.95,229.98 466.10,229.50 C467.25,229.02 468.43,228.50 469.60,228.30 C470.77,228.10 472.13,228.48 473.10,228.30 C474.07,228.12 474.53,227.58 475.40,227.20 C476.27,226.82 477.35,225.90 478.30,226.00 C479.25,226.10 480.05,227.70 481.10,227.80 C482.15,227.90 483.43,226.90 484.60,226.60 C485.77,226.30 487.13,226.38 488.10,226.00 C489.07,225.62 489.92,224.87 490.40,224.30 C490.88,223.73 490.90,222.88 491.00,222.60" fill="none" stroke="#3a42b2" stroke-width="1.02" stroke-linejoin="round" stroke-linecap="round"/>
<path d="M456.90,237.00 C457.48,237.18 459.25,238.20 460.40,238.10 C461.55,238.00 462.85,237.17 463.80,236.40 C464.75,235.63 465.13,233.88 466.10,233.50 C467.07,233.12 468.43,233.72 469.60,234.10 C470.77,234.48 471.95,235.52 473.10,235.80 C474.25,236.08 475.35,236.18 476.50,235.80 C477.65,235.42 478.85,234.27 480.00,233.50 C481.15,232.73 482.25,231.97 483.40,231.20 C484.55,230.43 485.93,229.47 486.90,228.90 C487.87,228.33 488.82,227.98 489.20,227.80" fill="none" stroke="#3a42b2" stroke-width="1.02" stroke-linejoin="round" stroke-linecap="round"/>
<path d="M489.20,225.50 C489.40,226.07 490.20,227.57 490.40,228.90 C490.60,230.23 490.60,231.97 490.40,233.50 C490.20,235.03 489.78,236.75 489.20,238.10 C488.62,239.45 487.67,240.63 486.90,241.60 C486.13,242.57 485.57,243.23 484.60,243.90 C483.63,244.57 482.25,245.22 481.10,245.60 C479.95,245.98 478.85,246.28 477.70,246.20 C476.55,246.12 475.27,245.58 474.20,245.10 C473.13,244.62 471.78,243.60 471.30,243.30" fill="none" stroke="#3a42b2" stroke-width="1.02" stroke-linejoin="round" stroke-linecap="round"/>
<path d="M471.30,243.30 C471.02,243.50 470.27,244.02 469.60,244.50 C468.93,244.98 468.07,245.82 467.30,246.20 C466.53,246.58 465.87,246.90 465.00,246.80 C464.13,246.70 462.77,246.23 462.10,245.60 C461.43,244.97 461.18,243.43 461.00,243.00" fill="none" stroke="#3a42b2" stroke-width="0.935" stroke-linejoin="round" stroke-linecap="round"/>
<path d="M496.10,235.80 C496.02,236.38 495.98,238.33 495.60,239.30 C495.22,240.27 494.67,240.93 493.80,241.60 C492.93,242.27 491.55,242.92 490.40,243.30 C489.25,243.68 488.07,243.70 486.90,243.90 C485.73,244.10 483.98,244.40 483.40,244.50" fill="none" stroke="#3a42b2" stroke-width="0.935" stroke-linejoin="round" stroke-linecap="round"/>
<path d="M481.50,239.00 C481.67,239.42 482.18,240.67 482.50,241.50 C482.82,242.33 483.25,243.58 483.40,244.00" fill="none" stroke="#b8b8cc" stroke-width="1.1" stroke-linejoin="round" stroke-linecap="round"/>
<path d="M496.10,239.30 C495.72,240.27 494.57,243.37 493.80,245.10 C493.03,246.83 492.27,248.17 491.50,249.70 C490.73,251.23 489.97,253.15 489.20,254.30 C488.43,255.45 487.87,256.02 486.90,256.60 C485.93,257.18 483.98,257.60 483.40,257.80" fill="none" stroke="#1a1a1a" stroke-width="0.85" stroke-linejoin="round" stroke-linecap="round"/>
<path d="M464.80,251.50 C464.93,252.07 464.98,254.25 465.60,254.90 C466.22,255.55 467.55,255.40 468.50,255.40 C469.45,255.40 470.35,254.90 471.30,254.90 C472.25,254.90 473.72,255.32 474.20,255.40" fill="none" stroke="#3a42b2" stroke-width="0.935" stroke-linejoin="round" stroke-linecap="round"/>
<path d="M474.20,255.40 C474.78,255.50 476.55,255.80 477.70,256.00 C478.85,256.20 479.95,256.40 481.10,256.60 C482.25,256.80 483.43,257.20 484.60,257.20 C485.77,257.20 486.95,256.90 488.10,256.60 C489.25,256.30 490.35,255.68 491.50,255.40 C492.65,255.12 494.03,255.08 495.00,254.90 C495.97,254.72 496.35,254.30 497.30,254.30 C498.25,254.30 500.13,254.80 500.70,254.90" fill="none" stroke="#3a42b2" stroke-width="1.02" stroke-linejoin="round" stroke-linecap="round"/>
<path d="M482.30,258.90 C482.75,259.33 484.03,260.90 485.00,261.50 C485.97,262.10 487.10,262.50 488.10,262.50 C489.10,262.50 490.23,262.10 491.00,261.50 C491.77,260.90 491.85,259.72 492.70,258.90 C493.55,258.08 495.53,256.98 496.10,256.60" fill="none" stroke="#b8b8cc" stroke-width="1.2" stroke-linejoin="round" stroke-linecap="round"/>
<path d="M467.70,264.50 L471.30,266.50 L473.40,265.20 L474.60,269.00 L476.50,270.20" fill="none" stroke="#3a42b2" stroke-width="0.935" stroke-linejoin="round" stroke-linecap="round"/>
<path d="M469.50,265.50 L470.50,268.50 L473.00,270.00" fill="none" stroke="#3a42b2" stroke-width="0.85" stroke-linejoin="round" stroke-linecap="round"/>
<path d="M474.80,267.70 C475.28,268.08 476.65,269.62 477.70,270.00 C478.75,270.38 479.95,270.20 481.10,270.00 C482.25,269.80 483.43,269.38 484.60,268.80 C485.77,268.22 486.95,267.45 488.10,266.50 C489.25,265.55 490.35,264.25 491.50,263.10 C492.65,261.95 494.03,260.75 495.00,259.60 C495.97,258.45 496.92,256.77 497.30,256.20" fill="none" stroke="#3a42b2" stroke-width="1.02" stroke-linejoin="round" stroke-linecap="round"/>
<path d="M487.00,276.80 C487.80,276.20 490.23,274.40 491.80,273.20 C493.37,272.00 495.63,270.20 496.40,269.60" fill="none" stroke="#e02828" stroke-width="4.6" stroke-linejoin="round" stroke-linecap="round"/>
<path d="M492.70,270.00 C493.27,269.80 494.95,268.80 496.10,268.80 C497.25,268.80 498.43,270.00 499.60,270.00 C500.77,270.00 502.13,269.38 503.10,268.80 C504.07,268.22 505.02,266.88 505.40,266.50" fill="none" stroke="#3a42b2" stroke-width="0.935" stroke-linejoin="round" stroke-linecap="round"/>
<path d="M484.60,268.80 C484.80,269.38 485.42,271.13 485.80,272.30 C486.18,273.47 486.52,274.83 486.90,275.80 C487.28,276.77 487.90,277.72 488.10,278.10" fill="none" stroke="#3a42b2" stroke-width="0.935" stroke-linejoin="round" stroke-linecap="round"/>
<path d="M467.30,274.30 C467.77,274.85 469.22,277.12 470.10,277.60 C470.98,278.08 471.98,277.47 472.60,277.20 C473.22,276.93 473.40,275.73 473.80,276.00 C474.20,276.27 474.55,278.22 475.00,278.80 C475.45,279.38 476.25,279.38 476.50,279.50" fill="none" stroke="#3a42b2" stroke-width="1.02" stroke-linejoin="round" stroke-linecap="round"/>
<path d="M470.10,277.60 L471.30,281.30 L474.60,282.90" fill="none" stroke="#3a42b2" stroke-width="0.85" stroke-linejoin="round" stroke-linecap="round"/>
<path d="M476.50,279.20 C477.08,279.50 478.85,280.52 480.00,281.00 C481.15,281.48 482.25,282.10 483.40,282.10 C484.55,282.10 485.93,281.38 486.90,281.00 C487.87,280.62 488.82,280.00 489.20,279.80" fill="none" stroke="#1a1a1a" stroke-width="1.02" stroke-linejoin="round" stroke-linecap="round"/>
<path d="M489.20,279.80 C489.48,280.18 490.70,281.43 490.90,282.10 C491.10,282.77 490.87,283.60 490.40,283.80 C489.93,284.00 488.48,283.38 488.10,283.30" fill="none" stroke="#3a42b2" stroke-width="0.935" stroke-linejoin="round" stroke-linecap="round"/>
<path d="M488.10,279.20 C489.25,278.63 493.85,276.37 495.00,275.80" fill="none" stroke="#f0c8c8" stroke-width="2.4" stroke-linejoin="round" stroke-linecap="round"/>
<path d="M466.40,286.20 L467.30,291.10 L468.90,292.30" fill="none" stroke="#3a42b2" stroke-width="0.85" stroke-linejoin="round" stroke-linecap="round"/>
<path d="M464.40,283.70 C464.73,284.12 465.72,285.85 466.40,286.20 C467.08,286.55 467.95,285.93 468.50,285.80 C469.05,285.67 469.23,285.07 469.70,285.40 C470.17,285.73 470.35,286.85 471.30,287.80 C472.25,288.75 473.95,290.32 475.40,291.10 C476.85,291.88 478.47,292.17 480.00,292.50 C481.53,292.83 483.07,293.20 484.60,293.10 C486.13,293.00 487.85,292.48 489.20,291.90 C490.55,291.32 491.83,290.57 492.70,289.60 C493.57,288.63 494.22,287.07 494.40,286.10 C494.58,285.13 494.28,284.37 493.80,283.80 C493.32,283.23 491.88,282.88 491.50,282.70" fill="none" stroke="#3a42b2" stroke-width="1.02" stroke-linejoin="round" stroke-linecap="round"/>
<path d="M476.50,283.80 C477.27,283.90 479.75,284.02 481.10,284.40 C482.45,284.78 483.43,285.43 484.60,286.10 C485.77,286.77 487.52,288.02 488.10,288.40" fill="none" stroke="#b8b8cc" stroke-width="1.0" stroke-linejoin="round" stroke-linecap="round"/>
<path d="M467.70,291.30 C468.65,291.78 471.48,293.33 473.40,294.20 C475.32,295.07 477.27,295.82 479.20,296.50 C481.13,297.18 483.27,297.82 485.00,298.30 C486.73,298.78 488.83,299.22 489.60,299.40" fill="none" stroke="#eaa0a0" stroke-width="1.8" stroke-linejoin="round" stroke-linecap="round"/>
<path d="M459.90,292.90 L459.60,296.50 L460.50,300.00" fill="none" stroke="#3a42b2" stroke-width="0.85" stroke-linejoin="round" stroke-linecap="round"/>
<path d="M459.10,292.70 C459.30,293.12 459.75,294.85 460.30,295.20 C460.85,295.55 461.92,295.00 462.40,294.80 C462.88,294.60 462.93,293.80 463.20,294.00 C463.47,294.20 463.32,295.27 464.00,296.00 C464.68,296.73 465.92,297.55 467.30,298.40 C468.68,299.25 470.50,300.45 472.30,301.10 C474.10,301.75 476.18,302.30 478.10,302.30 C480.02,302.30 482.08,301.58 483.80,301.10 C485.52,300.62 487.63,299.68 488.40,299.40" fill="none" stroke="#3a42b2" stroke-width="1.02" stroke-linejoin="round" stroke-linecap="round"/>
<path d="M453.30,300.00 C453.48,300.38 453.93,301.72 454.40,302.30 C454.87,302.88 455.62,303.50 456.10,303.50 C456.58,303.50 456.90,302.30 457.30,302.30 C457.70,302.30 458.22,302.92 458.50,303.50 C458.78,304.08 458.72,305.03 459.00,305.80 C459.28,306.57 459.52,307.33 460.20,308.10 C460.88,308.87 461.85,309.83 463.10,310.40 C464.35,310.97 466.17,311.42 467.70,311.50 C469.23,311.58 470.95,311.28 472.30,310.90 C473.65,310.52 474.65,309.48 475.80,309.20 C476.95,308.92 478.15,309.30 479.20,309.20 C480.25,309.10 481.62,308.70 482.10,308.60" fill="none" stroke="#3a42b2" stroke-width="1.02" stroke-linejoin="round" stroke-linecap="round"/>
<path d="M459.10,292.90 C459.18,293.70 459.35,295.78 459.60,297.70 C459.85,299.62 459.95,302.48 460.60,304.40 C461.25,306.32 462.38,308.07 463.50,309.20 C464.62,310.33 466.67,310.87 467.30,311.20" fill="none" stroke="#3a42b2" stroke-width="0.935" stroke-linejoin="round" stroke-linecap="round"/>
<path d="M466.50,304.60 C466.70,305.37 467.32,307.85 467.70,309.20 C468.08,310.55 468.03,312.02 468.80,312.70 C469.57,313.38 471.33,313.40 472.30,313.30 C473.27,313.20 474.22,312.78 474.60,312.10 C474.98,311.42 474.60,309.68 474.60,309.20" fill="none" stroke="#3a42b2" stroke-width="0.935" stroke-linejoin="round" stroke-linecap="round"/>
<path d="M475.80,309.20 C476.18,309.78 477.15,312.02 478.10,312.70 C479.05,313.38 480.63,313.58 481.50,313.30 C482.37,313.02 483.10,312.17 483.30,311.00 C483.50,309.83 483.08,307.27 482.70,306.30 C482.32,305.33 481.28,305.38 481.00,305.20" fill="none" stroke="#3a42b2" stroke-width="0.935" stroke-linejoin="round" stroke-linecap="round"/>
<path d="M474.60,309.20 C475.25,309.22 477.15,309.27 478.50,309.30 C479.85,309.33 482.00,309.38 482.70,309.40" fill="none" stroke="#1a1a1a" stroke-width="0.85" stroke-linejoin="round" stroke-linecap="round"/>
<path d="M439.40,328.90 C440.05,328.58 442.25,327.87 443.30,327.00 C444.35,326.13 445.22,324.90 445.70,323.70 C446.18,322.50 446.45,320.93 446.20,319.80 C445.95,318.67 445.17,317.78 444.20,316.90 C443.23,316.02 441.68,315.45 440.40,314.50 C439.12,313.55 437.55,312.57 436.50,311.20 C435.45,309.83 434.57,308.07 434.10,306.30 C433.63,304.53 433.45,302.12 433.70,300.60 C433.95,299.08 434.65,297.92 435.60,297.20 C436.55,296.48 438.12,296.38 439.40,296.30 C440.68,296.22 442.33,296.30 443.30,296.70 C444.27,297.10 444.97,297.90 445.20,298.70 C445.43,299.50 444.78,301.03 444.70,301.50" fill="none" stroke="#1a1a1a" stroke-width="0.85" stroke-linejoin="round" stroke-linecap="round"/>
<path d="M444.70,301.50 C444.95,302.38 445.63,305.52 446.20,306.80 C446.77,308.08 447.47,308.63 448.10,309.20 C448.73,309.77 449.52,309.55 450.00,310.20 C450.48,310.85 450.52,312.13 451.00,313.10 C451.48,314.07 452.58,315.52 452.90,316.00" fill="none" stroke="#1a1a1a" stroke-width="0.85" stroke-linejoin="round" stroke-linecap="round"/>
<path d="M452.90,316.00 C453.38,316.47 454.68,318.17 455.80,318.80 C456.92,319.43 458.32,319.55 459.60,319.80 C460.88,320.05 462.38,320.13 463.50,320.30 C464.62,320.47 465.42,320.72 466.30,320.80 C467.18,320.88 468.32,321.13 468.80,320.80 C469.28,320.47 469.45,319.28 469.20,318.80 C468.95,318.32 467.93,317.82 467.30,317.90 C466.67,317.98 465.88,318.67 465.40,319.30 C464.92,319.93 464.72,320.65 464.40,321.70 C464.08,322.75 463.98,324.47 463.50,325.60 C463.02,326.73 462.30,327.87 461.50,328.50 C460.70,329.13 459.65,329.48 458.70,329.40 C457.75,329.32 456.62,328.80 455.80,328.00 C454.98,327.20 454.20,325.65 453.80,324.60 C453.40,323.55 453.07,322.67 453.40,321.70 C453.73,320.73 455.40,319.28 455.80,318.80" fill="none" stroke="#1a1a1a" stroke-width="0.85" stroke-linejoin="round" stroke-linecap="round"/>
<path d="M452.90,299.60 C452.98,300.08 453.25,301.22 453.40,302.50 C453.55,303.78 453.65,305.70 453.80,307.30 C453.95,308.90 453.97,310.18 454.30,312.10 C454.63,314.02 455.55,317.68 455.80,318.80" fill="none" stroke="#1a1a1a" stroke-width="0.85" stroke-linejoin="round" stroke-linecap="round"/>
<path d="M452.90,299.60 C453.05,299.92 453.32,300.93 453.80,301.50 C454.28,302.07 455.15,302.83 455.80,303.00 C456.45,303.17 457.38,302.58 457.70,302.50" fill="none" stroke="#1a1a1a" stroke-width="0.85" stroke-linejoin="round" stroke-linecap="round"/>
<path d="M444.90,300.50 C444.92,301.00 444.82,302.50 445.00,303.50 C445.18,304.50 445.83,306.00 446.00,306.50" fill="none" stroke="#3a42b2" stroke-width="0.85" stroke-linejoin="round" stroke-linecap="round"/>
<path d="M451.00,241.40 C451.18,240.43 451.92,236.57 452.10,235.60" fill="none" stroke="#e02828" stroke-width="2.4" stroke-linejoin="round" stroke-linecap="round"/>
<ellipse cx="478.2" cy="226.60" rx="3.0" ry="2.2" fill="#e85050" transform="rotate(-20 478.2 226.60)"/>
<circle cx="482.20" cy="306.60" r="1.2" fill="#f08080" stroke="#f08080" stroke-width="0.2"/>
<path d="M489.00,274.20 C489.92,273.60 493.58,271.20 494.50,270.60" fill="none" stroke="#ffffff" stroke-width="0.9" stroke-linejoin="round" stroke-linecap="round"/>
<path d="M466.00,245.80 C466.42,245.63 467.75,245.17 468.50,244.80 C469.25,244.43 470.17,243.80 470.50,243.60" fill="none" stroke="#1a1a1a" stroke-width="0.935" stroke-linejoin="round" stroke-linecap="round"/>
<path d="M466.50,255.20 C467.00,255.20 468.58,255.25 469.50,255.20 C470.42,255.15 471.58,254.95 472.00,254.90" fill="none" stroke="#1a1a1a" stroke-width="0.935" stroke-linejoin="round" stroke-linecap="round"/>
<circle cx="499.50" cy="254.80" r="1.3" fill="#222" stroke="#c04040" stroke-width="0.4"/>
<circle cx="489.60" cy="299.40" r="1.0" fill="#333" stroke="#333" stroke-width="0.2"/>
<path d="M463.70,349.70 C464.17,349.05 465.38,347.25 466.50,345.80 C467.62,344.35 468.95,342.52 470.40,341.00 C471.85,339.48 474.40,337.42 475.20,336.70" fill="none" stroke="#1a1a1a" stroke-width="0.85" stroke-linejoin="round" stroke-linecap="round"/>
<path d="M475.20,336.70 C476.00,336.22 478.23,334.53 480.00,333.80 C481.77,333.07 483.88,332.62 485.80,332.30 C487.72,331.98 490.55,331.97 491.50,331.90" fill="none" stroke="#3a42b2" stroke-width="0.935" stroke-linejoin="round" stroke-linecap="round"/>
<path d="M491.50,331.90 C492.23,331.95 495.25,331.97 495.90,332.20 C496.55,332.43 495.88,332.72 495.40,333.30 C494.92,333.88 493.40,335.30 493.00,335.70" fill="none" stroke="#1a1a1a" stroke-width="0.85" stroke-linejoin="round" stroke-linecap="round"/>
<path d="M463.70,349.70 C463.85,349.93 463.97,350.70 464.60,351.10 C465.23,351.50 466.38,351.78 467.50,352.10 C468.62,352.42 470.18,352.68 471.30,353.00 C472.42,353.32 473.07,353.43 474.20,354.00 C475.33,354.57 477.05,355.52 478.10,356.40 C479.15,357.28 480.10,358.42 480.50,359.30 C480.90,360.18 480.50,361.30 480.50,361.70" fill="none" stroke="#1a1a1a" stroke-width="0.85" stroke-linejoin="round" stroke-linecap="round"/>
<path d="M462.70,351.00 C462.83,351.75 463.07,354.03 463.50,355.50 C463.93,356.97 464.63,358.93 465.30,359.80 C465.97,360.67 466.80,361.17 467.50,360.70 C468.20,360.23 468.92,358.40 469.50,357.00 C470.08,355.60 470.50,352.47 471.00,352.30 C471.50,352.13 471.92,354.75 472.50,356.00 C473.08,357.25 473.83,359.63 474.50,359.80 C475.17,359.97 475.92,357.97 476.50,357.00 C477.08,356.03 477.75,354.50 478.00,354.00" fill="none" stroke="#3a42b2" stroke-width="0.935" stroke-linejoin="round" stroke-linecap="round"/>
<path d="M464.60,354.00 C465.40,353.83 467.80,352.92 469.40,353.00 C471.00,353.08 472.75,354.02 474.20,354.50 C475.65,354.98 477.45,355.67 478.10,355.90" fill="none" stroke="#1a1a1a" stroke-width="0.765" stroke-linejoin="round" stroke-linecap="round"/>
<path d="M480.50,359.30 C480.90,358.65 482.18,356.68 482.90,355.40 C483.62,354.12 484.17,352.40 484.80,351.60 C485.43,350.80 486.53,350.12 486.70,350.60 C486.87,351.08 485.63,353.53 485.80,354.50 C485.97,355.47 486.58,356.25 487.70,356.40 C488.82,356.55 491.22,356.05 492.50,355.40 C493.78,354.75 495.17,353.30 495.40,352.50 C495.63,351.70 494.70,350.83 493.90,350.60 C493.10,350.37 491.72,350.30 490.60,351.10 C489.48,351.90 488.00,353.88 487.20,355.40 C486.40,356.92 486.12,358.60 485.80,360.20 C485.48,361.80 485.70,363.53 485.30,365.00 C484.90,366.47 484.10,367.87 483.40,369.00 C482.70,370.13 481.48,371.33 481.10,371.80" fill="none" stroke="#1a1a1a" stroke-width="0.85" stroke-linejoin="round" stroke-linecap="round"/>
<path d="M452.60,361.90 C453.00,361.78 453.80,361.40 455.00,361.20 C456.20,361.00 458.43,360.93 459.80,360.70 C461.17,360.47 462.40,360.37 463.20,359.80 C464.00,359.23 464.37,357.72 464.60,357.30" fill="none" stroke="#1a1a1a" stroke-width="0.85" stroke-linejoin="round" stroke-linecap="round"/>
<path d="M460.80,368.50 C461.43,368.00 463.17,366.40 464.60,365.50 C466.03,364.60 467.80,363.65 469.40,363.10 C471.00,362.55 472.60,362.43 474.20,362.20 C475.80,361.97 477.87,361.95 479.00,361.70 C480.13,361.45 480.67,360.87 481.00,360.70" fill="none" stroke="#1a1a1a" stroke-width="0.85" stroke-linejoin="round" stroke-linecap="round"/>
<path d="M452.60,362.60 C452.27,363.28 451.80,365.42 450.60,366.70 C449.40,367.98 447.12,369.12 445.40,370.30 C443.68,371.48 441.15,373.22 440.30,373.80" fill="none" stroke="#eaa8a8" stroke-width="2.0" stroke-linejoin="round" stroke-linecap="round"/>
<path d="M440.30,373.80 C439.62,374.65 437.55,377.02 436.20,378.90 C434.85,380.78 433.63,383.22 432.20,385.10 C430.77,386.98 428.37,389.35 427.60,390.20" fill="none" stroke="#d83a3a" stroke-width="2.2" stroke-linejoin="round" stroke-linecap="round"/>
<path d="M427.60,390.20 C427.85,390.37 428.00,390.87 429.10,391.20 C430.20,391.53 433.18,391.52 434.20,392.20 C435.22,392.88 435.03,394.78 435.20,395.30" fill="none" stroke="#e07070" stroke-width="2.0" stroke-linejoin="round" stroke-linecap="round"/>
<path d="M435.20,395.30 C435.03,395.98 434.03,398.20 434.20,399.40 C434.37,400.60 435.18,401.73 436.20,402.50 C437.22,403.27 439.02,404.08 440.30,404.00 C441.58,403.92 443.05,402.93 443.90,402.00 C444.75,401.07 444.80,399.68 445.40,398.40 C446.00,397.12 447.15,394.98 447.50,394.30" fill="none" stroke="#c4c4c4" stroke-width="1.5" stroke-linejoin="round" stroke-linecap="round"/>
<path d="M447.50,394.30 C447.83,393.45 448.92,390.73 449.50,389.20 C450.08,387.67 450.57,386.82 451.00,385.10 C451.43,383.38 451.92,379.93 452.10,378.90" fill="none" stroke="#e01c1c" stroke-width="3.2" stroke-linejoin="round" stroke-linecap="round"/>
<path d="M452.10,378.90 C452.35,378.40 453.00,376.92 453.60,375.90 C454.20,374.88 455.27,373.83 455.70,372.80 C456.13,371.77 456.20,370.72 456.20,369.70 C456.20,368.68 456.13,367.72 455.70,366.70 C455.27,365.68 454.12,364.45 453.60,363.60 C453.08,362.75 452.77,361.93 452.60,361.60" fill="none" stroke="#3a42b2" stroke-width="1.02" stroke-linejoin="round" stroke-linecap="round"/>
<path d="M452.60,363.60 C453.12,364.12 454.50,365.85 455.70,366.70 C456.90,367.55 458.43,368.53 459.80,368.70 C461.17,368.87 462.55,368.38 463.90,367.70 C465.25,367.02 466.37,365.45 467.90,364.60 C469.43,363.75 471.92,363.02 473.10,362.60 C474.28,362.18 474.68,362.18 475.00,362.10" fill="none" stroke="#1a1a1a" stroke-width="0.85" stroke-linejoin="round" stroke-linecap="round"/>
<path d="M456.90,380.50 C456.80,380.22 455.92,379.47 456.30,378.80 C456.68,378.13 458.13,377.18 459.20,376.50 C460.27,375.82 461.55,375.28 462.70,374.70 C463.85,374.12 464.95,373.48 466.10,373.00 C467.25,372.52 468.43,372.00 469.60,371.80 C470.77,371.60 472.13,371.98 473.10,371.80 C474.07,371.62 474.53,371.08 475.40,370.70 C476.27,370.32 477.35,369.40 478.30,369.50 C479.25,369.60 480.05,371.20 481.10,371.30 C482.15,371.40 483.43,370.40 484.60,370.10 C485.77,369.80 487.13,369.88 488.10,369.50 C489.07,369.12 489.92,368.37 490.40,367.80 C490.88,367.23 490.90,366.38 491.00,366.10" fill="none" stroke="#3a42b2" stroke-width="1.02" stroke-linejoin="round" stroke-linecap="round"/>
<path d="M456.90,380.50 C457.48,380.68 459.25,381.70 460.40,381.60 C461.55,381.50 462.85,380.67 463.80,379.90 C464.75,379.13 465.13,377.38 466.10,377.00 C467.07,376.62 468.43,377.22 469.60,377.60 C470.77,377.98 471.95,379.02 473.10,379.30 C474.25,379.58 475.35,379.68 476.50,379.30 C477.65,378.92 478.85,377.77 480.00,377.00 C481.15,376.23 482.25,375.47 483.40,374.70 C484.55,373.93 485.93,372.97 486.90,372.40 C487.87,371.83 488.82,371.48 489.20,371.30" fill="none" stroke="#3a42b2" stroke-width="1.02" stroke-linejoin="round" stroke-linecap="round"/>
<path d="M489.20,369.00 C489.40,369.57 490.20,371.07 490.40,372.40 C490.60,373.73 490.60,375.47 490.40,377.00 C490.20,378.53 489.78,380.25 489.20,381.60 C488.62,382.95 487.67,384.13 486.90,385.10 C486.13,386.07 485.57,386.73 484.60,387.40 C483.63,388.07 482.25,388.72 481.10,389.10 C479.95,389.48 478.85,389.78 477.70,389.70 C476.55,389.62 475.27,389.08 474.20,388.60 C473.13,388.12 471.78,387.10 471.30,386.80" fill="none" stroke="#3a42b2" stroke-width="1.02" stroke-linejoin="round" stroke-linecap="round"/>
<path d="M471.30,386.80 C471.02,387.00 470.27,387.52 469.60,388.00 C468.93,388.48 468.07,389.32 467.30,389.70 C466.53,390.08 465.87,390.40 465.00,390.30 C464.13,390.20 462.77,389.73 462.10,389.10 C461.43,388.47 461.18,386.93 461.00,386.50" fill="none" stroke="#3a42b2" stroke-width="0.935" stroke-linejoin="round" stroke-linecap="round"/>
<path d="M496.10,379.30 C496.02,379.88 495.98,381.83 495.60,382.80 C495.22,383.77 494.67,384.43 493.80,385.10 C492.93,385.77 491.55,386.42 490.40,386.80 C489.25,387.18 488.07,387.20 486.90,387.40 C485.73,387.60 483.98,387.90 483.40,388.00" fill="none" stroke="#3a42b2" stroke-width="0.935" stroke-linejoin="round" stroke-linecap="round"/>
<path d="M481.50,382.50 C481.67,382.92 482.18,384.17 482.50,385.00 C482.82,385.83 483.25,387.08 483.40,387.50" fill="none" stroke="#b8b8cc" stroke-width="1.1" stroke-linejoin="round" stroke-linecap="round"/>
<path d="M496.10,382.80 C495.72,383.77 494.57,386.87 493.80,388.60 C493.03,390.33 492.27,391.67 491.50,393.20 C490.73,394.73 489.97,396.65 489.20,397.80 C488.43,398.95 487.87,399.52 486.90,400.10 C485.93,400.68 483.98,401.10 483.40,401.30" fill="none" stroke="#1a1a1a" stroke-width="0.85" stroke-linejoin="round" stroke-linecap="round"/>
<path d="M464.80,395.00 C464.93,395.57 464.98,397.75 465.60,398.40 C466.22,399.05 467.55,398.90 468.50,398.90 C469.45,398.90 470.35,398.40 471.30,398.40 C472.25,398.40 473.72,398.82 474.20,398.90" fill="none" stroke="#3a42b2" stroke-width="0.935" stroke-linejoin="round" stroke-linecap="round"/>
<path d="M474.20,398.90 C474.78,399.00 476.55,399.30 477.70,399.50 C478.85,399.70 479.95,399.90 481.10,400.10 C482.25,400.30 483.43,400.70 484.60,400.70 C485.77,400.70 486.95,400.40 488.10,400.10 C489.25,399.80 490.35,399.18 491.50,398.90 C492.65,398.62 494.03,398.58 495.00,398.40 C495.97,398.22 496.35,397.80 497.30,397.80 C498.25,397.80 500.13,398.30 500.70,398.40" fill="none" stroke="#3a42b2" stroke-width="1.02" stroke-linejoin="round" stroke-linecap="round"/>
<path d="M482.30,402.40 C482.75,402.83 484.03,404.40 485.00,405.00 C485.97,405.60 487.10,406.00 488.10,406.00 C489.10,406.00 490.23,405.60 491.00,405.00 C491.77,404.40 491.85,403.22 492.70,402.40 C493.55,401.58 495.53,400.48 496.10,400.10" fill="none" stroke="#b8b8cc" stroke-width="1.2" stroke-linejoin="round" stroke-linecap="round"/>
<path d="M467.70,408.00 L471.30,410.00 L473.40,408.70 L474.60,412.50 L476.50,413.70" fill="none" stroke="#3a42b2" stroke-width="0.935" stroke-linejoin="round" stroke-linecap="round"/>
<path d="M469.50,409.00 L470.50,412.00 L473.00,413.50" fill="none" stroke="#3a42b2" stroke-width="0.85" stroke-linejoin="round" stroke-linecap="round"/>
<path d="M474.80,411.20 C475.28,411.58 476.65,413.12 477.70,413.50 C478.75,413.88 479.95,413.70 481.10,413.50 C482.25,413.30 483.43,412.88 484.60,412.30 C485.77,411.72 486.95,410.95 488.10,410.00 C489.25,409.05 490.35,407.75 491.50,406.60 C492.65,405.45 494.03,404.25 495.00,403.10 C495.97,401.95 496.92,400.27 497.30,399.70" fill="none" stroke="#3a42b2" stroke-width="1.02" stroke-linejoin="round" stroke-linecap="round"/>
<path d="M487.00,420.30 C487.80,419.70 490.23,417.90 491.80,416.70 C493.37,415.50 495.63,413.70 496.40,413.10" fill="none" stroke="#b8b8cc" stroke-width="2.0" stroke-linejoin="round" stroke-linecap="round"/>
<path d="M492.70,413.50 C493.27,413.30 494.95,412.30 496.10,412.30 C497.25,412.30 498.43,413.50 499.60,413.50 C500.77,413.50 502.13,412.88 503.10,412.30 C504.07,411.72 505.02,410.38 505.40,410.00" fill="none" stroke="#3a42b2" stroke-width="0.935" stroke-linejoin="round" stroke-linecap="round"/>
<path d="M484.60,412.30 C484.80,412.88 485.42,414.63 485.80,415.80 C486.18,416.97 486.52,418.33 486.90,419.30 C487.28,420.27 487.90,421.22 488.10,421.60" fill="none" stroke="#3a42b2" stroke-width="0.935" stroke-linejoin="round" stroke-linecap="round"/>
<path d="M467.30,417.80 C467.77,418.35 469.22,420.62 470.10,421.10 C470.98,421.58 471.98,420.97 472.60,420.70 C473.22,420.43 473.40,419.23 473.80,419.50 C474.20,419.77 474.55,421.72 475.00,422.30 C475.45,422.88 476.25,422.88 476.50,423.00" fill="none" stroke="#3a42b2" stroke-width="1.02" stroke-linejoin="round" stroke-linecap="round"/>
<path d="M470.10,421.10 L471.30,424.80 L474.60,426.40" fill="none" stroke="#3a42b2" stroke-width="0.85" stroke-linejoin="round" stroke-linecap="round"/>
<path d="M476.50,422.70 C477.08,423.00 478.85,424.02 480.00,424.50 C481.15,424.98 482.25,425.60 483.40,425.60 C484.55,425.60 485.93,424.88 486.90,424.50 C487.87,424.12 488.82,423.50 489.20,423.30" fill="none" stroke="#3a42b2" stroke-width="1.02" stroke-linejoin="round" stroke-linecap="round"/>
<path d="M489.20,423.30 C489.48,423.68 490.70,424.93 490.90,425.60 C491.10,426.27 490.87,427.10 490.40,427.30 C489.93,427.50 488.48,426.88 488.10,426.80" fill="none" stroke="#3a42b2" stroke-width="0.935" stroke-linejoin="round" stroke-linecap="round"/>
<path d="M488.10,422.70 C489.25,422.13 493.85,419.87 495.00,419.30" fill="none" stroke="#b8b8cc" stroke-width="1.6" stroke-linejoin="round" stroke-linecap="round"/>
<path d="M466.40,429.70 L467.30,434.60 L468.90,435.80" fill="none" stroke="#3a42b2" stroke-width="0.85" stroke-linejoin="round" stroke-linecap="round"/>
<path d="M464.40,427.20 C464.73,427.62 465.72,429.35 466.40,429.70 C467.08,430.05 467.95,429.43 468.50,429.30 C469.05,429.17 469.23,428.57 469.70,428.90 C470.17,429.23 470.35,430.35 471.30,431.30 C472.25,432.25 473.95,433.82 475.40,434.60 C476.85,435.38 478.47,435.67 480.00,436.00 C481.53,436.33 483.07,436.70 484.60,436.60 C486.13,436.50 487.85,435.98 489.20,435.40 C490.55,434.82 491.83,434.07 492.70,433.10 C493.57,432.13 494.22,430.57 494.40,429.60 C494.58,428.63 494.28,427.87 493.80,427.30 C493.32,426.73 491.88,426.38 491.50,426.20" fill="none" stroke="#3a42b2" stroke-width="1.02" stroke-linejoin="round" stroke-linecap="round"/>
<path d="M476.50,427.30 C477.27,427.40 479.75,427.52 481.10,427.90 C482.45,428.28 483.43,428.93 484.60,429.60 C485.77,430.27 487.52,431.52 488.10,431.90" fill="none" stroke="#b8b8cc" stroke-width="1.0" stroke-linejoin="round" stroke-linecap="round"/>
<path d="M467.70,434.80 C468.65,435.28 471.48,436.83 473.40,437.70 C475.32,438.57 477.27,439.32 479.20,440.00 C481.13,440.68 483.27,441.32 485.00,441.80 C486.73,442.28 488.83,442.72 489.60,442.90" fill="none" stroke="#b8b8cc" stroke-width="1.2" stroke-linejoin="round" stroke-linecap="round"/>
<path d="M459.90,436.40 L459.60,440.00 L460.50,443.50" fill="none" stroke="#3a42b2" stroke-width="0.85" stroke-linejoin="round" stroke-linecap="round"/>
<path d="M459.10,436.20 C459.30,436.62 459.75,438.35 460.30,438.70 C460.85,439.05 461.92,438.50 462.40,438.30 C462.88,438.10 462.93,437.30 463.20,437.50 C463.47,437.70 463.32,438.77 464.00,439.50 C464.68,440.23 465.92,441.05 467.30,441.90 C468.68,442.75 470.50,443.95 472.30,444.60 C474.10,445.25 476.18,445.80 478.10,445.80 C480.02,445.80 482.08,445.08 483.80,444.60 C485.52,444.12 487.63,443.18 488.40,442.90" fill="none" stroke="#3a42b2" stroke-width="1.02" stroke-linejoin="round" stroke-linecap="round"/>
<path d="M453.30,443.50 C453.48,443.88 453.93,445.22 454.40,445.80 C454.87,446.38 455.62,447.00 456.10,447.00 C456.58,447.00 456.90,445.80 457.30,445.80 C457.70,445.80 458.22,446.42 458.50,447.00 C458.78,447.58 458.72,448.53 459.00,449.30 C459.28,450.07 459.52,450.83 460.20,451.60 C460.88,452.37 461.85,453.33 463.10,453.90 C464.35,454.47 466.17,454.92 467.70,455.00 C469.23,455.08 470.95,454.78 472.30,454.40 C473.65,454.02 474.65,452.98 475.80,452.70 C476.95,452.42 478.15,452.80 479.20,452.70 C480.25,452.60 481.62,452.20 482.10,452.10" fill="none" stroke="#3a42b2" stroke-width="1.02" stroke-linejoin="round" stroke-linecap="round"/>
<path d="M459.10,436.40 C459.18,437.20 459.35,439.28 459.60,441.20 C459.85,443.12 459.95,445.98 460.60,447.90 C461.25,449.82 462.38,451.57 463.50,452.70 C464.62,453.83 466.67,454.37 467.30,454.70" fill="none" stroke="#3a42b2" stroke-width="0.935" stroke-linejoin="round" stroke-linecap="round"/>
<path d="M466.50,448.10 C466.70,448.87 467.32,451.35 467.70,452.70 C468.08,454.05 468.03,455.52 468.80,456.20 C469.57,456.88 471.33,456.90 472.30,456.80 C473.27,456.70 474.22,456.28 474.60,455.60 C474.98,454.92 474.60,453.18 474.60,452.70" fill="none" stroke="#3a42b2" stroke-width="0.935" stroke-linejoin="round" stroke-linecap="round"/>
<path d="M475.80,452.70 C476.18,453.28 477.15,455.52 478.10,456.20 C479.05,456.88 480.63,457.08 481.50,456.80 C482.37,456.52 483.10,455.67 483.30,454.50 C483.50,453.33 483.08,450.77 482.70,449.80 C482.32,448.83 481.28,448.88 481.00,448.70" fill="none" stroke="#3a42b2" stroke-width="0.935" stroke-linejoin="round" stroke-linecap="round"/>
<path d="M474.60,452.70 C475.25,452.72 477.15,452.77 478.50,452.80 C479.85,452.83 482.00,452.88 482.70,452.90" fill="none" stroke="#1a1a1a" stroke-width="0.85" stroke-linejoin="round" stroke-linecap="round"/>
<path d="M439.40,472.40 C440.05,472.08 442.25,471.37 443.30,470.50 C444.35,469.63 445.22,468.40 445.70,467.20 C446.18,466.00 446.45,464.43 446.20,463.30 C445.95,462.17 445.17,461.28 444.20,460.40 C443.23,459.52 441.68,458.95 440.40,458.00 C439.12,457.05 437.55,456.07 436.50,454.70 C435.45,453.33 434.57,451.57 434.10,449.80 C433.63,448.03 433.45,445.62 433.70,444.10 C433.95,442.58 434.65,441.42 435.60,440.70 C436.55,439.98 438.12,439.88 439.40,439.80 C440.68,439.72 442.33,439.80 443.30,440.20 C444.27,440.60 444.97,441.40 445.20,442.20 C445.43,443.00 444.78,444.53 444.70,445.00" fill="none" stroke="#1a1a1a" stroke-width="0.85" stroke-linejoin="round" stroke-linecap="round"/>
<path d="M444.70,445.00 C444.95,445.88 445.63,449.02 446.20,450.30 C446.77,451.58 447.47,452.13 448.10,452.70 C448.73,453.27 449.52,453.05 450.00,453.70 C450.48,454.35 450.52,455.63 451.00,456.60 C451.48,457.57 452.58,459.02 452.90,459.50" fill="none" stroke="#3a42b2" stroke-width="0.935" stroke-linejoin="round" stroke-linecap="round"/>
<path d="M452.90,459.50 C453.38,459.97 454.68,461.67 455.80,462.30 C456.92,462.93 458.32,463.05 459.60,463.30 C460.88,463.55 462.38,463.63 463.50,463.80 C464.62,463.97 465.42,464.22 466.30,464.30 C467.18,464.38 468.32,464.63 468.80,464.30 C469.28,463.97 469.45,462.78 469.20,462.30 C468.95,461.82 467.93,461.32 467.30,461.40 C466.67,461.48 465.88,462.17 465.40,462.80 C464.92,463.43 464.72,464.15 464.40,465.20 C464.08,466.25 463.98,467.97 463.50,469.10 C463.02,470.23 462.30,471.37 461.50,472.00 C460.70,472.63 459.65,472.98 458.70,472.90 C457.75,472.82 456.62,472.30 455.80,471.50 C454.98,470.70 454.20,469.15 453.80,468.10 C453.40,467.05 453.07,466.17 453.40,465.20 C453.73,464.23 455.40,462.78 455.80,462.30" fill="none" stroke="#5058c0" stroke-width="0.935" stroke-linejoin="round" stroke-linecap="round"/>
<path d="M452.90,443.10 C452.98,443.58 453.25,444.72 453.40,446.00 C453.55,447.28 453.65,449.20 453.80,450.80 C453.95,452.40 453.97,453.68 454.30,455.60 C454.63,457.52 455.55,461.18 455.80,462.30" fill="none" stroke="#444" stroke-width="0.85" stroke-linejoin="round" stroke-linecap="round"/>
<path d="M452.90,443.10 C453.05,443.42 453.32,444.43 453.80,445.00 C454.28,445.57 455.15,446.33 455.80,446.50 C456.45,446.67 457.38,446.08 457.70,446.00" fill="none" stroke="#1a1a1a" stroke-width="0.85" stroke-linejoin="round" stroke-linecap="round"/>
<path d="M444.90,444.00 C444.92,444.50 444.82,446.00 445.00,447.00 C445.18,448.00 445.83,449.50 446.00,450.00" fill="none" stroke="#3a42b2" stroke-width="0.85" stroke-linejoin="round" stroke-linecap="round"/>
<circle cx="427.40" cy="390.40" r="1.0" fill="#333" stroke="#333" stroke-width="0.2"/>
<circle cx="490.00" cy="442.50" r="2.2" fill="#d81818" stroke="#801010" stroke-width="0.4"/>
<circle cx="488.60" cy="442.80" r="1.1" fill="#20306a" stroke="#20306a" stroke-width="0.2"/>
<line x1="501.30" y1="423.10" x2="495.20" y2="421.50" stroke="#111" stroke-width="0.8"/>
<path d="M494.2,421.2 L497.0,420.1 L496.3,422.9 Z" fill="#111"/>
<line x1="38.50" y1="300.35" x2="38.50" y2="370.40" stroke="#000" stroke-width="1.1"/>
<line x1="38.00" y1="369.90" x2="108.58" y2="369.90" stroke="#000" stroke-width="1.1"/>
<line x1="36.70" y1="367.20" x2="38.50" y2="367.20" stroke="#000" stroke-width="0.7"/>
<text x="36.10" y="369.40" font-size="6.3" text-anchor="end" textLength="8.4" lengthAdjust="spacingAndGlyphs">0.0</text>
<line x1="36.70" y1="354.51" x2="38.50" y2="354.51" stroke="#000" stroke-width="0.7"/>
<text x="36.10" y="356.71" font-size="6.3" text-anchor="end" textLength="8.4" lengthAdjust="spacingAndGlyphs">0.2</text>
<line x1="36.70" y1="341.82" x2="38.50" y2="341.82" stroke="#000" stroke-width="0.7"/>
<text x="36.10" y="344.02" font-size="6.3" text-anchor="end" textLength="8.4" lengthAdjust="spacingAndGlyphs">0.4</text>
<line x1="36.70" y1="329.13" x2="38.50" y2="329.13" stroke="#000" stroke-width="0.7"/>
<text x="36.10" y="331.33" font-size="6.3" text-anchor="end" textLength="8.4" lengthAdjust="spacingAndGlyphs">0.6</text>
<line x1="36.70" y1="316.44" x2="38.50" y2="316.44" stroke="#000" stroke-width="0.7"/>
<text x="36.10" y="318.64" font-size="6.3" text-anchor="end" textLength="8.4" lengthAdjust="spacingAndGlyphs">0.8</text>
<line x1="36.70" y1="303.75" x2="38.50" y2="303.75" stroke="#000" stroke-width="0.7"/>
<text x="36.10" y="305.95" font-size="6.3" text-anchor="end" textLength="8.4" lengthAdjust="spacingAndGlyphs">1.0</text>
<line x1="38.50" y1="369.90" x2="38.50" y2="371.70" stroke="#000" stroke-width="0.7"/>
<line x1="50.08" y1="369.90" x2="50.08" y2="371.70" stroke="#000" stroke-width="0.7"/>
<line x1="61.66" y1="369.90" x2="61.66" y2="371.70" stroke="#000" stroke-width="0.7"/>
<line x1="73.24" y1="369.90" x2="73.24" y2="371.70" stroke="#000" stroke-width="0.7"/>
<line x1="84.82" y1="369.90" x2="84.82" y2="371.70" stroke="#000" stroke-width="0.7"/>
<line x1="96.40" y1="369.90" x2="96.40" y2="371.70" stroke="#000" stroke-width="0.7"/>
<line x1="107.98" y1="369.90" x2="107.98" y2="371.70" stroke="#000" stroke-width="0.7"/>
<text x="38.50" y="378.00" font-size="6.6" text-anchor="middle">1</text>
<text x="50.08" y="378.00" font-size="6.6" text-anchor="middle">2</text>
<text x="61.66" y="378.00" font-size="6.6" text-anchor="middle">3</text>
<text x="73.24" y="378.00" font-size="6.6" text-anchor="middle">4</text>
<text x="84.82" y="378.00" font-size="6.6" text-anchor="middle">5</text>
<text x="96.40" y="378.00" font-size="6.6" text-anchor="middle">6</text>
<text x="107.98" y="378.00" font-size="6.6" text-anchor="middle">7</text>
<path d="M38.50,303.75 L39.08,303.84 L39.66,304.09 L40.24,304.52 L40.82,305.11 L41.40,305.87 L41.97,306.77 L42.55,307.83 L43.13,309.03 L43.71,310.35 L44.29,311.80 L44.87,313.35 L45.45,315.01 L46.03,316.75 L46.61,318.56 L47.19,320.44 L47.76,322.36 L48.34,324.33 L48.92,326.31 L49.50,328.31 L50.08,330.32 L50.66,332.31 L51.24,334.29 L51.82,336.24 L52.40,338.15 L52.98,340.02 L53.55,341.84 L54.13,343.59 L54.71,345.29 L55.29,346.92 L55.87,348.48 L56.45,349.97 L57.03,351.38 L57.61,352.71 L58.19,353.97 L58.76,355.15 L59.34,356.26 L59.92,357.29 L60.50,358.25 L61.08,359.14 L61.66,359.96 L62.24,360.71 L62.82,361.40 L63.40,362.03 L63.98,362.61 L64.55,363.13 L65.13,363.60 L65.71,364.03 L66.29,364.41 L66.87,364.76 L67.45,365.06 L68.03,365.34 L68.61,365.58 L69.19,365.79 L69.77,365.98 L70.34,366.15 L70.92,366.30 L71.50,366.43 L72.08,366.54 L72.66,366.64 L73.24,366.72 L73.82,366.79 L74.40,366.85 L74.98,366.91 L75.56,366.95 L76.13,366.99 L76.71,367.03 L77.29,367.06 L77.87,367.08 L78.45,367.10 L79.03,367.12 L79.61,367.13 L80.19,367.14 L80.77,367.15 L81.35,367.16 L81.92,367.17 L82.50,367.17 L83.08,367.18 L83.66,367.18 L84.24,367.19 L84.82,367.19 L85.40,367.19 L85.98,367.19 L86.56,367.19 L87.14,367.20 L87.71,367.20 L88.29,367.20 L88.87,367.20 L89.45,367.20 L90.03,367.20 L90.61,367.20 L91.19,367.20 L91.77,367.20 L92.35,367.20 L92.93,367.20 L93.50,367.20 L94.08,367.20 L94.66,367.20 L95.24,367.20 L95.82,367.20 L96.40,367.20 L96.98,367.20 L97.56,367.20 L98.14,367.20 L98.72,367.20 L99.29,367.20 L99.87,367.20 L100.45,367.20 L101.03,367.20 L101.61,367.20 L102.19,367.20 L102.77,367.20 L103.35,367.20 L103.93,367.20 L104.51,367.20 L105.08,367.20 L105.66,367.20 L106.24,367.20 L106.82,367.20 L107.40,367.20 L107.98,367.20" fill="none" stroke="#2b6cab" stroke-width="1.0" stroke-linejoin="round" stroke-linecap="round"/>
<path d="M38.50,305.45 L39.08,304.88 L39.66,304.43 L40.24,304.09 L40.82,303.87 L41.40,303.76 L41.97,303.77 L42.55,303.90 L43.13,304.15 L43.71,304.51 L44.29,304.99 L44.87,305.57 L45.45,306.27 L46.03,307.06 L46.61,307.96 L47.19,308.96 L47.76,310.04 L48.34,311.21 L48.92,312.45 L49.50,313.77 L50.08,315.15 L50.66,316.59 L51.24,318.08 L51.82,319.62 L52.40,321.19 L52.98,322.79 L53.55,324.42 L54.13,326.07 L54.71,327.72 L55.29,329.38 L55.87,331.04 L56.45,332.68 L57.03,334.32 L57.61,335.93 L58.19,337.52 L58.76,339.08 L59.34,340.61 L59.92,342.11 L60.50,343.56 L61.08,344.97 L61.66,346.33 L62.24,347.65 L62.82,348.92 L63.40,350.14 L63.98,351.30 L64.55,352.42 L65.13,353.48 L65.71,354.49 L66.29,355.44 L66.87,356.35 L67.45,357.20 L68.03,358.01 L68.61,358.76 L69.19,359.47 L69.77,360.13 L70.34,360.74 L70.92,361.32 L71.50,361.85 L72.08,362.34 L72.66,362.80 L73.24,363.22 L73.82,363.61 L74.40,363.96 L74.98,364.29 L75.56,364.59 L76.13,364.86 L76.71,365.11 L77.29,365.33 L77.87,365.53 L78.45,365.72 L79.03,365.89 L79.61,366.04 L80.19,366.17 L80.77,366.29 L81.35,366.40 L81.92,366.50 L82.50,366.58 L83.08,366.66 L83.66,366.73 L84.24,366.79 L84.82,366.84 L85.40,366.89 L85.98,366.93 L86.56,366.96 L87.14,367.00 L87.71,367.02 L88.29,367.05 L88.87,367.07 L89.45,367.09 L90.03,367.10 L90.61,367.12 L91.19,367.13 L91.77,367.14 L92.35,367.15 L92.93,367.16 L93.50,367.16 L94.08,367.17 L94.66,367.17 L95.24,367.18 L95.82,367.18 L96.40,367.18 L96.98,367.19 L97.56,367.19 L98.14,367.19 L98.72,367.19 L99.29,367.19 L99.87,367.19 L100.45,367.20 L101.03,367.20 L101.61,367.20 L102.19,367.20 L102.77,367.20 L103.35,367.20 L103.93,367.20 L104.51,367.20 L105.08,367.20 L105.66,367.20 L106.24,367.20 L106.82,367.20 L107.40,367.20 L107.98,367.20" fill="none" stroke="#2b6cab" stroke-width="1.0" stroke-linejoin="round" stroke-linecap="round"/>
<path d="M38.50,321.57 L39.08,320.00 L39.66,318.47 L40.24,316.98 L40.82,315.53 L41.40,314.15 L41.97,312.82 L42.55,311.57 L43.13,310.39 L43.71,309.29 L44.29,308.27 L44.87,307.35 L45.45,306.53 L46.03,305.80 L46.61,305.18 L47.19,304.67 L47.76,304.27 L48.34,303.98 L48.92,303.81 L49.50,303.75 L50.08,303.81 L50.66,304.00 L51.24,304.32 L51.82,304.75 L52.40,305.31 L52.98,305.99 L53.55,306.77 L54.13,307.67 L54.71,308.67 L55.29,309.77 L55.87,310.96 L56.45,312.23 L57.03,313.58 L57.61,315.01 L58.19,316.49 L58.76,318.04 L59.34,319.63 L59.92,321.26 L60.50,322.92 L61.08,324.61 L61.66,326.31 L62.24,328.03 L62.82,329.75 L63.40,331.46 L63.98,333.16 L64.55,334.85 L65.13,336.51 L65.71,338.15 L66.29,339.75 L66.87,341.32 L67.45,342.85 L68.03,344.33 L68.61,345.76 L69.19,347.15 L69.77,348.48 L70.34,349.76 L70.92,350.98 L71.50,352.15 L72.08,353.26 L72.66,354.32 L73.24,355.32 L73.82,356.26 L74.40,357.15 L74.98,357.98 L75.56,358.77 L76.13,359.50 L76.71,360.18 L77.29,360.81 L77.87,361.40 L78.45,361.95 L79.03,362.45 L79.61,362.91 L80.19,363.34 L80.77,363.73 L81.35,364.09 L81.92,364.41 L82.50,364.71 L83.08,364.98 L83.66,365.22 L84.24,365.44 L84.82,365.64 L85.40,365.82 L85.98,365.98 L86.56,366.13 L87.14,366.26 L87.71,366.37 L88.29,366.48 L88.87,366.57 L89.45,366.65 L90.03,366.72 L90.61,366.78 L91.19,366.84 L91.77,366.89 L92.35,366.93 L92.93,366.97 L93.50,367.00 L94.08,367.03 L94.66,367.05 L95.24,367.07 L95.82,367.09 L96.40,367.11 L96.98,367.12 L97.56,367.13 L98.14,367.14 L98.72,367.15 L99.29,367.16 L99.87,367.17 L100.45,367.17 L101.03,367.18 L101.61,367.18 L102.19,367.18 L102.77,367.19 L103.35,367.19 L103.93,367.19 L104.51,367.19 L105.08,367.19 L105.66,367.19 L106.24,367.20 L106.82,367.20 L107.40,367.20 L107.98,367.20" fill="none" stroke="#d8283e" stroke-width="1.0" stroke-linejoin="round" stroke-linecap="round"/>
<circle cx="38.50" cy="303.75" r="1.35" fill="#b4142a" stroke="#5a0a14" stroke-width="0.35"/>
<circle cx="50.08" cy="329.90" r="1.35" fill="#b4142a" stroke="#5a0a14" stroke-width="0.35"/>
<circle cx="61.66" cy="359.03" r="1.35" fill="#b4142a" stroke="#5a0a14" stroke-width="0.35"/>
<circle cx="73.24" cy="367.03" r="1.35" fill="#b4142a" stroke="#5a0a14" stroke-width="0.35"/>
<circle cx="84.82" cy="367.20" r="1.35" fill="#b4142a" stroke="#5a0a14" stroke-width="0.35"/>
<circle cx="96.40" cy="366.78" r="1.35" fill="#b4142a" stroke="#5a0a14" stroke-width="0.35"/>
<circle cx="107.98" cy="367.20" r="1.35" fill="#b4142a" stroke="#5a0a14" stroke-width="0.35"/>
<circle cx="38.50" cy="304.42" r="1.35" fill="#1b3f74" stroke="#0a1a30" stroke-width="0.35"/>
<circle cx="50.08" cy="330.56" r="1.35" fill="#1b3f74" stroke="#0a1a30" stroke-width="0.35"/>
<circle cx="61.66" cy="360.27" r="1.35" fill="#1b3f74" stroke="#0a1a30" stroke-width="0.35"/>
<circle cx="73.24" cy="366.81" r="1.35" fill="#1b3f74" stroke="#0a1a30" stroke-width="0.35"/>
<circle cx="84.82" cy="366.75" r="1.35" fill="#1b3f74" stroke="#0a1a30" stroke-width="0.35"/>
<circle cx="96.40" cy="367.20" r="1.35" fill="#1b3f74" stroke="#0a1a30" stroke-width="0.35"/>
<circle cx="107.98" cy="367.20" r="1.35" fill="#1b3f74" stroke="#0a1a30" stroke-width="0.35"/>
<path d="M36.90,304.72 L40.10,304.72 L38.50,307.60 Z" fill="#1b3f74" stroke="#0a1a30" stroke-width="0.4"/>
<path d="M48.48,313.23 L51.68,313.23 L50.08,316.11 Z" fill="#1b3f74" stroke="#0a1a30" stroke-width="0.4"/>
<path d="M60.06,344.59 L63.26,344.59 L61.66,347.47 Z" fill="#1b3f74" stroke="#0a1a30" stroke-width="0.4"/>
<path d="M71.64,361.10 L74.84,361.10 L73.24,363.98 Z" fill="#1b3f74" stroke="#0a1a30" stroke-width="0.4"/>
<path d="M83.22,365.76 L86.42,365.76 L84.82,368.64 Z" fill="#1b3f74" stroke="#0a1a30" stroke-width="0.4"/>
<path d="M94.80,365.76 L98.00,365.76 L96.40,368.64 Z" fill="#1b3f74" stroke="#0a1a30" stroke-width="0.4"/>
<path d="M106.38,364.87 L109.58,364.87 L107.98,367.75 Z" fill="#1b3f74" stroke="#0a1a30" stroke-width="0.4"/>
<path d="M36.90,320.10 L40.10,320.10 L38.50,322.98 Z" fill="#b4142a" stroke="#5a0a14" stroke-width="0.4"/>
<path d="M48.48,302.93 L51.68,302.93 L50.08,305.81 Z" fill="#b4142a" stroke="#5a0a14" stroke-width="0.4"/>
<path d="M60.06,324.12 L63.26,324.12 L61.66,327.00 Z" fill="#b4142a" stroke="#5a0a14" stroke-width="0.4"/>
<path d="M71.64,353.35 L74.84,353.35 L73.24,356.23 Z" fill="#b4142a" stroke="#5a0a14" stroke-width="0.4"/>
<path d="M83.22,363.96 L86.42,363.96 L84.82,366.84 Z" fill="#b4142a" stroke="#5a0a14" stroke-width="0.4"/>
<path d="M94.80,364.91 L98.00,364.91 L96.40,367.79 Z" fill="#b4142a" stroke="#5a0a14" stroke-width="0.4"/>
<path d="M106.38,365.10 L109.58,365.10 L107.98,367.98 Z" fill="#b4142a" stroke="#5a0a14" stroke-width="0.4"/>
<text x="70.60" y="306.05" font-size="7.0" fill="#222">A<tspan font-size="4.8" dy="1.7">65</tspan><tspan dy="-1.7">-L</tspan><tspan font-size="4.8" dy="1.7">73</tspan><tspan dy="-1.7">+1</tspan></text>
<text x="70.60" y="314.15" font-size="7.0" fill="#222">α<tspan font-size="4.8" dy="1.7">1</tspan><tspan dy="-1.7">-Coil-β</tspan><tspan font-size="4.8" dy="1.7">5</tspan></text>
<line x1="125.10" y1="300.35" x2="125.10" y2="370.40" stroke="#000" stroke-width="1.1"/>
<line x1="124.60" y1="369.90" x2="195.35" y2="369.90" stroke="#000" stroke-width="1.1"/>
<line x1="123.30" y1="367.20" x2="125.10" y2="367.20" stroke="#000" stroke-width="0.7"/>
<text x="122.70" y="369.40" font-size="6.3" text-anchor="end" textLength="8.4" lengthAdjust="spacingAndGlyphs">0.0</text>
<line x1="123.30" y1="354.51" x2="125.10" y2="354.51" stroke="#000" stroke-width="0.7"/>
<text x="122.70" y="356.71" font-size="6.3" text-anchor="end" textLength="8.4" lengthAdjust="spacingAndGlyphs">0.2</text>
<line x1="123.30" y1="341.82" x2="125.10" y2="341.82" stroke="#000" stroke-width="0.7"/>
<text x="122.70" y="344.02" font-size="6.3" text-anchor="end" textLength="8.4" lengthAdjust="spacingAndGlyphs">0.4</text>
<line x1="123.30" y1="329.13" x2="125.10" y2="329.13" stroke="#000" stroke-width="0.7"/>
<text x="122.70" y="331.33" font-size="6.3" text-anchor="end" textLength="8.4" lengthAdjust="spacingAndGlyphs">0.6</text>
<line x1="123.30" y1="316.44" x2="125.10" y2="316.44" stroke="#000" stroke-width="0.7"/>
<text x="122.70" y="318.64" font-size="6.3" text-anchor="end" textLength="8.4" lengthAdjust="spacingAndGlyphs">0.8</text>
<line x1="123.30" y1="303.75" x2="125.10" y2="303.75" stroke="#000" stroke-width="0.7"/>
<text x="122.70" y="305.95" font-size="6.3" text-anchor="end" textLength="8.4" lengthAdjust="spacingAndGlyphs">1.0</text>
<line x1="125.10" y1="369.90" x2="125.10" y2="371.70" stroke="#000" stroke-width="0.7"/>
<line x1="139.03" y1="369.90" x2="139.03" y2="371.70" stroke="#000" stroke-width="0.7"/>
<line x1="152.96" y1="369.90" x2="152.96" y2="371.70" stroke="#000" stroke-width="0.7"/>
<line x1="166.89" y1="369.90" x2="166.89" y2="371.70" stroke="#000" stroke-width="0.7"/>
<line x1="180.82" y1="369.90" x2="180.82" y2="371.70" stroke="#000" stroke-width="0.7"/>
<line x1="194.75" y1="369.90" x2="194.75" y2="371.70" stroke="#000" stroke-width="0.7"/>
<text x="125.10" y="378.00" font-size="6.6" text-anchor="middle">1</text>
<text x="139.03" y="378.00" font-size="6.6" text-anchor="middle">2</text>
<text x="152.96" y="378.00" font-size="6.6" text-anchor="middle">3</text>
<text x="166.89" y="378.00" font-size="6.6" text-anchor="middle">4</text>
<text x="180.82" y="378.00" font-size="6.6" text-anchor="middle">5</text>
<text x="194.75" y="378.00" font-size="6.6" text-anchor="middle">6</text>
<path d="M125.10,306.26 L125.80,307.33 L126.49,308.58 L127.19,309.98 L127.89,311.53 L128.58,313.21 L129.28,315.01 L129.98,316.91 L130.67,318.90 L131.37,320.96 L132.06,323.07 L132.76,325.23 L133.46,327.40 L134.15,329.59 L134.85,331.77 L135.55,333.93 L136.24,336.06 L136.94,338.15 L137.64,340.19 L138.33,342.16 L139.03,344.06 L139.73,345.89 L140.42,347.64 L141.12,349.30 L141.82,350.87 L142.51,352.36 L143.21,353.75 L143.91,355.05 L144.60,356.26 L145.30,357.38 L145.99,358.42 L146.69,359.37 L147.39,360.24 L148.08,361.03 L148.78,361.75 L149.48,362.40 L150.17,362.99 L150.87,363.52 L151.57,363.99 L152.26,364.41 L152.96,364.79 L153.66,365.12 L154.35,365.41 L155.05,365.66 L155.75,365.88 L156.44,366.08 L157.14,366.25 L157.84,366.39 L158.53,366.52 L159.23,366.63 L159.92,366.72 L160.62,366.80 L161.32,366.87 L162.01,366.92 L162.71,366.97 L163.41,367.01 L164.10,367.04 L164.80,367.07 L165.50,367.10 L166.19,367.11 L166.89,367.13 L167.59,367.14 L168.28,367.15 L168.98,367.16 L169.68,367.17 L170.37,367.18 L171.07,367.18 L171.77,367.19 L172.46,367.19 L173.16,367.19 L173.85,367.19 L174.55,367.19 L175.25,367.20 L175.94,367.20 L176.64,367.20 L177.34,367.20 L178.03,367.20 L178.73,367.20 L179.43,367.20 L180.12,367.20 L180.82,367.20 L181.52,367.20 L182.21,367.20 L182.91,367.20 L183.61,367.20 L184.30,367.20 L185.00,367.20 L185.70,367.20 L186.39,367.20 L187.09,367.20 L187.78,367.20 L188.48,367.20 L189.18,367.20 L189.87,367.20 L190.57,367.20 L191.27,367.20 L191.96,367.20 L192.66,367.20 L193.36,367.20 L194.05,367.20 L194.75,367.20" fill="none" stroke="#d8283e" stroke-width="1.0" stroke-linejoin="round" stroke-linecap="round"/>
<path d="M125.10,303.92 L125.80,303.75 L126.49,303.92 L127.19,304.41 L127.89,305.23 L128.58,306.36 L129.28,307.78 L129.98,309.47 L130.67,311.41 L131.37,313.56 L132.06,315.91 L132.76,318.40 L133.46,321.02 L134.15,323.73 L134.85,326.49 L135.55,329.27 L136.24,332.05 L136.94,334.80 L137.64,337.49 L138.33,340.10 L139.03,342.61 L139.73,345.00 L140.42,347.27 L141.12,349.39 L141.82,351.38 L142.51,353.22 L143.21,354.90 L143.91,356.44 L144.60,357.84 L145.30,359.10 L145.99,360.23 L146.69,361.23 L147.39,362.11 L148.08,362.89 L148.78,363.56 L149.48,364.15 L150.17,364.66 L150.87,365.09 L151.57,365.46 L152.26,365.77 L152.96,366.03 L153.66,366.25 L154.35,366.43 L155.05,366.58 L155.75,366.71 L156.44,366.81 L157.14,366.89 L157.84,366.95 L158.53,367.01 L159.23,367.05 L159.92,367.08 L160.62,367.11 L161.32,367.13 L162.01,367.15 L162.71,367.16 L163.41,367.17 L164.10,367.18 L164.80,367.18 L165.50,367.19 L166.19,367.19 L166.89,367.19 L167.59,367.20 L168.28,367.20 L168.98,367.20 L169.68,367.20 L170.37,367.20 L171.07,367.20 L171.77,367.20 L172.46,367.20 L173.16,367.20 L173.85,367.20 L174.55,367.20 L175.25,367.20 L175.94,367.20 L176.64,367.20 L177.34,367.20 L178.03,367.20 L178.73,367.20 L179.43,367.20 L180.12,367.20 L180.82,367.20 L181.52,367.20 L182.21,367.20 L182.91,367.20 L183.61,367.20 L184.30,367.20 L185.00,367.20 L185.70,367.20 L186.39,367.20 L187.09,367.20 L187.78,367.20 L188.48,367.20 L189.18,367.20 L189.87,367.20 L190.57,367.20 L191.27,367.20 L191.96,367.20 L192.66,367.20 L193.36,367.20 L194.05,367.20 L194.75,367.20" fill="none" stroke="#2b6cab" stroke-width="1.0" stroke-linejoin="round" stroke-linecap="round"/>
<path d="M125.10,303.87 L125.80,303.75 L126.49,303.87 L127.19,304.22 L127.89,304.80 L128.58,305.61 L129.28,306.63 L129.98,307.86 L130.67,309.27 L131.37,310.87 L132.06,312.62 L132.76,314.51 L133.46,316.53 L134.15,318.65 L134.85,320.86 L135.55,323.13 L136.24,325.44 L136.94,327.78 L137.64,330.12 L138.33,332.46 L139.03,334.77 L139.73,337.04 L140.42,339.25 L141.12,341.40 L141.82,343.47 L142.51,345.45 L143.21,347.35 L143.91,349.14 L144.60,350.84 L145.30,352.43 L145.99,353.91 L146.69,355.29 L147.39,356.57 L148.08,357.74 L148.78,358.82 L149.48,359.80 L150.17,360.69 L150.87,361.50 L151.57,362.22 L152.26,362.87 L152.96,363.45 L153.66,363.96 L154.35,364.41 L155.05,364.81 L155.75,365.16 L156.44,365.46 L157.14,365.73 L157.84,365.96 L158.53,366.16 L159.23,366.32 L159.92,366.47 L160.62,366.59 L161.32,366.70 L162.01,366.78 L162.71,366.86 L163.41,366.92 L164.10,366.97 L164.80,367.01 L165.50,367.05 L166.19,367.08 L166.89,367.10 L167.59,367.12 L168.28,367.14 L168.98,367.15 L169.68,367.16 L170.37,367.17 L171.07,367.18 L171.77,367.18 L172.46,367.18 L173.16,367.19 L173.85,367.19 L174.55,367.19 L175.25,367.19 L175.94,367.20 L176.64,367.20 L177.34,367.20 L178.03,367.20 L178.73,367.20 L179.43,367.20 L180.12,367.20 L180.82,367.20 L181.52,367.20 L182.21,367.20 L182.91,367.20 L183.61,367.20 L184.30,367.20 L185.00,367.20 L185.70,367.20 L186.39,367.20 L187.09,367.20 L187.78,367.20 L188.48,367.20 L189.18,367.20 L189.87,367.20 L190.57,367.20 L191.27,367.20 L191.96,367.20 L192.66,367.20 L193.36,367.20 L194.05,367.20 L194.75,367.20" fill="none" stroke="#2b6cab" stroke-width="1.0" stroke-linejoin="round" stroke-linecap="round"/>
<path d="M125.10,326.08 L125.80,324.21 L126.49,322.36 L127.19,320.55 L127.89,318.78 L128.58,317.06 L129.28,315.41 L129.98,313.83 L130.67,312.34 L131.37,310.93 L132.06,309.63 L132.76,308.45 L133.46,307.38 L134.15,306.44 L134.85,305.63 L135.55,304.96 L136.24,304.43 L136.94,304.05 L137.64,303.83 L138.33,303.75 L139.03,303.82 L139.73,304.01 L140.42,304.34 L141.12,304.79 L141.82,305.37 L142.51,306.07 L143.21,306.88 L143.91,307.81 L144.60,308.84 L145.30,309.98 L145.99,311.21 L146.69,312.52 L147.39,313.91 L148.08,315.38 L148.78,316.91 L149.48,318.49 L150.17,320.13 L150.87,321.80 L151.57,323.50 L152.26,325.23 L152.96,326.97 L153.66,328.72 L154.35,330.46 L155.05,332.20 L155.75,333.93 L156.44,335.64 L157.14,337.32 L157.84,338.97 L158.53,340.59 L159.23,342.16 L159.92,343.69 L160.62,345.17 L161.32,346.60 L162.01,347.98 L162.71,349.30 L163.41,350.57 L164.10,351.77 L164.80,352.92 L165.50,354.02 L166.19,355.05 L166.89,356.02 L167.59,356.94 L168.28,357.81 L168.98,358.61 L169.68,359.37 L170.37,360.07 L171.07,360.72 L171.77,361.33 L172.46,361.89 L173.16,362.40 L173.85,362.88 L174.55,363.32 L175.25,363.72 L175.94,364.08 L176.64,364.41 L177.34,364.71 L178.03,364.99 L178.73,365.24 L179.43,365.46 L180.12,365.66 L180.82,365.84 L181.52,366.00 L182.21,366.15 L182.91,366.28 L183.61,366.39 L184.30,366.50 L185.00,366.59 L185.70,366.67 L186.39,366.74 L187.09,366.80 L187.78,366.85 L188.48,366.90 L189.18,366.94 L189.87,366.98 L190.57,367.01 L191.27,367.04 L191.96,367.06 L192.66,367.08 L193.36,367.10 L194.05,367.11 L194.75,367.13" fill="none" stroke="#d8283e" stroke-width="1.0" stroke-linejoin="round" stroke-linecap="round"/>
<circle cx="125.10" cy="305.89" r="1.35" fill="#b4142a" stroke="#5a0a14" stroke-width="0.35"/>
<circle cx="139.03" cy="344.86" r="1.35" fill="#b4142a" stroke="#5a0a14" stroke-width="0.35"/>
<circle cx="152.96" cy="363.96" r="1.35" fill="#b4142a" stroke="#5a0a14" stroke-width="0.35"/>
<circle cx="166.89" cy="367.01" r="1.35" fill="#b4142a" stroke="#5a0a14" stroke-width="0.35"/>
<circle cx="180.82" cy="367.20" r="1.35" fill="#b4142a" stroke="#5a0a14" stroke-width="0.35"/>
<circle cx="194.75" cy="367.20" r="1.35" fill="#b4142a" stroke="#5a0a14" stroke-width="0.35"/>
<circle cx="125.10" cy="303.75" r="1.35" fill="#1b3f74" stroke="#0a1a30" stroke-width="0.35"/>
<circle cx="139.03" cy="342.13" r="1.35" fill="#1b3f74" stroke="#0a1a30" stroke-width="0.35"/>
<circle cx="152.96" cy="366.65" r="1.35" fill="#1b3f74" stroke="#0a1a30" stroke-width="0.35"/>
<circle cx="166.89" cy="366.67" r="1.35" fill="#1b3f74" stroke="#0a1a30" stroke-width="0.35"/>
<circle cx="180.82" cy="366.80" r="1.35" fill="#1b3f74" stroke="#0a1a30" stroke-width="0.35"/>
<circle cx="194.75" cy="367.20" r="1.35" fill="#1b3f74" stroke="#0a1a30" stroke-width="0.35"/>
<path d="M123.50,302.31 L126.70,302.31 L125.10,305.19 Z" fill="#1b3f74" stroke="#0a1a30" stroke-width="0.4"/>
<path d="M137.43,333.36 L140.63,333.36 L139.03,336.24 Z" fill="#1b3f74" stroke="#0a1a30" stroke-width="0.4"/>
<path d="M151.36,361.74 L154.56,361.74 L152.96,364.62 Z" fill="#1b3f74" stroke="#0a1a30" stroke-width="0.4"/>
<path d="M165.29,365.33 L168.49,365.33 L166.89,368.21 Z" fill="#1b3f74" stroke="#0a1a30" stroke-width="0.4"/>
<path d="M179.22,365.11 L182.42,365.11 L180.82,367.99 Z" fill="#1b3f74" stroke="#0a1a30" stroke-width="0.4"/>
<path d="M193.15,365.76 L196.35,365.76 L194.75,368.64 Z" fill="#1b3f74" stroke="#0a1a30" stroke-width="0.4"/>
<path d="M123.50,324.90 L126.70,324.90 L125.10,327.78 Z" fill="#b4142a" stroke="#5a0a14" stroke-width="0.4"/>
<path d="M137.43,303.02 L140.63,303.02 L139.03,305.90 Z" fill="#b4142a" stroke="#5a0a14" stroke-width="0.4"/>
<path d="M151.36,324.76 L154.56,324.76 L152.96,327.64 Z" fill="#b4142a" stroke="#5a0a14" stroke-width="0.4"/>
<path d="M165.29,354.22 L168.49,354.22 L166.89,357.10 Z" fill="#b4142a" stroke="#5a0a14" stroke-width="0.4"/>
<path d="M179.22,364.73 L182.42,364.73 L180.82,367.61 Z" fill="#b4142a" stroke="#5a0a14" stroke-width="0.4"/>
<path d="M193.15,364.74 L196.35,364.74 L194.75,367.62 Z" fill="#b4142a" stroke="#5a0a14" stroke-width="0.4"/>
<text x="158.70" y="306.05" font-size="7.0" fill="#222">L<tspan font-size="4.8" dy="1.7">36</tspan><tspan dy="-1.7">-V</tspan><tspan font-size="4.8" dy="1.7">64</tspan><tspan dy="-1.7">+1</tspan></text>
<text x="158.70" y="314.15" font-size="7.0" fill="#222">β<tspan font-size="4.8" dy="1.7">6</tspan><tspan dy="-1.7">-Coil-β</tspan><tspan font-size="4.8" dy="1.7">7</tspan></text>
<line x1="212.90" y1="300.35" x2="212.90" y2="370.40" stroke="#000" stroke-width="1.1"/>
<line x1="212.40" y1="369.90" x2="281.90" y2="369.90" stroke="#000" stroke-width="1.1"/>
<line x1="211.10" y1="367.20" x2="212.90" y2="367.20" stroke="#000" stroke-width="0.7"/>
<text x="210.50" y="369.40" font-size="6.3" text-anchor="end" textLength="8.4" lengthAdjust="spacingAndGlyphs">0.0</text>
<line x1="211.10" y1="354.51" x2="212.90" y2="354.51" stroke="#000" stroke-width="0.7"/>
<text x="210.50" y="356.71" font-size="6.3" text-anchor="end" textLength="8.4" lengthAdjust="spacingAndGlyphs">0.2</text>
<line x1="211.10" y1="341.82" x2="212.90" y2="341.82" stroke="#000" stroke-width="0.7"/>
<text x="210.50" y="344.02" font-size="6.3" text-anchor="end" textLength="8.4" lengthAdjust="spacingAndGlyphs">0.4</text>
<line x1="211.10" y1="329.13" x2="212.90" y2="329.13" stroke="#000" stroke-width="0.7"/>
<text x="210.50" y="331.33" font-size="6.3" text-anchor="end" textLength="8.4" lengthAdjust="spacingAndGlyphs">0.6</text>
<line x1="211.10" y1="316.44" x2="212.90" y2="316.44" stroke="#000" stroke-width="0.7"/>
<text x="210.50" y="318.64" font-size="6.3" text-anchor="end" textLength="8.4" lengthAdjust="spacingAndGlyphs">0.8</text>
<line x1="211.10" y1="303.75" x2="212.90" y2="303.75" stroke="#000" stroke-width="0.7"/>
<text x="210.50" y="305.95" font-size="6.3" text-anchor="end" textLength="8.4" lengthAdjust="spacingAndGlyphs">1.0</text>
<line x1="212.90" y1="369.90" x2="212.90" y2="371.70" stroke="#000" stroke-width="0.7"/>
<line x1="221.45" y1="369.90" x2="221.45" y2="371.70" stroke="#000" stroke-width="0.7"/>
<line x1="230.00" y1="369.90" x2="230.00" y2="371.70" stroke="#000" stroke-width="0.7"/>
<line x1="238.55" y1="369.90" x2="238.55" y2="371.70" stroke="#000" stroke-width="0.7"/>
<line x1="247.10" y1="369.90" x2="247.10" y2="371.70" stroke="#000" stroke-width="0.7"/>
<line x1="255.65" y1="369.90" x2="255.65" y2="371.70" stroke="#000" stroke-width="0.7"/>
<line x1="264.20" y1="369.90" x2="264.20" y2="371.70" stroke="#000" stroke-width="0.7"/>
<line x1="272.75" y1="369.90" x2="272.75" y2="371.70" stroke="#000" stroke-width="0.7"/>
<line x1="281.30" y1="369.90" x2="281.30" y2="371.70" stroke="#000" stroke-width="0.7"/>
<text x="221.45" y="378.00" font-size="6.6" text-anchor="middle">2</text>
<text x="238.55" y="378.00" font-size="6.6" text-anchor="middle">4</text>
<text x="255.65" y="378.00" font-size="6.6" text-anchor="middle">6</text>
<text x="272.75" y="378.00" font-size="6.6" text-anchor="middle">8</text>
<path d="M212.90,304.44 L213.33,304.14 L213.75,303.92 L214.18,303.79 L214.61,303.75 L215.04,303.79 L215.47,303.92 L215.89,304.14 L216.32,304.44 L216.75,304.83 L217.18,305.30 L217.60,305.85 L218.03,306.47 L218.46,307.18 L218.89,307.96 L219.31,308.80 L219.74,309.72 L220.17,310.69 L220.60,311.73 L221.02,312.82 L221.45,313.97 L221.88,315.16 L222.31,316.39 L222.73,317.67 L223.16,318.97 L223.59,320.31 L224.02,321.67 L224.44,323.06 L224.87,324.46 L225.30,325.87 L225.72,327.29 L226.15,328.72 L226.58,330.14 L227.01,331.56 L227.44,332.97 L227.86,334.38 L228.29,335.77 L228.72,337.14 L229.14,338.49 L229.57,339.81 L230.00,341.11 L230.43,342.39 L230.85,343.63 L231.28,344.85 L231.71,346.02 L232.14,347.17 L232.56,348.28 L232.99,349.35 L233.42,350.38 L233.85,351.38 L234.27,352.34 L234.70,353.25 L235.13,354.13 L235.56,354.98 L235.98,355.78 L236.41,356.54 L236.84,357.27 L237.27,357.96 L237.69,358.61 L238.12,359.23 L238.55,359.82 L238.98,360.37 L239.40,360.88 L239.83,361.37 L240.26,361.83 L240.69,362.26 L241.11,362.66 L241.54,363.03 L241.97,363.38 L242.40,363.70 L242.82,364.00 L243.25,364.28 L243.68,364.54 L244.11,364.78 L244.53,365.00 L244.96,365.20 L245.39,365.39 L245.82,365.56 L246.24,365.72 L246.67,365.86 L247.10,365.99 L247.53,366.11 L247.95,366.22 L248.38,366.32 L248.81,366.41 L249.24,366.50 L249.66,366.57 L250.09,366.64 L250.52,366.70 L250.95,366.75 L251.37,366.80 L251.80,366.85 L252.23,366.89 L252.66,366.92 L253.08,366.95 L253.51,366.98 L253.94,367.01 L254.37,367.03 L254.79,367.05 L255.22,367.07 L255.65,367.09 L256.08,367.10 L256.50,367.11 L256.93,367.12 L257.36,367.13 L257.79,367.14 L258.21,367.15 L258.64,367.16 L259.07,367.16 L259.50,367.17 L259.92,367.17 L260.35,367.18 L260.78,367.18 L261.21,367.18 L261.63,367.18 L262.06,367.19 L262.49,367.19 L262.92,367.19 L263.34,367.19 L263.77,367.19 L264.20,367.19 L264.63,367.19 L265.05,367.20 L265.48,367.20 L265.91,367.20 L266.34,367.20 L266.76,367.20 L267.19,367.20 L267.62,367.20 L268.05,367.20 L268.47,367.20 L268.90,367.20 L269.33,367.20 L269.76,367.20 L270.18,367.20 L270.61,367.20 L271.04,367.20 L271.47,367.20 L271.89,367.20 L272.32,367.20 L272.75,367.20 L273.18,367.20 L273.60,367.20 L274.03,367.20 L274.46,367.20 L274.89,367.20 L275.31,367.20 L275.74,367.20 L276.17,367.20 L276.60,367.20 L277.02,367.20 L277.45,367.20 L277.88,367.20 L278.31,367.20 L278.73,367.20 L279.16,367.20 L279.59,367.20 L280.02,367.20 L280.44,367.20 L280.87,367.20 L281.30,367.20" fill="none" stroke="#d8283e" stroke-width="1.0" stroke-linejoin="round" stroke-linecap="round"/>
<path d="M212.90,335.03 L213.33,333.61 L213.75,332.18 L214.18,330.74 L214.61,329.29 L215.04,327.85 L215.47,326.40 L215.89,324.97 L216.32,323.54 L216.75,322.13 L217.18,320.74 L217.60,319.37 L218.03,318.04 L218.46,316.73 L218.89,315.47 L219.31,314.25 L219.74,313.08 L220.17,311.96 L220.60,310.89 L221.02,309.89 L221.45,308.95 L221.88,308.08 L222.31,307.28 L222.73,306.56 L223.16,305.91 L223.59,305.34 L224.02,304.86 L224.44,304.46 L224.87,304.15 L225.30,303.93 L225.72,303.79 L226.15,303.75 L226.58,303.80 L227.01,303.94 L227.44,304.17 L227.86,304.50 L228.29,304.91 L228.72,305.42 L229.14,306.01 L229.57,306.68 L230.00,307.44 L230.43,308.27 L230.85,309.18 L231.28,310.16 L231.71,311.21 L232.14,312.31 L232.56,313.48 L232.99,314.70 L233.42,315.96 L233.85,317.27 L234.27,318.62 L234.70,320.00 L235.13,321.41 L235.56,322.84 L235.98,324.30 L236.41,325.76 L236.84,327.24 L237.27,328.72 L237.69,330.20 L238.12,331.67 L238.55,333.14 L238.98,334.59 L239.40,336.03 L239.83,337.45 L240.26,338.85 L240.69,340.22 L241.11,341.56 L241.54,342.87 L241.97,344.15 L242.40,345.39 L242.82,346.60 L243.25,347.77 L243.68,348.90 L244.11,349.99 L244.53,351.04 L244.96,352.05 L245.39,353.01 L245.82,353.93 L246.24,354.82 L246.67,355.66 L247.10,356.46 L247.53,357.21 L247.95,357.93 L248.38,358.61 L248.81,359.25 L249.24,359.86 L249.66,360.43 L250.09,360.96 L250.52,361.46 L250.95,361.93 L251.37,362.37 L251.80,362.77 L252.23,363.15 L252.66,363.50 L253.08,363.83 L253.51,364.13 L253.94,364.41 L254.37,364.67 L254.79,364.91 L255.22,365.12 L255.65,365.32 L256.08,365.51 L256.50,365.68 L256.93,365.83 L257.36,365.97 L257.79,366.09 L258.21,366.21 L258.64,366.31 L259.07,366.41 L259.50,366.50 L259.92,366.57 L260.35,366.64 L260.78,366.70 L261.21,366.76 L261.63,366.81 L262.06,366.86 L262.49,366.90 L262.92,366.93 L263.34,366.96 L263.77,366.99 L264.20,367.02 L264.63,367.04 L265.05,367.06 L265.48,367.08 L265.91,367.09 L266.34,367.11 L266.76,367.12 L267.19,367.13 L267.62,367.14 L268.05,367.15 L268.47,367.15 L268.90,367.16 L269.33,367.17 L269.76,367.17 L270.18,367.18 L270.61,367.18 L271.04,367.18 L271.47,367.18 L271.89,367.19 L272.32,367.19 L272.75,367.19 L273.18,367.19 L273.60,367.19 L274.03,367.19 L274.46,367.19 L274.89,367.20 L275.31,367.20 L275.74,367.20 L276.17,367.20 L276.60,367.20 L277.02,367.20 L277.45,367.20 L277.88,367.20 L278.31,367.20 L278.73,367.20 L279.16,367.20 L279.59,367.20 L280.02,367.20 L280.44,367.20 L280.87,367.20 L281.30,367.20" fill="none" stroke="#2b6cab" stroke-width="1.0" stroke-linejoin="round" stroke-linecap="round"/>
<path d="M212.90,358.03 L213.33,357.41 L213.75,356.76 L214.18,356.09 L214.61,355.38 L215.04,354.64 L215.47,353.87 L215.89,353.07 L216.32,352.24 L216.75,351.38 L217.18,350.48 L217.60,349.56 L218.03,348.60 L218.46,347.62 L218.89,346.60 L219.31,345.56 L219.74,344.48 L220.17,343.39 L220.60,342.26 L221.02,341.11 L221.45,339.94 L221.88,338.75 L222.31,337.54 L222.73,336.32 L223.16,335.07 L223.59,333.82 L224.02,332.55 L224.44,331.28 L224.87,330.00 L225.30,328.72 L225.72,327.43 L226.15,326.15 L226.58,324.88 L227.01,323.62 L227.44,322.36 L227.86,321.13 L228.29,319.91 L228.72,318.71 L229.14,317.54 L229.57,316.39 L230.00,315.28 L230.43,314.20 L230.85,313.16 L231.28,312.16 L231.71,311.21 L232.14,310.30 L232.56,309.44 L232.99,308.63 L233.42,307.88 L233.85,307.18 L234.27,306.54 L234.70,305.97 L235.13,305.45 L235.56,305.01 L235.98,304.63 L236.41,304.31 L236.84,304.07 L237.27,303.89 L237.69,303.79 L238.12,303.75 L238.55,303.79 L238.98,303.89 L239.40,304.07 L239.83,304.31 L240.26,304.63 L240.69,305.01 L241.11,305.45 L241.54,305.97 L241.97,306.54 L242.40,307.18 L242.82,307.88 L243.25,308.63 L243.68,309.44 L244.11,310.30 L244.53,311.21 L244.96,312.16 L245.39,313.16 L245.82,314.20 L246.24,315.28 L246.67,316.39 L247.10,317.54 L247.53,318.71 L247.95,319.91 L248.38,321.13 L248.81,322.36 L249.24,323.62 L249.66,324.88 L250.09,326.15 L250.52,327.43 L250.95,328.72 L251.37,330.00 L251.80,331.28 L252.23,332.55 L252.66,333.82 L253.08,335.07 L253.51,336.32 L253.94,337.54 L254.37,338.75 L254.79,339.94 L255.22,341.11 L255.65,342.26 L256.08,343.39 L256.50,344.48 L256.93,345.56 L257.36,346.60 L257.79,347.62 L258.21,348.60 L258.64,349.56 L259.07,350.48 L259.50,351.38 L259.92,352.24 L260.35,353.07 L260.78,353.87 L261.21,354.64 L261.63,355.38 L262.06,356.09 L262.49,356.76 L262.92,357.41 L263.34,358.03 L263.77,358.61 L264.20,359.17 L264.63,359.70 L265.05,360.20 L265.48,360.68 L265.91,361.13 L266.34,361.56 L266.76,361.96 L267.19,362.34 L267.62,362.69 L268.05,363.03 L268.47,363.34 L268.90,363.64 L269.33,363.91 L269.76,364.17 L270.18,364.41 L270.61,364.64 L271.04,364.85 L271.47,365.04 L271.89,365.22 L272.32,365.39 L272.75,365.54 L273.18,365.69 L273.60,365.82 L274.03,365.94 L274.46,366.05 L274.89,366.16 L275.31,366.25 L275.74,366.34 L276.17,366.42 L276.60,366.50 L277.02,366.56 L277.45,366.62 L277.88,366.68 L278.31,366.73 L278.73,366.78 L279.16,366.82 L279.59,366.86 L280.02,366.89 L280.44,366.93 L280.87,366.95 L281.30,366.98" fill="none" stroke="#d8283e" stroke-width="1.0" stroke-linejoin="round" stroke-linecap="round"/>
<circle cx="212.90" cy="303.75" r="1.35" fill="#1b3f74" stroke="#0a1a30" stroke-width="0.35"/>
<circle cx="221.45" cy="314.26" r="1.35" fill="#1b3f74" stroke="#0a1a30" stroke-width="0.35"/>
<circle cx="230.00" cy="340.23" r="1.35" fill="#1b3f74" stroke="#0a1a30" stroke-width="0.35"/>
<circle cx="238.55" cy="359.74" r="1.35" fill="#1b3f74" stroke="#0a1a30" stroke-width="0.35"/>
<circle cx="247.10" cy="365.13" r="1.35" fill="#1b3f74" stroke="#0a1a30" stroke-width="0.35"/>
<circle cx="255.65" cy="366.45" r="1.35" fill="#1b3f74" stroke="#0a1a30" stroke-width="0.35"/>
<circle cx="264.20" cy="367.20" r="1.35" fill="#1b3f74" stroke="#0a1a30" stroke-width="0.35"/>
<circle cx="272.75" cy="366.48" r="1.35" fill="#1b3f74" stroke="#0a1a30" stroke-width="0.35"/>
<circle cx="281.30" cy="367.20" r="1.35" fill="#1b3f74" stroke="#0a1a30" stroke-width="0.35"/>
<circle cx="212.90" cy="304.44" r="1.35" fill="#b4142a" stroke="#5a0a14" stroke-width="0.35"/>
<circle cx="221.45" cy="314.88" r="1.35" fill="#b4142a" stroke="#5a0a14" stroke-width="0.35"/>
<circle cx="230.00" cy="340.67" r="1.35" fill="#b4142a" stroke="#5a0a14" stroke-width="0.35"/>
<circle cx="238.55" cy="359.07" r="1.35" fill="#b4142a" stroke="#5a0a14" stroke-width="0.35"/>
<circle cx="247.10" cy="366.83" r="1.35" fill="#b4142a" stroke="#5a0a14" stroke-width="0.35"/>
<circle cx="255.65" cy="367.20" r="1.35" fill="#b4142a" stroke="#5a0a14" stroke-width="0.35"/>
<circle cx="264.20" cy="367.20" r="1.35" fill="#b4142a" stroke="#5a0a14" stroke-width="0.35"/>
<circle cx="272.75" cy="367.20" r="1.35" fill="#b4142a" stroke="#5a0a14" stroke-width="0.35"/>
<circle cx="281.30" cy="367.20" r="1.35" fill="#b4142a" stroke="#5a0a14" stroke-width="0.35"/>
<path d="M211.30,332.66 L214.50,332.66 L212.90,335.54 Z" fill="#1b3f74" stroke="#0a1a30" stroke-width="0.4"/>
<path d="M219.85,308.04 L223.05,308.04 L221.45,310.92 Z" fill="#1b3f74" stroke="#0a1a30" stroke-width="0.4"/>
<path d="M228.40,305.85 L231.60,305.85 L230.00,308.73 Z" fill="#1b3f74" stroke="#0a1a30" stroke-width="0.4"/>
<path d="M236.95,332.53 L240.15,332.53 L238.55,335.41 Z" fill="#1b3f74" stroke="#0a1a30" stroke-width="0.4"/>
<path d="M245.50,355.57 L248.70,355.57 L247.10,358.45 Z" fill="#1b3f74" stroke="#0a1a30" stroke-width="0.4"/>
<path d="M254.05,363.92 L257.25,363.92 L255.65,366.80 Z" fill="#1b3f74" stroke="#0a1a30" stroke-width="0.4"/>
<path d="M262.60,364.66 L265.80,364.66 L264.20,367.54 Z" fill="#1b3f74" stroke="#0a1a30" stroke-width="0.4"/>
<path d="M271.15,365.75 L274.35,365.75 L272.75,368.63 Z" fill="#1b3f74" stroke="#0a1a30" stroke-width="0.4"/>
<path d="M279.70,365.43 L282.90,365.43 L281.30,368.31 Z" fill="#1b3f74" stroke="#0a1a30" stroke-width="0.4"/>
<path d="M211.30,360.05 L214.50,360.05 L212.90,362.93 Z" fill="#b4142a" stroke="#5a0a14" stroke-width="0.4"/>
<path d="M219.85,338.33 L223.05,338.33 L221.45,341.21 Z" fill="#b4142a" stroke="#5a0a14" stroke-width="0.4"/>
<path d="M228.40,314.41 L231.60,314.41 L230.00,317.29 Z" fill="#b4142a" stroke="#5a0a14" stroke-width="0.4"/>
<path d="M236.95,302.61 L240.15,302.61 L238.55,305.49 Z" fill="#b4142a" stroke="#5a0a14" stroke-width="0.4"/>
<path d="M245.50,316.77 L248.70,316.77 L247.10,319.65 Z" fill="#b4142a" stroke="#5a0a14" stroke-width="0.4"/>
<path d="M254.05,340.46 L257.25,340.46 L255.65,343.34 Z" fill="#b4142a" stroke="#5a0a14" stroke-width="0.4"/>
<path d="M262.60,358.08 L265.80,358.08 L264.20,360.96 Z" fill="#b4142a" stroke="#5a0a14" stroke-width="0.4"/>
<path d="M271.15,364.77 L274.35,364.77 L272.75,367.65 Z" fill="#b4142a" stroke="#5a0a14" stroke-width="0.4"/>
<path d="M279.70,365.76 L282.90,365.76 L281.30,368.64 Z" fill="#b4142a" stroke="#5a0a14" stroke-width="0.4"/>
<text x="249.50" y="306.05" font-size="7.0" fill="#222">T<tspan font-size="4.8" dy="1.7">129</tspan><tspan dy="-1.7">-E</tspan><tspan font-size="4.8" dy="1.7">144</tspan><tspan dy="-1.7">+2</tspan></text>
<text x="249.50" y="314.15" font-size="7.0" fill="#222">β<tspan font-size="4.8" dy="1.7">8</tspan><tspan dy="-1.7">-Coil-β</tspan><tspan font-size="4.8" dy="1.7">9</tspan></text>
<line x1="300.40" y1="300.35" x2="300.40" y2="370.40" stroke="#000" stroke-width="1.1"/>
<line x1="299.90" y1="369.90" x2="370.30" y2="369.90" stroke="#000" stroke-width="1.1"/>
<line x1="298.60" y1="367.20" x2="300.40" y2="367.20" stroke="#000" stroke-width="0.7"/>
<text x="298.00" y="369.40" font-size="6.3" text-anchor="end" textLength="8.4" lengthAdjust="spacingAndGlyphs">0.0</text>
<line x1="298.60" y1="354.51" x2="300.40" y2="354.51" stroke="#000" stroke-width="0.7"/>
<text x="298.00" y="356.71" font-size="6.3" text-anchor="end" textLength="8.4" lengthAdjust="spacingAndGlyphs">0.2</text>
<line x1="298.60" y1="341.82" x2="300.40" y2="341.82" stroke="#000" stroke-width="0.7"/>
<text x="298.00" y="344.02" font-size="6.3" text-anchor="end" textLength="8.4" lengthAdjust="spacingAndGlyphs">0.4</text>
<line x1="298.60" y1="329.13" x2="300.40" y2="329.13" stroke="#000" stroke-width="0.7"/>
<text x="298.00" y="331.33" font-size="6.3" text-anchor="end" textLength="8.4" lengthAdjust="spacingAndGlyphs">0.6</text>
<line x1="298.60" y1="316.44" x2="300.40" y2="316.44" stroke="#000" stroke-width="0.7"/>
<text x="298.00" y="318.64" font-size="6.3" text-anchor="end" textLength="8.4" lengthAdjust="spacingAndGlyphs">0.8</text>
<line x1="298.60" y1="303.75" x2="300.40" y2="303.75" stroke="#000" stroke-width="0.7"/>
<text x="298.00" y="305.95" font-size="6.3" text-anchor="end" textLength="8.4" lengthAdjust="spacingAndGlyphs">1.0</text>
<line x1="300.40" y1="369.90" x2="300.40" y2="371.70" stroke="#000" stroke-width="0.7"/>
<line x1="310.30" y1="369.90" x2="310.30" y2="371.70" stroke="#000" stroke-width="0.7"/>
<line x1="320.20" y1="369.90" x2="320.20" y2="371.70" stroke="#000" stroke-width="0.7"/>
<line x1="330.10" y1="369.90" x2="330.10" y2="371.70" stroke="#000" stroke-width="0.7"/>
<line x1="340.00" y1="369.90" x2="340.00" y2="371.70" stroke="#000" stroke-width="0.7"/>
<line x1="349.90" y1="369.90" x2="349.90" y2="371.70" stroke="#000" stroke-width="0.7"/>
<line x1="359.80" y1="369.90" x2="359.80" y2="371.70" stroke="#000" stroke-width="0.7"/>
<line x1="369.70" y1="369.90" x2="369.70" y2="371.70" stroke="#000" stroke-width="0.7"/>
<text x="310.30" y="378.00" font-size="6.6" text-anchor="middle">2</text>
<text x="330.10" y="378.00" font-size="6.6" text-anchor="middle">4</text>
<text x="349.90" y="378.00" font-size="6.6" text-anchor="middle">6</text>
<text x="369.70" y="378.00" font-size="6.6" text-anchor="middle">8</text>
<path d="M300.40,303.75 L300.89,303.79 L301.39,303.93 L301.88,304.15 L302.38,304.45 L302.88,304.84 L303.37,305.32 L303.87,305.88 L304.36,306.51 L304.85,307.23 L305.35,308.02 L305.84,308.88 L306.34,309.80 L306.83,310.79 L307.33,311.84 L307.82,312.95 L308.32,314.11 L308.81,315.31 L309.31,316.56 L309.81,317.85 L310.30,319.17 L310.79,320.52 L311.29,321.90 L311.78,323.30 L312.28,324.71 L312.77,326.13 L313.27,327.57 L313.76,329.00 L314.26,330.44 L314.75,331.87 L315.25,333.29 L315.74,334.70 L316.24,336.09 L316.73,337.47 L317.23,338.83 L317.72,340.16 L318.22,341.46 L318.71,342.74 L319.21,343.98 L319.70,345.19 L320.20,346.37 L320.69,347.51 L321.19,348.62 L321.68,349.68 L322.18,350.71 L322.67,351.70 L323.17,352.66 L323.66,353.57 L324.16,354.44 L324.65,355.27 L325.15,356.07 L325.64,356.82 L326.14,357.54 L326.63,358.22 L327.13,358.87 L327.62,359.48 L328.12,360.05 L328.61,360.59 L329.11,361.10 L329.60,361.58 L330.10,362.02 L330.59,362.44 L331.09,362.83 L331.58,363.20 L332.08,363.53 L332.57,363.85 L333.07,364.14 L333.56,364.41 L334.06,364.66 L334.55,364.89 L335.05,365.11 L335.54,365.30 L336.04,365.48 L336.53,365.65 L337.03,365.80 L337.52,365.94 L338.02,366.06 L338.51,366.18 L339.01,366.28 L339.50,366.38 L340.00,366.46 L340.49,366.54 L340.99,366.61 L341.48,366.68 L341.98,366.73 L342.47,366.78 L342.97,366.83 L343.46,366.87 L343.96,366.91 L344.45,366.94 L344.95,366.97 L345.44,367.00 L345.94,367.02 L346.43,367.05 L346.93,367.06 L347.42,367.08 L347.92,367.10 L348.41,367.11 L348.91,367.12 L349.40,367.13 L349.90,367.14 L350.39,367.15 L350.89,367.15 L351.38,367.16 L351.88,367.17 L352.37,367.17 L352.87,367.17 L353.36,367.18 L353.86,367.18 L354.35,367.18 L354.85,367.19 L355.34,367.19 L355.84,367.19 L356.33,367.19 L356.83,367.19 L357.32,367.19 L357.82,367.19 L358.31,367.20 L358.81,367.20 L359.30,367.20 L359.80,367.20 L360.29,367.20 L360.79,367.20 L361.28,367.20 L361.78,367.20 L362.27,367.20 L362.77,367.20 L363.26,367.20 L363.76,367.20 L364.25,367.20 L364.75,367.20 L365.24,367.20 L365.74,367.20 L366.23,367.20 L366.73,367.20 L367.22,367.20 L367.72,367.20 L368.21,367.20 L368.71,367.20 L369.20,367.20 L369.70,367.20" fill="none" stroke="#d8283e" stroke-width="1.0" stroke-linejoin="round" stroke-linecap="round"/>
<path d="M300.40,303.92 L300.89,303.79 L301.39,303.75 L301.88,303.79 L302.38,303.92 L302.88,304.12 L303.37,304.41 L303.87,304.78 L304.36,305.23 L304.85,305.76 L305.35,306.36 L305.84,307.04 L306.34,307.78 L306.83,308.59 L307.33,309.47 L307.82,310.41 L308.32,311.41 L308.81,312.46 L309.31,313.56 L309.81,314.71 L310.30,315.91 L310.79,317.14 L311.29,318.40 L311.78,319.70 L312.28,321.02 L312.77,322.36 L313.27,323.73 L313.76,325.10 L314.26,326.49 L314.75,327.88 L315.25,329.27 L315.74,330.67 L316.24,332.05 L316.73,333.43 L317.23,334.80 L317.72,336.15 L318.22,337.49 L318.71,338.81 L319.21,340.10 L319.70,341.37 L320.20,342.61 L320.69,343.82 L321.19,345.00 L321.68,346.15 L322.18,347.27 L322.67,348.35 L323.17,349.39 L323.66,350.40 L324.16,351.38 L324.65,352.32 L325.15,353.22 L325.64,354.08 L326.14,354.90 L326.63,355.69 L327.13,356.44 L327.62,357.16 L328.12,357.84 L328.61,358.49 L329.11,359.10 L329.60,359.68 L330.10,360.23 L330.59,360.74 L331.09,361.23 L331.58,361.68 L332.08,362.11 L332.57,362.51 L333.07,362.89 L333.56,363.24 L334.06,363.56 L334.55,363.87 L335.05,364.15 L335.54,364.41 L336.04,364.66 L336.53,364.88 L337.03,365.09 L337.52,365.28 L338.02,365.46 L338.51,365.62 L339.01,365.77 L339.50,365.90 L340.00,366.03 L340.49,366.14 L340.99,366.25 L341.48,366.34 L341.98,366.43 L342.47,366.51 L342.97,366.58 L343.46,366.65 L343.96,366.71 L344.45,366.76 L344.95,366.81 L345.44,366.85 L345.94,366.89 L346.43,366.92 L346.93,366.95 L347.42,366.98 L347.92,367.01 L348.41,367.03 L348.91,367.05 L349.40,367.07 L349.90,367.08 L350.39,367.10 L350.89,367.11 L351.38,367.12 L351.88,367.13 L352.37,367.14 L352.87,367.15 L353.36,367.15 L353.86,367.16 L354.35,367.17 L354.85,367.17 L355.34,367.17 L355.84,367.18 L356.33,367.18 L356.83,367.18 L357.32,367.19 L357.82,367.19 L358.31,367.19 L358.81,367.19 L359.30,367.19 L359.80,367.19 L360.29,367.19 L360.79,367.20 L361.28,367.20 L361.78,367.20 L362.27,367.20 L362.77,367.20 L363.26,367.20 L363.76,367.20 L364.25,367.20 L364.75,367.20 L365.24,367.20 L365.74,367.20 L366.23,367.20 L366.73,367.20 L367.22,367.20 L367.72,367.20 L368.21,367.20 L368.71,367.20 L369.20,367.20 L369.70,367.20" fill="none" stroke="#2b6cab" stroke-width="1.0" stroke-linejoin="round" stroke-linecap="round"/>
<path d="M300.40,327.18 L300.89,325.64 L301.39,324.12 L301.88,322.61 L302.38,321.13 L302.88,319.67 L303.37,318.24 L303.87,316.85 L304.36,315.50 L304.85,314.20 L305.35,312.96 L305.84,311.77 L306.34,310.65 L306.83,309.60 L307.33,308.63 L307.82,307.73 L308.32,306.92 L308.81,306.19 L309.31,305.55 L309.81,305.01 L310.30,304.56 L310.79,304.21 L311.29,303.95 L311.78,303.80 L312.28,303.75 L312.77,303.79 L313.27,303.91 L313.76,304.10 L314.26,304.38 L314.75,304.73 L315.25,305.15 L315.74,305.65 L316.24,306.22 L316.73,306.86 L317.23,307.56 L317.72,308.34 L318.22,309.17 L318.71,310.06 L319.21,311.01 L319.70,312.01 L320.20,313.06 L320.69,314.16 L321.19,315.30 L321.68,316.47 L322.18,317.68 L322.67,318.93 L323.17,320.20 L323.66,321.49 L324.16,322.80 L324.65,324.13 L325.15,325.47 L325.64,326.82 L326.14,328.17 L326.63,329.53 L327.13,330.88 L327.62,332.23 L328.12,333.57 L328.61,334.90 L329.11,336.21 L329.60,337.51 L330.10,338.79 L330.59,340.04 L331.09,341.28 L331.58,342.49 L332.08,343.67 L332.57,344.82 L333.07,345.94 L333.56,347.03 L334.06,348.09 L334.55,349.12 L335.05,350.11 L335.54,351.07 L336.04,351.99 L336.53,352.88 L337.03,353.73 L337.52,354.55 L338.02,355.33 L338.51,356.08 L339.01,356.79 L339.50,357.47 L340.00,358.12 L340.49,358.73 L340.99,359.32 L341.48,359.87 L341.98,360.39 L342.47,360.88 L342.97,361.35 L343.46,361.78 L343.96,362.19 L344.45,362.58 L344.95,362.94 L345.44,363.27 L345.94,363.59 L346.43,363.88 L346.93,364.16 L347.42,364.41 L347.92,364.65 L348.41,364.87 L348.91,365.07 L349.40,365.26 L349.90,365.43 L350.39,365.59 L350.89,365.74 L351.38,365.88 L351.88,366.00 L352.37,366.11 L352.87,366.22 L353.36,366.31 L353.86,366.40 L354.35,366.48 L354.85,366.55 L355.34,366.62 L355.84,366.68 L356.33,366.73 L356.83,366.78 L357.32,366.83 L357.82,366.87 L358.31,366.90 L358.81,366.93 L359.30,366.96 L359.80,366.99 L360.29,367.01 L360.79,367.04 L361.28,367.05 L361.78,367.07 L362.27,367.09 L362.77,367.10 L363.26,367.11 L363.76,367.12 L364.25,367.13 L364.75,367.14 L365.24,367.15 L365.74,367.15 L366.23,367.16 L366.73,367.16 L367.22,367.17 L367.72,367.17 L368.21,367.18 L368.71,367.18 L369.20,367.18 L369.70,367.18" fill="none" stroke="#2b6cab" stroke-width="1.0" stroke-linejoin="round" stroke-linecap="round"/>
<path d="M300.40,345.00 L300.89,343.82 L301.39,342.61 L301.88,341.37 L302.38,340.10 L302.88,338.81 L303.37,337.49 L303.87,336.15 L304.36,334.80 L304.85,333.43 L305.35,332.05 L305.84,330.67 L306.34,329.27 L306.83,327.88 L307.33,326.49 L307.82,325.10 L308.32,323.73 L308.81,322.36 L309.31,321.02 L309.81,319.70 L310.30,318.40 L310.79,317.14 L311.29,315.91 L311.78,314.71 L312.28,313.56 L312.77,312.46 L313.27,311.41 L313.76,310.41 L314.26,309.47 L314.75,308.59 L315.25,307.78 L315.74,307.04 L316.24,306.36 L316.73,305.76 L317.23,305.23 L317.72,304.78 L318.22,304.41 L318.71,304.12 L319.21,303.92 L319.70,303.79 L320.20,303.75 L320.69,303.80 L321.19,303.95 L321.68,304.19 L322.18,304.53 L322.67,304.97 L323.17,305.50 L323.66,306.11 L324.16,306.82 L324.65,307.61 L325.15,308.48 L325.64,309.43 L326.14,310.45 L326.63,311.54 L327.13,312.69 L327.62,313.90 L328.12,315.17 L328.61,316.48 L329.11,317.84 L329.60,319.23 L330.10,320.66 L330.59,322.12 L331.09,323.60 L331.58,325.09 L332.08,326.60 L332.57,328.11 L333.07,329.62 L333.56,331.14 L334.06,332.64 L334.55,334.13 L335.05,335.61 L335.54,337.07 L336.04,338.51 L336.53,339.92 L337.03,341.30 L337.52,342.65 L338.02,343.96 L338.51,345.24 L339.01,346.48 L339.50,347.68 L340.00,348.84 L340.49,349.96 L340.99,351.03 L341.48,352.06 L341.98,353.05 L342.47,353.99 L342.97,354.89 L343.46,355.75 L343.96,356.56 L344.45,357.33 L344.95,358.06 L345.44,358.75 L345.94,359.40 L346.43,360.01 L346.93,360.58 L347.42,361.11 L347.92,361.62 L348.41,362.08 L348.91,362.52 L349.40,362.93 L349.90,363.30 L350.39,363.65 L350.89,363.97 L351.38,364.27 L351.88,364.55 L352.37,364.80 L352.87,365.03 L353.36,365.24 L353.86,365.44 L354.35,365.62 L354.85,365.78 L355.34,365.92 L355.84,366.06 L356.33,366.18 L356.83,366.29 L357.32,366.39 L357.82,366.48 L358.31,366.56 L358.81,366.63 L359.30,366.70 L359.80,366.76 L360.29,366.81 L360.79,366.85 L361.28,366.90 L361.78,366.93 L362.27,366.97 L362.77,366.99 L363.26,367.02 L363.76,367.04 L364.25,367.06 L364.75,367.08 L365.24,367.10 L365.74,367.11 L366.23,367.12 L366.73,367.13 L367.22,367.14 L367.72,367.15 L368.21,367.16 L368.71,367.16 L369.20,367.17 L369.70,367.17" fill="none" stroke="#d8283e" stroke-width="1.0" stroke-linejoin="round" stroke-linecap="round"/>
<circle cx="300.40" cy="303.75" r="1.35" fill="#b4142a" stroke="#5a0a14" stroke-width="0.35"/>
<circle cx="310.30" cy="318.87" r="1.35" fill="#b4142a" stroke="#5a0a14" stroke-width="0.35"/>
<circle cx="320.20" cy="346.42" r="1.35" fill="#b4142a" stroke="#5a0a14" stroke-width="0.35"/>
<circle cx="330.10" cy="361.66" r="1.35" fill="#b4142a" stroke="#5a0a14" stroke-width="0.35"/>
<circle cx="340.00" cy="366.57" r="1.35" fill="#b4142a" stroke="#5a0a14" stroke-width="0.35"/>
<circle cx="349.90" cy="367.20" r="1.35" fill="#b4142a" stroke="#5a0a14" stroke-width="0.35"/>
<circle cx="359.80" cy="367.20" r="1.35" fill="#b4142a" stroke="#5a0a14" stroke-width="0.35"/>
<circle cx="369.70" cy="366.95" r="1.35" fill="#b4142a" stroke="#5a0a14" stroke-width="0.35"/>
<circle cx="300.40" cy="303.75" r="1.35" fill="#1b3f74" stroke="#0a1a30" stroke-width="0.35"/>
<circle cx="310.30" cy="316.11" r="1.35" fill="#1b3f74" stroke="#0a1a30" stroke-width="0.35"/>
<circle cx="320.20" cy="342.48" r="1.35" fill="#1b3f74" stroke="#0a1a30" stroke-width="0.35"/>
<circle cx="330.10" cy="359.46" r="1.35" fill="#1b3f74" stroke="#0a1a30" stroke-width="0.35"/>
<circle cx="340.00" cy="366.56" r="1.35" fill="#1b3f74" stroke="#0a1a30" stroke-width="0.35"/>
<circle cx="349.90" cy="367.20" r="1.35" fill="#1b3f74" stroke="#0a1a30" stroke-width="0.35"/>
<circle cx="359.80" cy="367.20" r="1.35" fill="#1b3f74" stroke="#0a1a30" stroke-width="0.35"/>
<circle cx="369.70" cy="366.67" r="1.35" fill="#1b3f74" stroke="#0a1a30" stroke-width="0.35"/>
<path d="M298.80,325.07 L302.00,325.07 L300.40,327.95 Z" fill="#1b3f74" stroke="#0a1a30" stroke-width="0.4"/>
<path d="M308.70,303.60 L311.90,303.60 L310.30,306.48 Z" fill="#1b3f74" stroke="#0a1a30" stroke-width="0.4"/>
<path d="M318.60,312.22 L321.80,312.22 L320.20,315.10 Z" fill="#1b3f74" stroke="#0a1a30" stroke-width="0.4"/>
<path d="M328.50,337.18 L331.70,337.18 L330.10,340.06 Z" fill="#1b3f74" stroke="#0a1a30" stroke-width="0.4"/>
<path d="M338.40,355.86 L341.60,355.86 L340.00,358.74 Z" fill="#1b3f74" stroke="#0a1a30" stroke-width="0.4"/>
<path d="M348.30,364.63 L351.50,364.63 L349.90,367.51 Z" fill="#1b3f74" stroke="#0a1a30" stroke-width="0.4"/>
<path d="M358.20,365.76 L361.40,365.76 L359.80,368.64 Z" fill="#1b3f74" stroke="#0a1a30" stroke-width="0.4"/>
<path d="M368.10,365.76 L371.30,365.76 L369.70,368.64 Z" fill="#1b3f74" stroke="#0a1a30" stroke-width="0.4"/>
<path d="M298.80,348.31 L302.00,348.31 L300.40,351.19 Z" fill="#b4142a" stroke="#5a0a14" stroke-width="0.4"/>
<path d="M308.70,317.50 L311.90,317.50 L310.30,320.38 Z" fill="#b4142a" stroke="#5a0a14" stroke-width="0.4"/>
<path d="M318.60,302.75 L321.80,302.75 L320.20,305.63 Z" fill="#b4142a" stroke="#5a0a14" stroke-width="0.4"/>
<path d="M328.50,318.81 L331.70,318.81 L330.10,321.69 Z" fill="#b4142a" stroke="#5a0a14" stroke-width="0.4"/>
<path d="M338.40,346.98 L341.60,346.98 L340.00,349.86 Z" fill="#b4142a" stroke="#5a0a14" stroke-width="0.4"/>
<path d="M348.30,361.01 L351.50,361.01 L349.90,363.89 Z" fill="#b4142a" stroke="#5a0a14" stroke-width="0.4"/>
<path d="M358.20,364.63 L361.40,364.63 L359.80,367.51 Z" fill="#b4142a" stroke="#5a0a14" stroke-width="0.4"/>
<path d="M368.10,365.66 L371.30,365.66 L369.70,368.54 Z" fill="#b4142a" stroke="#5a0a14" stroke-width="0.4"/>
<text x="339.20" y="306.05" font-size="7.0" fill="#222">K<tspan font-size="4.8" dy="1.7">153</tspan><tspan dy="-1.7">-L</tspan><tspan font-size="4.8" dy="1.7">166</tspan><tspan dy="-1.7">+2</tspan></text>
<text x="339.20" y="314.15" font-size="7.0" fill="#222">β<tspan font-size="4.8" dy="1.7">9</tspan><tspan dy="-1.7">-Coil-β</tspan><tspan font-size="4.8" dy="1.7">10</tspan></text>
<line x1="38.30" y1="387.00" x2="38.30" y2="457.90" stroke="#000" stroke-width="1.1"/>
<line x1="37.80" y1="457.40" x2="108.10" y2="457.40" stroke="#000" stroke-width="1.1"/>
<line x1="36.50" y1="453.90" x2="38.30" y2="453.90" stroke="#000" stroke-width="0.7"/>
<text x="35.90" y="456.10" font-size="6.3" text-anchor="end" textLength="8.4" lengthAdjust="spacingAndGlyphs">0.0</text>
<line x1="36.50" y1="441.20" x2="38.30" y2="441.20" stroke="#000" stroke-width="0.7"/>
<text x="35.90" y="443.40" font-size="6.3" text-anchor="end" textLength="8.4" lengthAdjust="spacingAndGlyphs">0.2</text>
<line x1="36.50" y1="428.50" x2="38.30" y2="428.50" stroke="#000" stroke-width="0.7"/>
<text x="35.90" y="430.70" font-size="6.3" text-anchor="end" textLength="8.4" lengthAdjust="spacingAndGlyphs">0.4</text>
<line x1="36.50" y1="415.80" x2="38.30" y2="415.80" stroke="#000" stroke-width="0.7"/>
<text x="35.90" y="418.00" font-size="6.3" text-anchor="end" textLength="8.4" lengthAdjust="spacingAndGlyphs">0.6</text>
<line x1="36.50" y1="403.10" x2="38.30" y2="403.10" stroke="#000" stroke-width="0.7"/>
<text x="35.90" y="405.30" font-size="6.3" text-anchor="end" textLength="8.4" lengthAdjust="spacingAndGlyphs">0.8</text>
<line x1="36.50" y1="390.40" x2="38.30" y2="390.40" stroke="#000" stroke-width="0.7"/>
<text x="35.90" y="392.60" font-size="6.3" text-anchor="end" textLength="8.4" lengthAdjust="spacingAndGlyphs">1.0</text>
<line x1="38.30" y1="457.40" x2="38.30" y2="459.20" stroke="#000" stroke-width="0.7"/>
<line x1="52.14" y1="457.40" x2="52.14" y2="459.20" stroke="#000" stroke-width="0.7"/>
<line x1="65.98" y1="457.40" x2="65.98" y2="459.20" stroke="#000" stroke-width="0.7"/>
<line x1="79.82" y1="457.40" x2="79.82" y2="459.20" stroke="#000" stroke-width="0.7"/>
<line x1="93.66" y1="457.40" x2="93.66" y2="459.20" stroke="#000" stroke-width="0.7"/>
<line x1="107.50" y1="457.40" x2="107.50" y2="459.20" stroke="#000" stroke-width="0.7"/>
<text x="38.30" y="464.60" font-size="6.6" text-anchor="middle">1</text>
<text x="52.14" y="464.60" font-size="6.6" text-anchor="middle">2</text>
<text x="65.98" y="464.60" font-size="6.6" text-anchor="middle">3</text>
<text x="79.82" y="464.60" font-size="6.6" text-anchor="middle">4</text>
<text x="93.66" y="464.60" font-size="6.6" text-anchor="middle">5</text>
<text x="107.50" y="464.60" font-size="6.6" text-anchor="middle">6</text>
<path d="M38.30,390.40 L38.99,390.63 L39.68,391.31 L40.38,392.42 L41.07,393.95 L41.76,395.85 L42.45,398.10 L43.14,400.65 L43.84,403.44 L44.53,406.43 L45.22,409.56 L45.91,412.78 L46.60,416.04 L47.30,419.29 L47.99,422.49 L48.68,425.59 L49.37,428.58 L50.06,431.41 L50.76,434.06 L51.45,436.53 L52.14,438.80 L52.83,440.87 L53.52,442.73 L54.22,444.40 L54.91,445.87 L55.60,447.17 L56.29,448.30 L56.98,449.27 L57.68,450.10 L58.37,450.80 L59.06,451.39 L59.75,451.89 L60.44,452.29 L61.14,452.63 L61.83,452.90 L62.52,453.12 L63.21,453.30 L63.90,453.43 L64.60,453.54 L65.29,453.63 L65.98,453.70 L66.67,453.75 L67.36,453.79 L68.06,453.82 L68.75,453.84 L69.44,453.86 L70.13,453.87 L70.82,453.88 L71.52,453.88 L72.21,453.89 L72.90,453.89 L73.59,453.89 L74.28,453.90 L74.98,453.90 L75.67,453.90 L76.36,453.90 L77.05,453.90 L77.74,453.90 L78.44,453.90 L79.13,453.90 L79.82,453.90 L80.51,453.90 L81.20,453.90 L81.90,453.90 L82.59,453.90 L83.28,453.90 L83.97,453.90 L84.66,453.90 L85.36,453.90 L86.05,453.90 L86.74,453.90 L87.43,453.90 L88.12,453.90 L88.82,453.90 L89.51,453.90 L90.20,453.90 L90.89,453.90 L91.58,453.90 L92.28,453.90 L92.97,453.90 L93.66,453.90 L94.35,453.90 L95.04,453.90 L95.74,453.90 L96.43,453.90 L97.12,453.90 L97.81,453.90 L98.50,453.90 L99.20,453.90 L99.89,453.90 L100.58,453.90 L101.27,453.90 L101.96,453.90 L102.66,453.90 L103.35,453.90 L104.04,453.90 L104.73,453.90 L105.42,453.90 L106.12,453.90 L106.81,453.90 L107.50,453.90" fill="none" stroke="#d8283e" stroke-width="1.0" stroke-linejoin="round" stroke-linecap="round"/>
<path d="M38.30,390.40 L38.99,390.61 L39.68,391.22 L40.38,392.23 L41.07,393.62 L41.76,395.36 L42.45,397.42 L43.14,399.75 L43.84,402.33 L44.53,405.10 L45.22,408.03 L45.91,411.06 L46.60,414.14 L47.30,417.25 L47.99,420.33 L48.68,423.35 L49.37,426.28 L50.06,429.09 L50.76,431.76 L51.45,434.27 L52.14,436.61 L52.83,438.77 L53.52,440.74 L54.22,442.53 L54.91,444.14 L55.60,445.58 L56.29,446.85 L56.98,447.97 L57.68,448.94 L58.37,449.78 L59.06,450.50 L59.75,451.11 L60.44,451.63 L61.14,452.06 L61.83,452.42 L62.52,452.72 L63.21,452.96 L63.90,453.16 L64.60,453.32 L65.29,453.45 L65.98,453.55 L66.67,453.63 L67.36,453.70 L68.06,453.74 L68.75,453.78 L69.44,453.81 L70.13,453.83 L70.82,453.85 L71.52,453.86 L72.21,453.87 L72.90,453.88 L73.59,453.89 L74.28,453.89 L74.98,453.89 L75.67,453.90 L76.36,453.90 L77.05,453.90 L77.74,453.90 L78.44,453.90 L79.13,453.90 L79.82,453.90 L80.51,453.90 L81.20,453.90 L81.90,453.90 L82.59,453.90 L83.28,453.90 L83.97,453.90 L84.66,453.90 L85.36,453.90 L86.05,453.90 L86.74,453.90 L87.43,453.90 L88.12,453.90 L88.82,453.90 L89.51,453.90 L90.20,453.90 L90.89,453.90 L91.58,453.90 L92.28,453.90 L92.97,453.90 L93.66,453.90 L94.35,453.90 L95.04,453.90 L95.74,453.90 L96.43,453.90 L97.12,453.90 L97.81,453.90 L98.50,453.90 L99.20,453.90 L99.89,453.90 L100.58,453.90 L101.27,453.90 L101.96,453.90 L102.66,453.90 L103.35,453.90 L104.04,453.90 L104.73,453.90 L105.42,453.90 L106.12,453.90 L106.81,453.90 L107.50,453.90" fill="none" stroke="#2b6cab" stroke-width="1.0" stroke-linejoin="round" stroke-linecap="round"/>
<path d="M38.30,390.51 L38.99,390.83 L39.68,391.36 L40.38,392.09 L41.07,393.03 L41.76,394.15 L42.45,395.45 L43.14,396.91 L43.84,398.52 L44.53,400.27 L45.22,402.14 L45.91,404.12 L46.60,406.18 L47.30,408.31 L47.99,410.49 L48.68,412.70 L49.37,414.94 L50.06,417.18 L50.76,419.40 L51.45,421.60 L52.14,423.76 L52.83,425.88 L53.52,427.93 L54.22,429.91 L54.91,431.82 L55.60,433.64 L56.29,435.38 L56.98,437.02 L57.68,438.57 L58.37,440.03 L59.06,441.39 L59.75,442.65 L60.44,443.82 L61.14,444.90 L61.83,445.89 L62.52,446.80 L63.21,447.62 L63.90,448.37 L64.60,449.04 L65.29,449.65 L65.98,450.19 L66.67,450.68 L67.36,451.11 L68.06,451.49 L68.75,451.83 L69.44,452.12 L70.13,452.38 L70.82,452.61 L71.52,452.80 L72.21,452.97 L72.90,453.12 L73.59,453.24 L74.28,453.35 L74.98,453.44 L75.67,453.52 L76.36,453.58 L77.05,453.64 L77.74,453.68 L78.44,453.72 L79.13,453.76 L79.82,453.78 L80.51,453.80 L81.20,453.82 L81.90,453.84 L82.59,453.85 L83.28,453.86 L83.97,453.87 L84.66,453.87 L85.36,453.88 L86.05,453.88 L86.74,453.89 L87.43,453.89 L88.12,453.89 L88.82,453.89 L89.51,453.90 L90.20,453.90 L90.89,453.90 L91.58,453.90 L92.28,453.90 L92.97,453.90 L93.66,453.90 L94.35,453.90 L95.04,453.90 L95.74,453.90 L96.43,453.90 L97.12,453.90 L97.81,453.90 L98.50,453.90 L99.20,453.90 L99.89,453.90 L100.58,453.90 L101.27,453.90 L101.96,453.90 L102.66,453.90 L103.35,453.90 L104.04,453.90 L104.73,453.90 L105.42,453.90 L106.12,453.90 L106.81,453.90 L107.50,453.90" fill="none" stroke="#2b6cab" stroke-width="1.0" stroke-linejoin="round" stroke-linecap="round"/>
<path d="M38.30,400.57 L38.99,399.18 L39.68,397.86 L40.38,396.63 L41.07,395.50 L41.76,394.46 L42.45,393.53 L43.14,392.72 L43.84,392.02 L44.53,391.44 L45.22,390.99 L45.91,390.66 L46.60,390.47 L47.30,390.40 L47.99,390.48 L48.68,390.74 L49.37,391.15 L50.06,391.74 L50.76,392.47 L51.45,393.37 L52.14,394.40 L52.83,395.58 L53.52,396.88 L54.22,398.30 L54.91,399.83 L55.60,401.46 L56.29,403.17 L56.98,404.96 L57.68,406.81 L58.37,408.71 L59.06,410.65 L59.75,412.61 L60.44,414.59 L61.14,416.58 L61.83,418.55 L62.52,420.52 L63.21,422.45 L63.90,424.36 L64.60,426.22 L65.29,428.03 L65.98,429.79 L66.67,431.49 L67.36,433.12 L68.06,434.69 L68.75,436.19 L69.44,437.61 L70.13,438.96 L70.82,440.23 L71.52,441.43 L72.21,442.55 L72.90,443.60 L73.59,444.58 L74.28,445.48 L74.98,446.32 L75.67,447.09 L76.36,447.80 L77.05,448.46 L77.74,449.05 L78.44,449.59 L79.13,450.08 L79.82,450.53 L80.51,450.93 L81.20,451.28 L81.90,451.61 L82.59,451.90 L83.28,452.15 L83.97,452.38 L84.66,452.58 L85.36,452.76 L86.05,452.92 L86.74,453.05 L87.43,453.17 L88.12,453.28 L88.82,453.37 L89.51,453.45 L90.20,453.52 L90.89,453.57 L91.58,453.62 L92.28,453.67 L92.97,453.71 L93.66,453.74 L94.35,453.76 L95.04,453.79 L95.74,453.81 L96.43,453.82 L97.12,453.84 L97.81,453.85 L98.50,453.86 L99.20,453.86 L99.89,453.87 L100.58,453.88 L101.27,453.88 L101.96,453.88 L102.66,453.89 L103.35,453.89 L104.04,453.89 L104.73,453.89 L105.42,453.89 L106.12,453.90 L106.81,453.90 L107.50,453.90" fill="none" stroke="#d8283e" stroke-width="1.0" stroke-linejoin="round" stroke-linecap="round"/>
<circle cx="38.30" cy="390.58" r="1.35" fill="#b4142a" stroke="#5a0a14" stroke-width="0.35"/>
<circle cx="52.14" cy="438.69" r="1.35" fill="#b4142a" stroke="#5a0a14" stroke-width="0.35"/>
<circle cx="65.98" cy="452.93" r="1.35" fill="#b4142a" stroke="#5a0a14" stroke-width="0.35"/>
<circle cx="79.82" cy="453.53" r="1.35" fill="#b4142a" stroke="#5a0a14" stroke-width="0.35"/>
<circle cx="93.66" cy="453.07" r="1.35" fill="#b4142a" stroke="#5a0a14" stroke-width="0.35"/>
<circle cx="107.50" cy="453.90" r="1.35" fill="#b4142a" stroke="#5a0a14" stroke-width="0.35"/>
<circle cx="38.30" cy="390.40" r="1.35" fill="#1b3f74" stroke="#0a1a30" stroke-width="0.35"/>
<circle cx="52.14" cy="436.61" r="1.35" fill="#1b3f74" stroke="#0a1a30" stroke-width="0.35"/>
<circle cx="65.98" cy="453.69" r="1.35" fill="#1b3f74" stroke="#0a1a30" stroke-width="0.35"/>
<circle cx="79.82" cy="453.90" r="1.35" fill="#1b3f74" stroke="#0a1a30" stroke-width="0.35"/>
<circle cx="93.66" cy="453.29" r="1.35" fill="#1b3f74" stroke="#0a1a30" stroke-width="0.35"/>
<circle cx="107.50" cy="453.52" r="1.35" fill="#1b3f74" stroke="#0a1a30" stroke-width="0.35"/>
<path d="M36.70,389.85 L39.90,389.85 L38.30,392.73 Z" fill="#1b3f74" stroke="#0a1a30" stroke-width="0.4"/>
<path d="M50.54,422.99 L53.74,422.99 L52.14,425.87 Z" fill="#1b3f74" stroke="#0a1a30" stroke-width="0.4"/>
<path d="M64.38,447.86 L67.58,447.86 L65.98,450.74 Z" fill="#1b3f74" stroke="#0a1a30" stroke-width="0.4"/>
<path d="M78.22,452.38 L81.42,452.38 L79.82,455.26 Z" fill="#1b3f74" stroke="#0a1a30" stroke-width="0.4"/>
<path d="M92.06,452.46 L95.26,452.46 L93.66,455.34 Z" fill="#1b3f74" stroke="#0a1a30" stroke-width="0.4"/>
<path d="M105.90,452.13 L109.10,452.13 L107.50,455.01 Z" fill="#1b3f74" stroke="#0a1a30" stroke-width="0.4"/>
<path d="M36.70,399.42 L39.90,399.42 L38.30,402.30 Z" fill="#b4142a" stroke="#5a0a14" stroke-width="0.4"/>
<path d="M50.54,388.96 L53.74,388.96 L52.14,391.84 Z" fill="#b4142a" stroke="#5a0a14" stroke-width="0.4"/>
<path d="M64.38,429.13 L67.58,429.13 L65.98,432.01 Z" fill="#b4142a" stroke="#5a0a14" stroke-width="0.4"/>
<path d="M78.22,449.90 L81.42,449.90 L79.82,452.78 Z" fill="#b4142a" stroke="#5a0a14" stroke-width="0.4"/>
<path d="M92.06,451.60 L95.26,451.60 L93.66,454.48 Z" fill="#b4142a" stroke="#5a0a14" stroke-width="0.4"/>
<path d="M105.90,452.46 L109.10,452.46 L107.50,455.34 Z" fill="#b4142a" stroke="#5a0a14" stroke-width="0.4"/>
<text x="70.60" y="392.70" font-size="7.0" fill="#222">L<tspan font-size="4.8" dy="1.7">184</tspan><tspan dy="-1.7">-K</tspan><tspan font-size="4.8" dy="1.7">189</tspan><tspan dy="-1.7">+1</tspan></text>
<text x="70.60" y="400.80" font-size="7.0" fill="#222">β<tspan font-size="4.8" dy="1.7">10</tspan><tspan dy="-1.7">-Coil-β</tspan><tspan font-size="4.8" dy="1.7">11</tspan></text>
<line x1="125.40" y1="387.00" x2="125.40" y2="457.90" stroke="#000" stroke-width="1.1"/>
<line x1="124.90" y1="457.40" x2="194.60" y2="457.40" stroke="#000" stroke-width="1.1"/>
<line x1="123.60" y1="453.90" x2="125.40" y2="453.90" stroke="#000" stroke-width="0.7"/>
<text x="123.00" y="456.10" font-size="6.3" text-anchor="end" textLength="8.4" lengthAdjust="spacingAndGlyphs">0.0</text>
<line x1="123.60" y1="441.20" x2="125.40" y2="441.20" stroke="#000" stroke-width="0.7"/>
<text x="123.00" y="443.40" font-size="6.3" text-anchor="end" textLength="8.4" lengthAdjust="spacingAndGlyphs">0.2</text>
<line x1="123.60" y1="428.50" x2="125.40" y2="428.50" stroke="#000" stroke-width="0.7"/>
<text x="123.00" y="430.70" font-size="6.3" text-anchor="end" textLength="8.4" lengthAdjust="spacingAndGlyphs">0.4</text>
<line x1="123.60" y1="415.80" x2="125.40" y2="415.80" stroke="#000" stroke-width="0.7"/>
<text x="123.00" y="418.00" font-size="6.3" text-anchor="end" textLength="8.4" lengthAdjust="spacingAndGlyphs">0.6</text>
<line x1="123.60" y1="403.10" x2="125.40" y2="403.10" stroke="#000" stroke-width="0.7"/>
<text x="123.00" y="405.30" font-size="6.3" text-anchor="end" textLength="8.4" lengthAdjust="spacingAndGlyphs">0.8</text>
<line x1="123.60" y1="390.40" x2="125.40" y2="390.40" stroke="#000" stroke-width="0.7"/>
<text x="123.00" y="392.60" font-size="6.3" text-anchor="end" textLength="8.4" lengthAdjust="spacingAndGlyphs">1.0</text>
<line x1="125.40" y1="457.40" x2="125.40" y2="459.20" stroke="#000" stroke-width="0.7"/>
<line x1="135.20" y1="457.40" x2="135.20" y2="459.20" stroke="#000" stroke-width="0.7"/>
<line x1="145.00" y1="457.40" x2="145.00" y2="459.20" stroke="#000" stroke-width="0.7"/>
<line x1="154.80" y1="457.40" x2="154.80" y2="459.20" stroke="#000" stroke-width="0.7"/>
<line x1="164.60" y1="457.40" x2="164.60" y2="459.20" stroke="#000" stroke-width="0.7"/>
<line x1="174.40" y1="457.40" x2="174.40" y2="459.20" stroke="#000" stroke-width="0.7"/>
<line x1="184.20" y1="457.40" x2="184.20" y2="459.20" stroke="#000" stroke-width="0.7"/>
<line x1="194.00" y1="457.40" x2="194.00" y2="459.20" stroke="#000" stroke-width="0.7"/>
<text x="135.20" y="464.60" font-size="6.6" text-anchor="middle">2</text>
<text x="154.80" y="464.60" font-size="6.6" text-anchor="middle">4</text>
<text x="174.40" y="464.60" font-size="6.6" text-anchor="middle">6</text>
<text x="194.00" y="464.60" font-size="6.6" text-anchor="middle">8</text>
<path d="M125.40,390.40 L125.89,390.45 L126.38,390.61 L126.87,390.87 L127.36,391.23 L127.85,391.70 L128.34,392.26 L128.83,392.92 L129.32,393.67 L129.81,394.51 L130.30,395.44 L130.79,396.44 L131.28,397.52 L131.77,398.68 L132.26,399.89 L132.75,401.17 L133.24,402.51 L133.73,403.89 L134.22,405.31 L134.71,406.78 L135.20,408.27 L135.69,409.79 L136.18,411.33 L136.67,412.88 L137.16,414.45 L137.65,416.01 L138.14,417.57 L138.63,419.13 L139.12,420.68 L139.61,422.20 L140.10,423.71 L140.59,425.20 L141.08,426.65 L141.57,428.08 L142.06,429.47 L142.55,430.82 L143.04,432.14 L143.53,433.41 L144.02,434.64 L144.51,435.83 L145.00,436.97 L145.49,438.07 L145.98,439.12 L146.47,440.12 L146.96,441.07 L147.45,441.98 L147.94,442.85 L148.43,443.66 L148.92,444.44 L149.41,445.17 L149.90,445.85 L150.39,446.50 L150.88,447.10 L151.37,447.67 L151.86,448.19 L152.35,448.68 L152.84,449.14 L153.33,449.57 L153.82,449.96 L154.31,450.32 L154.80,450.66 L155.29,450.97 L155.78,451.25 L156.27,451.51 L156.76,451.75 L157.25,451.96 L157.74,452.16 L158.23,452.34 L158.72,452.51 L159.21,452.66 L159.70,452.79 L160.19,452.91 L160.68,453.02 L161.17,453.12 L161.66,453.21 L162.15,453.29 L162.64,453.36 L163.13,453.43 L163.62,453.48 L164.11,453.53 L164.60,453.58 L165.09,453.62 L165.58,453.65 L166.07,453.69 L166.56,453.71 L167.05,453.74 L167.54,453.76 L168.03,453.78 L168.52,453.79 L169.01,453.81 L169.50,453.82 L169.99,453.83 L170.48,453.84 L170.97,453.85 L171.46,453.86 L171.95,453.86 L172.44,453.87 L172.93,453.87 L173.42,453.88 L173.91,453.88 L174.40,453.88 L174.89,453.89 L175.38,453.89 L175.87,453.89 L176.36,453.89 L176.85,453.89 L177.34,453.89 L177.83,453.90 L178.32,453.90 L178.81,453.90 L179.30,453.90 L179.79,453.90 L180.28,453.90 L180.77,453.90 L181.26,453.90 L181.75,453.90 L182.24,453.90 L182.73,453.90 L183.22,453.90 L183.71,453.90 L184.20,453.90 L184.69,453.90 L185.18,453.90 L185.67,453.90 L186.16,453.90 L186.65,453.90 L187.14,453.90 L187.63,453.90 L188.12,453.90 L188.61,453.90 L189.10,453.90 L189.59,453.90 L190.08,453.90 L190.57,453.90 L191.06,453.90 L191.55,453.90 L192.04,453.90 L192.53,453.90 L193.02,453.90 L193.51,453.90 L194.00,453.90" fill="none" stroke="#d8283e" stroke-width="1.0" stroke-linejoin="round" stroke-linecap="round"/>
<path d="M125.40,390.40 L125.89,390.44 L126.38,390.57 L126.87,390.79 L127.36,391.09 L127.85,391.48 L128.34,391.95 L128.83,392.50 L129.32,393.13 L129.81,393.83 L130.30,394.61 L130.79,395.46 L131.28,396.37 L131.77,397.35 L132.26,398.39 L132.75,399.48 L133.24,400.63 L133.73,401.82 L134.22,403.05 L134.71,404.33 L135.20,405.64 L135.69,406.97 L136.18,408.34 L136.67,409.72 L137.16,411.12 L137.65,412.54 L138.14,413.96 L138.63,415.39 L139.12,416.81 L139.61,418.23 L140.10,419.65 L140.59,421.05 L141.08,422.44 L141.57,423.81 L142.06,425.16 L142.55,426.49 L143.04,427.79 L143.53,429.07 L144.02,430.31 L144.51,431.53 L145.00,432.71 L145.49,433.85 L145.98,434.96 L146.47,436.03 L146.96,437.07 L147.45,438.07 L147.94,439.02 L148.43,439.94 L148.92,440.82 L149.41,441.67 L149.90,442.47 L150.39,443.23 L150.88,443.96 L151.37,444.65 L151.86,445.31 L152.35,445.93 L152.84,446.51 L153.33,447.06 L153.82,447.58 L154.31,448.07 L154.80,448.52 L155.29,448.95 L155.78,449.35 L156.27,449.73 L156.76,450.07 L157.25,450.40 L157.74,450.70 L158.23,450.98 L158.72,451.24 L159.21,451.48 L159.70,451.70 L160.19,451.90 L160.68,452.09 L161.17,452.26 L161.66,452.42 L162.15,452.56 L162.64,452.69 L163.13,452.81 L163.62,452.92 L164.11,453.02 L164.60,453.11 L165.09,453.19 L165.58,453.27 L166.07,453.34 L166.56,453.40 L167.05,453.45 L167.54,453.50 L168.03,453.55 L168.52,453.59 L169.01,453.62 L169.50,453.65 L169.99,453.68 L170.48,453.71 L170.97,453.73 L171.46,453.75 L171.95,453.77 L172.44,453.79 L172.93,453.80 L173.42,453.81 L173.91,453.82 L174.40,453.83 L174.89,453.84 L175.38,453.85 L175.87,453.86 L176.36,453.86 L176.85,453.87 L177.34,453.87 L177.83,453.88 L178.32,453.88 L178.81,453.88 L179.30,453.88 L179.79,453.89 L180.28,453.89 L180.77,453.89 L181.26,453.89 L181.75,453.89 L182.24,453.89 L182.73,453.89 L183.22,453.90 L183.71,453.90 L184.20,453.90 L184.69,453.90 L185.18,453.90 L185.67,453.90 L186.16,453.90 L186.65,453.90 L187.14,453.90 L187.63,453.90 L188.12,453.90 L188.61,453.90 L189.10,453.90 L189.59,453.90 L190.08,453.90 L190.57,453.90 L191.06,453.90 L191.55,453.90 L192.04,453.90 L192.53,453.90 L193.02,453.90 L193.51,453.90 L194.00,453.90" fill="none" stroke="#2b6cab" stroke-width="1.0" stroke-linejoin="round" stroke-linecap="round"/>
<path d="M125.40,394.93 L125.89,394.09 L126.38,393.34 L126.87,392.66 L127.36,392.07 L127.85,391.56 L128.34,391.15 L128.83,390.82 L129.32,390.59 L129.81,390.45 L130.30,390.40 L130.79,390.45 L131.28,390.59 L131.77,390.83 L132.26,391.17 L132.75,391.60 L133.24,392.12 L133.73,392.73 L134.22,393.43 L134.71,394.21 L135.20,395.06 L135.69,396.00 L136.18,397.01 L136.67,398.08 L137.16,399.22 L137.65,400.42 L138.14,401.67 L138.63,402.96 L139.12,404.31 L139.61,405.69 L140.10,407.10 L140.59,408.54 L141.08,410.01 L141.57,411.49 L142.06,412.98 L142.55,414.48 L143.04,415.99 L143.53,417.49 L144.02,418.99 L144.51,420.47 L145.00,421.94 L145.49,423.40 L145.98,424.83 L146.47,426.23 L146.96,427.61 L147.45,428.96 L147.94,430.28 L148.43,431.56 L148.92,432.80 L149.41,434.00 L149.90,435.17 L150.39,436.29 L150.88,437.37 L151.37,438.41 L151.86,439.40 L152.35,440.35 L152.84,441.26 L153.33,442.13 L153.82,442.95 L154.31,443.73 L154.80,444.47 L155.29,445.17 L155.78,445.83 L156.27,446.45 L156.76,447.04 L157.25,447.58 L157.74,448.10 L158.23,448.58 L158.72,449.02 L159.21,449.44 L159.70,449.83 L160.19,450.19 L160.68,450.52 L161.17,450.83 L161.66,451.11 L162.15,451.37 L162.64,451.61 L163.13,451.83 L163.62,452.04 L164.11,452.22 L164.60,452.39 L165.09,452.54 L165.58,452.68 L166.07,452.81 L166.56,452.93 L167.05,453.03 L167.54,453.13 L168.03,453.21 L168.52,453.29 L169.01,453.36 L169.50,453.42 L169.99,453.47 L170.48,453.52 L170.97,453.57 L171.46,453.61 L171.95,453.64 L172.44,453.68 L172.93,453.70 L173.42,453.73 L173.91,453.75 L174.40,453.77 L174.89,453.79 L175.38,453.80 L175.87,453.81 L176.36,453.83 L176.85,453.84 L177.34,453.84 L177.83,453.85 L178.32,453.86 L178.81,453.86 L179.30,453.87 L179.79,453.87 L180.28,453.88 L180.77,453.88 L181.26,453.88 L181.75,453.89 L182.24,453.89 L182.73,453.89 L183.22,453.89 L183.71,453.89 L184.20,453.89 L184.69,453.89 L185.18,453.90 L185.67,453.90 L186.16,453.90 L186.65,453.90 L187.14,453.90 L187.63,453.90 L188.12,453.90 L188.61,453.90 L189.10,453.90 L189.59,453.90 L190.08,453.90 L190.57,453.90 L191.06,453.90 L191.55,453.90 L192.04,453.90 L192.53,453.90 L193.02,453.90 L193.51,453.90 L194.00,453.90" fill="none" stroke="#2b6cab" stroke-width="1.0" stroke-linejoin="round" stroke-linecap="round"/>
<path d="M125.40,434.62 L125.89,433.51 L126.38,432.36 L126.87,431.18 L127.36,429.97 L127.85,428.73 L128.34,427.45 L128.83,426.15 L129.32,424.83 L129.81,423.48 L130.30,422.11 L130.79,420.73 L131.28,419.34 L131.77,417.93 L132.26,416.52 L132.75,415.10 L133.24,413.69 L133.73,412.28 L134.22,410.88 L134.71,409.49 L135.20,408.12 L135.69,406.77 L136.18,405.44 L136.67,404.15 L137.16,402.89 L137.65,401.67 L138.14,400.49 L138.63,399.36 L139.12,398.28 L139.61,397.25 L140.10,396.29 L140.59,395.39 L141.08,394.55 L141.57,393.78 L142.06,393.09 L142.55,392.47 L143.04,391.93 L143.53,391.46 L144.02,391.08 L144.51,390.79 L145.00,390.57 L145.49,390.44 L145.98,390.40 L146.47,390.45 L146.96,390.59 L147.45,390.82 L147.94,391.15 L148.43,391.56 L148.92,392.07 L149.41,392.66 L149.90,393.34 L150.39,394.09 L150.88,394.93 L151.37,395.84 L151.86,396.82 L152.35,397.86 L152.84,398.97 L153.33,400.14 L153.82,401.35 L154.31,402.62 L154.80,403.93 L155.29,405.28 L155.78,406.66 L156.27,408.07 L156.76,409.51 L157.25,410.96 L157.74,412.43 L158.23,413.90 L158.72,415.39 L159.21,416.87 L159.70,418.34 L160.19,419.81 L160.68,421.27 L161.17,422.71 L161.66,424.13 L162.15,425.52 L162.64,426.90 L163.13,428.24 L163.62,429.55 L164.11,430.83 L164.60,432.08 L165.09,433.28 L165.58,434.45 L166.07,435.59 L166.56,436.68 L167.05,437.73 L167.54,438.73 L168.03,439.70 L168.52,440.62 L169.01,441.51 L169.50,442.35 L169.99,443.15 L170.48,443.91 L170.97,444.63 L171.46,445.31 L171.95,445.95 L172.44,446.55 L172.93,447.12 L173.42,447.66 L173.91,448.16 L174.40,448.63 L174.89,449.06 L175.38,449.47 L175.87,449.85 L176.36,450.20 L176.85,450.53 L177.34,450.83 L177.83,451.11 L178.32,451.37 L178.81,451.60 L179.30,451.82 L179.79,452.02 L180.28,452.21 L180.77,452.37 L181.26,452.53 L181.75,452.67 L182.24,452.79 L182.73,452.91 L183.22,453.01 L183.71,453.11 L184.20,453.19 L184.69,453.27 L185.18,453.34 L185.67,453.40 L186.16,453.46 L186.65,453.51 L187.14,453.56 L187.63,453.60 L188.12,453.63 L188.61,453.66 L189.10,453.69 L189.59,453.72 L190.08,453.74 L190.57,453.76 L191.06,453.78 L191.55,453.79 L192.04,453.81 L192.53,453.82 L193.02,453.83 L193.51,453.84 L194.00,453.85" fill="none" stroke="#d8283e" stroke-width="1.0" stroke-linejoin="round" stroke-linecap="round"/>
<circle cx="125.40" cy="391.01" r="1.35" fill="#b4142a" stroke="#5a0a14" stroke-width="0.35"/>
<circle cx="135.20" cy="409.00" r="1.35" fill="#b4142a" stroke="#5a0a14" stroke-width="0.35"/>
<circle cx="145.00" cy="437.88" r="1.35" fill="#b4142a" stroke="#5a0a14" stroke-width="0.35"/>
<circle cx="154.80" cy="450.49" r="1.35" fill="#b4142a" stroke="#5a0a14" stroke-width="0.35"/>
<circle cx="164.60" cy="453.90" r="1.35" fill="#b4142a" stroke="#5a0a14" stroke-width="0.35"/>
<circle cx="174.40" cy="453.90" r="1.35" fill="#b4142a" stroke="#5a0a14" stroke-width="0.35"/>
<circle cx="184.20" cy="453.73" r="1.35" fill="#b4142a" stroke="#5a0a14" stroke-width="0.35"/>
<circle cx="194.00" cy="453.36" r="1.35" fill="#b4142a" stroke="#5a0a14" stroke-width="0.35"/>
<circle cx="125.40" cy="391.04" r="1.35" fill="#1b3f74" stroke="#0a1a30" stroke-width="0.35"/>
<circle cx="135.20" cy="405.96" r="1.35" fill="#1b3f74" stroke="#0a1a30" stroke-width="0.35"/>
<circle cx="145.00" cy="433.01" r="1.35" fill="#1b3f74" stroke="#0a1a30" stroke-width="0.35"/>
<circle cx="154.80" cy="448.60" r="1.35" fill="#1b3f74" stroke="#0a1a30" stroke-width="0.35"/>
<circle cx="164.60" cy="453.60" r="1.35" fill="#1b3f74" stroke="#0a1a30" stroke-width="0.35"/>
<circle cx="174.40" cy="453.42" r="1.35" fill="#1b3f74" stroke="#0a1a30" stroke-width="0.35"/>
<circle cx="184.20" cy="453.19" r="1.35" fill="#1b3f74" stroke="#0a1a30" stroke-width="0.35"/>
<circle cx="194.00" cy="453.36" r="1.35" fill="#1b3f74" stroke="#0a1a30" stroke-width="0.35"/>
<path d="M123.80,394.30 L127.00,394.30 L125.40,397.18 Z" fill="#1b3f74" stroke="#0a1a30" stroke-width="0.4"/>
<path d="M133.60,388.96 L136.80,388.96 L135.20,391.84 Z" fill="#1b3f74" stroke="#0a1a30" stroke-width="0.4"/>
<path d="M143.40,420.78 L146.60,420.78 L145.00,423.66 Z" fill="#1b3f74" stroke="#0a1a30" stroke-width="0.4"/>
<path d="M153.20,443.03 L156.40,443.03 L154.80,445.91 Z" fill="#1b3f74" stroke="#0a1a30" stroke-width="0.4"/>
<path d="M163.00,450.85 L166.20,450.85 L164.60,453.73 Z" fill="#1b3f74" stroke="#0a1a30" stroke-width="0.4"/>
<path d="M172.80,451.50 L176.00,451.50 L174.40,454.38 Z" fill="#1b3f74" stroke="#0a1a30" stroke-width="0.4"/>
<path d="M182.60,452.46 L185.80,452.46 L184.20,455.34 Z" fill="#1b3f74" stroke="#0a1a30" stroke-width="0.4"/>
<path d="M192.40,452.17 L195.60,452.17 L194.00,455.05 Z" fill="#1b3f74" stroke="#0a1a30" stroke-width="0.4"/>
<path d="M123.80,442.30 L127.00,442.30 L125.40,445.18 Z" fill="#b4142a" stroke="#5a0a14" stroke-width="0.4"/>
<path d="M133.60,406.54 L136.80,406.54 L135.20,409.42 Z" fill="#b4142a" stroke="#5a0a14" stroke-width="0.4"/>
<path d="M143.40,389.29 L146.60,389.29 L145.00,392.17 Z" fill="#b4142a" stroke="#5a0a14" stroke-width="0.4"/>
<path d="M153.20,401.82 L156.40,401.82 L154.80,404.70 Z" fill="#b4142a" stroke="#5a0a14" stroke-width="0.4"/>
<path d="M163.00,430.44 L166.20,430.44 L164.60,433.32 Z" fill="#b4142a" stroke="#5a0a14" stroke-width="0.4"/>
<path d="M172.80,448.07 L176.00,448.07 L174.40,450.95 Z" fill="#b4142a" stroke="#5a0a14" stroke-width="0.4"/>
<path d="M182.60,451.51 L185.80,451.51 L184.20,454.39 Z" fill="#b4142a" stroke="#5a0a14" stroke-width="0.4"/>
<path d="M192.40,452.42 L195.60,452.42 L194.00,455.30 Z" fill="#b4142a" stroke="#5a0a14" stroke-width="0.4"/>
<text x="158.70" y="392.70" font-size="7.0" fill="#222">Y<tspan font-size="4.8" dy="1.7">201</tspan><tspan dy="-1.7">-L</tspan><tspan font-size="4.8" dy="1.7">213</tspan><tspan dy="-1.7">+2</tspan></text>
<text x="158.70" y="400.80" font-size="7.0" fill="#222">β<tspan font-size="4.8" dy="1.7">11</tspan><tspan dy="-1.7">-Coil-β</tspan><tspan font-size="4.8" dy="1.7">12</tspan></text>
<line x1="212.40" y1="387.00" x2="212.40" y2="457.90" stroke="#000" stroke-width="1.1"/>
<line x1="211.90" y1="457.40" x2="282.60" y2="457.40" stroke="#000" stroke-width="1.1"/>
<line x1="210.60" y1="453.90" x2="212.40" y2="453.90" stroke="#000" stroke-width="0.7"/>
<text x="210.00" y="456.10" font-size="6.3" text-anchor="end" textLength="8.4" lengthAdjust="spacingAndGlyphs">0.0</text>
<line x1="210.60" y1="441.20" x2="212.40" y2="441.20" stroke="#000" stroke-width="0.7"/>
<text x="210.00" y="443.40" font-size="6.3" text-anchor="end" textLength="8.4" lengthAdjust="spacingAndGlyphs">0.2</text>
<line x1="210.60" y1="428.50" x2="212.40" y2="428.50" stroke="#000" stroke-width="0.7"/>
<text x="210.00" y="430.70" font-size="6.3" text-anchor="end" textLength="8.4" lengthAdjust="spacingAndGlyphs">0.4</text>
<line x1="210.60" y1="415.80" x2="212.40" y2="415.80" stroke="#000" stroke-width="0.7"/>
<text x="210.00" y="418.00" font-size="6.3" text-anchor="end" textLength="8.4" lengthAdjust="spacingAndGlyphs">0.6</text>
<line x1="210.60" y1="403.10" x2="212.40" y2="403.10" stroke="#000" stroke-width="0.7"/>
<text x="210.00" y="405.30" font-size="6.3" text-anchor="end" textLength="8.4" lengthAdjust="spacingAndGlyphs">0.8</text>
<line x1="210.60" y1="390.40" x2="212.40" y2="390.40" stroke="#000" stroke-width="0.7"/>
<text x="210.00" y="392.60" font-size="6.3" text-anchor="end" textLength="8.4" lengthAdjust="spacingAndGlyphs">1.0</text>
<line x1="212.40" y1="457.40" x2="212.40" y2="459.20" stroke="#000" stroke-width="0.7"/>
<line x1="224.00" y1="457.40" x2="224.00" y2="459.20" stroke="#000" stroke-width="0.7"/>
<line x1="235.60" y1="457.40" x2="235.60" y2="459.20" stroke="#000" stroke-width="0.7"/>
<line x1="247.20" y1="457.40" x2="247.20" y2="459.20" stroke="#000" stroke-width="0.7"/>
<line x1="258.80" y1="457.40" x2="258.80" y2="459.20" stroke="#000" stroke-width="0.7"/>
<line x1="270.40" y1="457.40" x2="270.40" y2="459.20" stroke="#000" stroke-width="0.7"/>
<line x1="282.00" y1="457.40" x2="282.00" y2="459.20" stroke="#000" stroke-width="0.7"/>
<text x="212.40" y="464.60" font-size="6.6" text-anchor="middle">1</text>
<text x="224.00" y="464.60" font-size="6.6" text-anchor="middle">2</text>
<text x="235.60" y="464.60" font-size="6.6" text-anchor="middle">3</text>
<text x="247.20" y="464.60" font-size="6.6" text-anchor="middle">4</text>
<text x="258.80" y="464.60" font-size="6.6" text-anchor="middle">5</text>
<text x="270.40" y="464.60" font-size="6.6" text-anchor="middle">6</text>
<text x="282.00" y="464.60" font-size="6.6" text-anchor="middle">7</text>
<path d="M212.40,390.40 L212.98,390.48 L213.56,390.72 L214.14,391.11 L214.72,391.66 L215.30,392.35 L215.88,393.19 L216.46,394.17 L217.04,395.28 L217.62,396.51 L218.20,397.86 L218.78,399.31 L219.36,400.86 L219.94,402.49 L220.52,404.20 L221.10,405.97 L221.68,407.79 L222.26,409.65 L222.84,411.55 L223.42,413.46 L224.00,415.39 L224.58,417.31 L225.16,419.22 L225.74,421.12 L226.32,422.99 L226.90,424.83 L227.48,426.62 L228.06,428.37 L228.64,430.07 L229.22,431.71 L229.80,433.28 L230.38,434.80 L230.96,436.24 L231.54,437.62 L232.12,438.93 L232.70,440.17 L233.28,441.33 L233.86,442.43 L234.44,443.46 L235.02,444.41 L235.60,445.31 L236.18,446.13 L236.76,446.90 L237.34,447.60 L237.92,448.25 L238.50,448.85 L239.08,449.39 L239.66,449.89 L240.24,450.34 L240.82,450.74 L241.40,451.11 L241.98,451.44 L242.56,451.74 L243.14,452.00 L243.72,452.24 L244.30,452.45 L244.88,452.64 L245.46,452.81 L246.04,452.95 L246.62,453.08 L247.20,453.19 L247.78,453.29 L248.36,453.38 L248.94,453.46 L249.52,453.52 L250.10,453.58 L250.68,453.63 L251.26,453.67 L251.84,453.70 L252.42,453.73 L253.00,453.76 L253.58,453.78 L254.16,453.80 L254.74,453.82 L255.32,453.83 L255.90,453.84 L256.48,453.85 L257.06,453.86 L257.64,453.87 L258.22,453.87 L258.80,453.88 L259.38,453.88 L259.96,453.89 L260.54,453.89 L261.12,453.89 L261.70,453.89 L262.28,453.89 L262.86,453.90 L263.44,453.90 L264.02,453.90 L264.60,453.90 L265.18,453.90 L265.76,453.90 L266.34,453.90 L266.92,453.90 L267.50,453.90 L268.08,453.90 L268.66,453.90 L269.24,453.90 L269.82,453.90 L270.40,453.90 L270.98,453.90 L271.56,453.90 L272.14,453.90 L272.72,453.90 L273.30,453.90 L273.88,453.90 L274.46,453.90 L275.04,453.90 L275.62,453.90 L276.20,453.90 L276.78,453.90 L277.36,453.90 L277.94,453.90 L278.52,453.90 L279.10,453.90 L279.68,453.90 L280.26,453.90 L280.84,453.90 L281.42,453.90 L282.00,453.90" fill="none" stroke="#d8283e" stroke-width="1.0" stroke-linejoin="round" stroke-linecap="round"/>
<path d="M212.40,390.40 L212.98,390.49 L213.56,390.75 L214.14,391.19 L214.72,391.79 L215.30,392.56 L215.88,393.49 L216.46,394.57 L217.04,395.79 L217.62,397.14 L218.20,398.61 L218.78,400.20 L219.36,401.88 L219.94,403.65 L220.52,405.50 L221.10,407.40 L221.68,409.36 L222.26,411.35 L222.84,413.36 L223.42,415.39 L224.00,417.41 L224.58,419.42 L225.16,421.42 L225.74,423.38 L226.32,425.30 L226.90,427.18 L227.48,429.00 L228.06,430.77 L228.64,432.46 L229.22,434.09 L229.80,435.64 L230.38,437.12 L230.96,438.52 L231.54,439.85 L232.12,441.09 L232.70,442.26 L233.28,443.35 L233.86,444.37 L234.44,445.31 L235.02,446.18 L235.60,446.98 L236.18,447.71 L236.76,448.38 L237.34,449.00 L237.92,449.55 L238.50,450.06 L239.08,450.51 L239.66,450.92 L240.24,451.29 L240.82,451.62 L241.40,451.91 L241.98,452.17 L242.56,452.40 L243.14,452.60 L243.72,452.78 L244.30,452.94 L244.88,453.08 L245.46,453.19 L246.04,453.30 L246.62,453.39 L247.20,453.47 L247.78,453.53 L248.36,453.59 L248.94,453.64 L249.52,453.68 L250.10,453.72 L250.68,453.75 L251.26,453.77 L251.84,453.79 L252.42,453.81 L253.00,453.83 L253.58,453.84 L254.16,453.85 L254.74,453.86 L255.32,453.87 L255.90,453.87 L256.48,453.88 L257.06,453.88 L257.64,453.89 L258.22,453.89 L258.80,453.89 L259.38,453.89 L259.96,453.89 L260.54,453.90 L261.12,453.90 L261.70,453.90 L262.28,453.90 L262.86,453.90 L263.44,453.90 L264.02,453.90 L264.60,453.90 L265.18,453.90 L265.76,453.90 L266.34,453.90 L266.92,453.90 L267.50,453.90 L268.08,453.90 L268.66,453.90 L269.24,453.90 L269.82,453.90 L270.40,453.90 L270.98,453.90 L271.56,453.90 L272.14,453.90 L272.72,453.90 L273.30,453.90 L273.88,453.90 L274.46,453.90 L275.04,453.90 L275.62,453.90 L276.20,453.90 L276.78,453.90 L277.36,453.90 L277.94,453.90 L278.52,453.90 L279.10,453.90 L279.68,453.90 L280.26,453.90 L280.84,453.90 L281.42,453.90 L282.00,453.90" fill="none" stroke="#2b6cab" stroke-width="1.0" stroke-linejoin="round" stroke-linecap="round"/>
<path d="M212.40,391.38 L212.98,391.08 L213.56,390.84 L214.14,390.65 L214.72,390.51 L215.30,390.43 L215.88,390.40 L216.46,390.43 L217.04,390.50 L217.62,390.63 L218.20,390.81 L218.78,391.04 L219.36,391.33 L219.94,391.66 L220.52,392.04 L221.10,392.47 L221.68,392.94 L222.26,393.46 L222.84,394.02 L223.42,394.63 L224.00,395.28 L224.58,395.97 L225.16,396.70 L225.74,397.47 L226.32,398.27 L226.90,399.10 L227.48,399.97 L228.06,400.86 L228.64,401.78 L229.22,402.73 L229.80,403.70 L230.38,404.70 L230.96,405.71 L231.54,406.74 L232.12,407.79 L232.70,408.85 L233.28,409.92 L233.86,411.00 L234.44,412.09 L235.02,413.19 L235.60,414.29 L236.18,415.39 L236.76,416.49 L237.34,417.58 L237.92,418.68 L238.50,419.77 L239.08,420.85 L239.66,421.93 L240.24,422.99 L240.82,424.05 L241.40,425.09 L241.98,426.11 L242.56,427.13 L243.14,428.12 L243.72,429.11 L244.30,430.07 L244.88,431.01 L245.46,431.94 L246.04,432.84 L246.62,433.72 L247.20,434.59 L247.78,435.43 L248.36,436.24 L248.94,437.04 L249.52,437.81 L250.10,438.56 L250.68,439.29 L251.26,439.99 L251.84,440.68 L252.42,441.33 L253.00,441.97 L253.58,442.58 L254.16,443.17 L254.74,443.74 L255.32,444.28 L255.90,444.80 L256.48,445.31 L257.06,445.79 L257.64,446.25 L258.22,446.69 L258.80,447.11 L259.38,447.51 L259.96,447.89 L260.54,448.25 L261.12,448.60 L261.70,448.93 L262.28,449.24 L262.86,449.54 L263.44,449.82 L264.02,450.08 L264.60,450.34 L265.18,450.57 L265.76,450.80 L266.34,451.01 L266.92,451.21 L267.50,451.40 L268.08,451.57 L268.66,451.74 L269.24,451.89 L269.82,452.04 L270.40,452.18 L270.98,452.30 L271.56,452.42 L272.14,452.54 L272.72,452.64 L273.30,452.74 L273.88,452.83 L274.46,452.91 L275.04,452.99 L275.62,453.06 L276.20,453.13 L276.78,453.19 L277.36,453.25 L277.94,453.31 L278.52,453.36 L279.10,453.40 L279.68,453.45 L280.26,453.48 L280.84,453.52 L281.42,453.55 L282.00,453.58" fill="none" stroke="#2b6cab" stroke-width="1.0" stroke-linejoin="round" stroke-linecap="round"/>
<path d="M212.40,432.71 L212.98,431.53 L213.56,430.31 L214.14,429.07 L214.72,427.79 L215.30,426.49 L215.88,425.16 L216.46,423.81 L217.04,422.44 L217.62,421.05 L218.20,419.65 L218.78,418.23 L219.36,416.81 L219.94,415.39 L220.52,413.96 L221.10,412.54 L221.68,411.12 L222.26,409.72 L222.84,408.34 L223.42,406.97 L224.00,405.64 L224.58,404.33 L225.16,403.05 L225.74,401.82 L226.32,400.63 L226.90,399.48 L227.48,398.39 L228.06,397.35 L228.64,396.37 L229.22,395.46 L229.80,394.61 L230.38,393.83 L230.96,393.13 L231.54,392.50 L232.12,391.95 L232.70,391.48 L233.28,391.09 L233.86,390.79 L234.44,390.57 L235.02,390.44 L235.60,390.40 L236.18,390.46 L236.76,390.62 L237.34,390.89 L237.92,391.28 L238.50,391.76 L239.08,392.35 L239.66,393.04 L240.24,393.83 L240.82,394.71 L241.40,395.68 L241.98,396.73 L242.56,397.86 L243.14,399.06 L243.72,400.33 L244.30,401.67 L244.88,403.05 L245.46,404.49 L246.04,405.97 L246.62,407.48 L247.20,409.03 L247.78,410.60 L248.36,412.18 L248.94,413.78 L249.52,415.39 L250.10,416.99 L250.68,418.59 L251.26,420.18 L251.84,421.75 L252.42,423.30 L253.00,424.83 L253.58,426.33 L254.16,427.79 L254.74,429.23 L255.32,430.62 L255.90,431.97 L256.48,433.28 L257.06,434.55 L257.64,435.77 L258.22,436.94 L258.80,438.07 L259.38,439.14 L259.96,440.17 L260.54,441.14 L261.12,442.07 L261.70,442.95 L262.28,443.78 L262.86,444.57 L263.44,445.31 L264.02,446.00 L264.60,446.65 L265.18,447.26 L265.76,447.83 L266.34,448.36 L266.92,448.85 L267.50,449.30 L268.08,449.73 L268.66,450.12 L269.24,450.48 L269.82,450.81 L270.40,451.11 L270.98,451.39 L271.56,451.64 L272.14,451.87 L272.72,452.09 L273.30,452.28 L273.88,452.45 L274.46,452.61 L275.04,452.75 L275.62,452.88 L276.20,453.00 L276.78,453.10 L277.36,453.19 L277.94,453.28 L278.52,453.35 L279.10,453.42 L279.68,453.48 L280.26,453.53 L280.84,453.58 L281.42,453.62 L282.00,453.65" fill="none" stroke="#d8283e" stroke-width="1.0" stroke-linejoin="round" stroke-linecap="round"/>
<circle cx="212.40" cy="390.40" r="1.35" fill="#b4142a" stroke="#5a0a14" stroke-width="0.35"/>
<circle cx="224.00" cy="414.56" r="1.35" fill="#b4142a" stroke="#5a0a14" stroke-width="0.35"/>
<circle cx="235.60" cy="444.40" r="1.35" fill="#b4142a" stroke="#5a0a14" stroke-width="0.35"/>
<circle cx="247.20" cy="452.33" r="1.35" fill="#b4142a" stroke="#5a0a14" stroke-width="0.35"/>
<circle cx="258.80" cy="453.23" r="1.35" fill="#b4142a" stroke="#5a0a14" stroke-width="0.35"/>
<circle cx="270.40" cy="453.90" r="1.35" fill="#b4142a" stroke="#5a0a14" stroke-width="0.35"/>
<circle cx="282.00" cy="453.90" r="1.35" fill="#b4142a" stroke="#5a0a14" stroke-width="0.35"/>
<circle cx="212.40" cy="390.40" r="1.35" fill="#1b3f74" stroke="#0a1a30" stroke-width="0.35"/>
<circle cx="224.00" cy="416.66" r="1.35" fill="#1b3f74" stroke="#0a1a30" stroke-width="0.35"/>
<circle cx="235.60" cy="447.55" r="1.35" fill="#1b3f74" stroke="#0a1a30" stroke-width="0.35"/>
<circle cx="247.20" cy="453.90" r="1.35" fill="#1b3f74" stroke="#0a1a30" stroke-width="0.35"/>
<circle cx="258.80" cy="453.90" r="1.35" fill="#1b3f74" stroke="#0a1a30" stroke-width="0.35"/>
<circle cx="270.40" cy="453.90" r="1.35" fill="#1b3f74" stroke="#0a1a30" stroke-width="0.35"/>
<circle cx="282.00" cy="453.90" r="1.35" fill="#1b3f74" stroke="#0a1a30" stroke-width="0.35"/>
<path d="M210.80,390.27 L214.00,390.27 L212.40,393.15 Z" fill="#1b3f74" stroke="#0a1a30" stroke-width="0.4"/>
<path d="M222.40,388.96 L225.60,388.96 L224.00,391.84 Z" fill="#1b3f74" stroke="#0a1a30" stroke-width="0.4"/>
<path d="M234.00,412.25 L237.20,412.25 L235.60,415.13 Z" fill="#1b3f74" stroke="#0a1a30" stroke-width="0.4"/>
<path d="M245.60,432.53 L248.80,432.53 L247.20,435.41 Z" fill="#1b3f74" stroke="#0a1a30" stroke-width="0.4"/>
<path d="M257.20,445.79 L260.40,445.79 L258.80,448.67 Z" fill="#1b3f74" stroke="#0a1a30" stroke-width="0.4"/>
<path d="M268.80,451.39 L272.00,451.39 L270.40,454.27 Z" fill="#1b3f74" stroke="#0a1a30" stroke-width="0.4"/>
<path d="M280.40,451.91 L283.60,451.91 L282.00,454.79 Z" fill="#1b3f74" stroke="#0a1a30" stroke-width="0.4"/>
<path d="M210.80,440.39 L214.00,440.39 L212.40,443.27 Z" fill="#b4142a" stroke="#5a0a14" stroke-width="0.4"/>
<path d="M222.40,403.54 L225.60,403.54 L224.00,406.42 Z" fill="#b4142a" stroke="#5a0a14" stroke-width="0.4"/>
<path d="M234.00,388.96 L237.20,388.96 L235.60,391.84 Z" fill="#b4142a" stroke="#5a0a14" stroke-width="0.4"/>
<path d="M245.60,407.98 L248.80,407.98 L247.20,410.86 Z" fill="#b4142a" stroke="#5a0a14" stroke-width="0.4"/>
<path d="M257.20,437.38 L260.40,437.38 L258.80,440.26 Z" fill="#b4142a" stroke="#5a0a14" stroke-width="0.4"/>
<path d="M268.80,450.56 L272.00,450.56 L270.40,453.44 Z" fill="#b4142a" stroke="#5a0a14" stroke-width="0.4"/>
<path d="M280.40,451.59 L283.60,451.59 L282.00,454.47 Z" fill="#b4142a" stroke="#5a0a14" stroke-width="0.4"/>
<text x="244.50" y="392.70" font-size="7.0" fill="#222">V<tspan font-size="4.8" dy="1.7">243</tspan><tspan dy="-1.7">-K</tspan><tspan font-size="4.8" dy="1.7">251</tspan><tspan dy="-1.7">+2</tspan></text>
<text x="244.30" y="400.60" font-size="7.0" fill="#222" textLength="48.7" lengthAdjust="spacingAndGlyphs">opposable thumb</text>
<line x1="300.40" y1="387.00" x2="300.40" y2="457.90" stroke="#000" stroke-width="1.1"/>
<line x1="299.90" y1="457.40" x2="370.96" y2="457.40" stroke="#000" stroke-width="1.1"/>
<line x1="298.60" y1="453.90" x2="300.40" y2="453.90" stroke="#000" stroke-width="0.7"/>
<text x="298.00" y="456.10" font-size="6.3" text-anchor="end" textLength="8.4" lengthAdjust="spacingAndGlyphs">0.0</text>
<line x1="298.60" y1="441.20" x2="300.40" y2="441.20" stroke="#000" stroke-width="0.7"/>
<text x="298.00" y="443.40" font-size="6.3" text-anchor="end" textLength="8.4" lengthAdjust="spacingAndGlyphs">0.2</text>
<line x1="298.60" y1="428.50" x2="300.40" y2="428.50" stroke="#000" stroke-width="0.7"/>
<text x="298.00" y="430.70" font-size="6.3" text-anchor="end" textLength="8.4" lengthAdjust="spacingAndGlyphs">0.4</text>
<line x1="298.60" y1="415.80" x2="300.40" y2="415.80" stroke="#000" stroke-width="0.7"/>
<text x="298.00" y="418.00" font-size="6.3" text-anchor="end" textLength="8.4" lengthAdjust="spacingAndGlyphs">0.6</text>
<line x1="298.60" y1="403.10" x2="300.40" y2="403.10" stroke="#000" stroke-width="0.7"/>
<text x="298.00" y="405.30" font-size="6.3" text-anchor="end" textLength="8.4" lengthAdjust="spacingAndGlyphs">0.8</text>
<line x1="298.60" y1="390.40" x2="300.40" y2="390.40" stroke="#000" stroke-width="0.7"/>
<text x="298.00" y="392.60" font-size="6.3" text-anchor="end" textLength="8.4" lengthAdjust="spacingAndGlyphs">1.0</text>
<line x1="300.40" y1="457.40" x2="300.40" y2="459.20" stroke="#000" stroke-width="0.7"/>
<line x1="312.06" y1="457.40" x2="312.06" y2="459.20" stroke="#000" stroke-width="0.7"/>
<line x1="323.72" y1="457.40" x2="323.72" y2="459.20" stroke="#000" stroke-width="0.7"/>
<line x1="335.38" y1="457.40" x2="335.38" y2="459.20" stroke="#000" stroke-width="0.7"/>
<line x1="347.04" y1="457.40" x2="347.04" y2="459.20" stroke="#000" stroke-width="0.7"/>
<line x1="358.70" y1="457.40" x2="358.70" y2="459.20" stroke="#000" stroke-width="0.7"/>
<line x1="370.36" y1="457.40" x2="370.36" y2="459.20" stroke="#000" stroke-width="0.7"/>
<text x="300.40" y="464.60" font-size="6.6" text-anchor="middle">1</text>
<text x="312.06" y="464.60" font-size="6.6" text-anchor="middle">2</text>
<text x="323.72" y="464.60" font-size="6.6" text-anchor="middle">3</text>
<text x="335.38" y="464.60" font-size="6.6" text-anchor="middle">4</text>
<text x="347.04" y="464.60" font-size="6.6" text-anchor="middle">5</text>
<text x="358.70" y="464.60" font-size="6.6" text-anchor="middle">6</text>
<text x="370.36" y="464.60" font-size="6.6" text-anchor="middle">7</text>
<path d="M300.40,390.40 L300.98,390.57 L301.57,391.06 L302.15,391.88 L302.73,393.01 L303.31,394.43 L303.90,396.13 L304.48,398.07 L305.06,400.22 L305.65,402.56 L306.23,405.06 L306.81,407.68 L307.40,410.39 L307.98,413.16 L308.56,415.94 L309.14,418.73 L309.73,421.48 L310.31,424.17 L310.89,426.78 L311.48,429.29 L312.06,431.68 L312.64,433.95 L313.23,436.08 L313.81,438.07 L314.39,439.90 L314.97,441.59 L315.56,443.14 L316.14,444.53 L316.72,445.79 L317.31,446.92 L317.89,447.92 L318.47,448.81 L319.06,449.58 L319.64,450.26 L320.22,450.85 L320.80,451.35 L321.39,451.79 L321.97,452.16 L322.55,452.47 L323.14,452.73 L323.72,452.95 L324.30,453.13 L324.89,453.28 L325.47,453.41 L326.05,453.51 L326.63,453.59 L327.22,453.65 L327.80,453.71 L328.38,453.75 L328.97,453.78 L329.55,453.81 L330.13,453.83 L330.72,453.85 L331.30,453.86 L331.88,453.87 L332.46,453.88 L333.05,453.88 L333.63,453.89 L334.21,453.89 L334.80,453.89 L335.38,453.90 L335.96,453.90 L336.55,453.90 L337.13,453.90 L337.71,453.90 L338.29,453.90 L338.88,453.90 L339.46,453.90 L340.04,453.90 L340.63,453.90 L341.21,453.90 L341.79,453.90 L342.38,453.90 L342.96,453.90 L343.54,453.90 L344.12,453.90 L344.71,453.90 L345.29,453.90 L345.87,453.90 L346.46,453.90 L347.04,453.90 L347.62,453.90 L348.21,453.90 L348.79,453.90 L349.37,453.90 L349.95,453.90 L350.54,453.90 L351.12,453.90 L351.70,453.90 L352.29,453.90 L352.87,453.90 L353.45,453.90 L354.04,453.90 L354.62,453.90 L355.20,453.90 L355.78,453.90 L356.37,453.90 L356.95,453.90 L357.53,453.90 L358.12,453.90 L358.70,453.90 L359.28,453.90 L359.87,453.90 L360.45,453.90 L361.03,453.90 L361.61,453.90 L362.20,453.90 L362.78,453.90 L363.36,453.90 L363.95,453.90 L364.53,453.90 L365.11,453.90 L365.70,453.90 L366.28,453.90 L366.86,453.90 L367.44,453.90 L368.03,453.90 L368.61,453.90 L369.19,453.90 L369.78,453.90 L370.36,453.90" fill="none" stroke="#d8283e" stroke-width="1.0" stroke-linejoin="round" stroke-linecap="round"/>
<path d="M300.40,390.40 L300.98,390.55 L301.57,390.99 L302.15,391.73 L302.73,392.74 L303.31,394.02 L303.90,395.54 L304.48,397.29 L305.06,399.25 L305.65,401.39 L306.23,403.68 L306.81,406.09 L307.40,408.60 L307.98,411.18 L308.56,413.80 L309.14,416.44 L309.73,419.07 L310.31,421.66 L310.89,424.20 L311.48,426.67 L312.06,429.05 L312.64,431.33 L313.23,433.50 L313.81,435.54 L314.39,437.46 L314.97,439.24 L315.56,440.89 L316.14,442.41 L316.72,443.80 L317.31,445.07 L317.89,446.21 L318.47,447.24 L319.06,448.15 L319.64,448.96 L320.22,449.68 L320.80,450.31 L321.39,450.86 L321.97,451.34 L322.55,451.75 L323.14,452.11 L323.72,452.41 L324.30,452.67 L324.89,452.89 L325.47,453.07 L326.05,453.22 L326.63,453.35 L327.22,453.46 L327.80,453.54 L328.38,453.61 L328.97,453.67 L329.55,453.72 L330.13,453.76 L330.72,453.79 L331.30,453.81 L331.88,453.83 L332.46,453.85 L333.05,453.86 L333.63,453.87 L334.21,453.88 L334.80,453.88 L335.38,453.89 L335.96,453.89 L336.55,453.89 L337.13,453.89 L337.71,453.90 L338.29,453.90 L338.88,453.90 L339.46,453.90 L340.04,453.90 L340.63,453.90 L341.21,453.90 L341.79,453.90 L342.38,453.90 L342.96,453.90 L343.54,453.90 L344.12,453.90 L344.71,453.90 L345.29,453.90 L345.87,453.90 L346.46,453.90 L347.04,453.90 L347.62,453.90 L348.21,453.90 L348.79,453.90 L349.37,453.90 L349.95,453.90 L350.54,453.90 L351.12,453.90 L351.70,453.90 L352.29,453.90 L352.87,453.90 L353.45,453.90 L354.04,453.90 L354.62,453.90 L355.20,453.90 L355.78,453.90 L356.37,453.90 L356.95,453.90 L357.53,453.90 L358.12,453.90 L358.70,453.90 L359.28,453.90 L359.87,453.90 L360.45,453.90 L361.03,453.90 L361.61,453.90 L362.20,453.90 L362.78,453.90 L363.36,453.90 L363.95,453.90 L364.53,453.90 L365.11,453.90 L365.70,453.90 L366.28,453.90 L366.86,453.90 L367.44,453.90 L368.03,453.90 L368.61,453.90 L369.19,453.90 L369.78,453.90 L370.36,453.90" fill="none" stroke="#2b6cab" stroke-width="1.0" stroke-linejoin="round" stroke-linecap="round"/>
<path d="M300.40,400.33 L300.98,399.48 L301.57,398.66 L302.15,397.86 L302.73,397.10 L303.31,396.37 L303.90,395.68 L304.48,395.02 L305.06,394.41 L305.65,393.83 L306.23,393.30 L306.81,392.80 L307.40,392.35 L307.98,391.95 L308.56,391.59 L309.14,391.28 L309.73,391.01 L310.31,390.79 L310.89,390.62 L311.48,390.50 L312.06,390.42 L312.64,390.40 L313.23,390.43 L313.81,390.53 L314.39,390.70 L314.97,390.93 L315.56,391.22 L316.14,391.58 L316.72,392.00 L317.31,392.48 L317.89,393.02 L318.47,393.62 L319.06,394.27 L319.64,394.98 L320.22,395.75 L320.80,396.56 L321.39,397.42 L321.97,398.32 L322.55,399.26 L323.14,400.25 L323.72,401.27 L324.30,402.33 L324.89,403.42 L325.47,404.54 L326.05,405.68 L326.63,406.84 L327.22,408.03 L327.80,409.23 L328.38,410.44 L328.97,411.67 L329.55,412.90 L330.13,414.14 L330.72,415.39 L331.30,416.63 L331.88,417.87 L332.46,419.10 L333.05,420.33 L333.63,421.55 L334.21,422.75 L334.80,423.94 L335.38,425.12 L335.96,426.28 L336.55,427.42 L337.13,428.54 L337.71,429.64 L338.29,430.71 L338.88,431.76 L339.46,432.78 L340.04,433.78 L340.63,434.75 L341.21,435.69 L341.79,436.61 L342.38,437.49 L342.96,438.35 L343.54,439.18 L344.12,439.97 L344.71,440.74 L345.29,441.48 L345.87,442.19 L346.46,442.87 L347.04,443.52 L347.62,444.14 L348.21,444.74 L348.79,445.31 L349.37,445.85 L349.95,446.36 L350.54,446.85 L351.12,447.32 L351.70,447.76 L352.29,448.17 L352.87,448.57 L353.45,448.94 L354.04,449.29 L354.62,449.62 L355.20,449.93 L355.78,450.22 L356.37,450.50 L356.95,450.75 L357.53,451.00 L358.12,451.22 L358.70,451.43 L359.28,451.63 L359.87,451.81 L360.45,451.98 L361.03,452.14 L361.61,452.28 L362.20,452.42 L362.78,452.55 L363.36,452.66 L363.95,452.77 L364.53,452.87 L365.11,452.96 L365.70,453.05 L366.28,453.12 L366.86,453.19 L367.44,453.26 L368.03,453.32 L368.61,453.37 L369.19,453.42 L369.78,453.47 L370.36,453.51" fill="none" stroke="#2b6cab" stroke-width="1.0" stroke-linejoin="round" stroke-linecap="round"/>
<path d="M300.40,438.78 L300.98,437.70 L301.57,436.57 L302.15,435.39 L302.73,434.17 L303.31,432.90 L303.90,431.59 L304.48,430.23 L305.06,428.84 L305.65,427.41 L306.23,425.95 L306.81,424.45 L307.40,422.93 L307.98,421.39 L308.56,419.82 L309.14,418.24 L309.73,416.66 L310.31,415.07 L310.89,413.48 L311.48,411.89 L312.06,410.32 L312.64,408.77 L313.23,407.24 L313.81,405.75 L314.39,404.28 L314.97,402.87 L315.56,401.50 L316.14,400.18 L316.72,398.93 L317.31,397.75 L317.89,396.63 L318.47,395.60 L319.06,394.64 L319.64,393.78 L320.22,393.00 L320.80,392.32 L321.39,391.74 L321.97,391.26 L322.55,390.89 L323.14,390.62 L323.72,390.45 L324.30,390.40 L324.89,390.45 L325.47,390.60 L326.05,390.85 L326.63,391.19 L327.22,391.64 L327.80,392.17 L328.38,392.80 L328.97,393.52 L329.55,394.32 L330.13,395.21 L330.72,396.17 L331.30,397.21 L331.88,398.31 L332.46,399.48 L333.05,400.71 L333.63,401.99 L334.21,403.32 L334.80,404.70 L335.38,406.11 L335.96,407.56 L336.55,409.03 L337.13,410.52 L337.71,412.03 L338.29,413.55 L338.88,415.08 L339.46,416.61 L340.04,418.13 L340.63,419.65 L341.21,421.15 L341.79,422.64 L342.38,424.10 L342.96,425.55 L343.54,426.96 L344.12,428.34 L344.71,429.70 L345.29,431.01 L345.87,432.29 L346.46,433.53 L347.04,434.73 L347.62,435.88 L348.21,437.00 L348.79,438.07 L349.37,439.09 L349.95,440.07 L350.54,441.01 L351.12,441.90 L351.70,442.75 L352.29,443.55 L352.87,444.31 L353.45,445.03 L354.04,445.71 L354.62,446.35 L355.20,446.95 L355.78,447.51 L356.37,448.03 L356.95,448.52 L357.53,448.98 L358.12,449.41 L358.70,449.80 L359.28,450.17 L359.87,450.51 L360.45,450.82 L361.03,451.11 L361.61,451.38 L362.20,451.62 L362.78,451.84 L363.36,452.05 L363.95,452.23 L364.53,452.40 L365.11,452.56 L365.70,452.70 L366.28,452.83 L366.86,452.94 L367.44,453.05 L368.03,453.14 L368.61,453.23 L369.19,453.30 L369.78,453.37 L370.36,453.43" fill="none" stroke="#d8283e" stroke-width="1.0" stroke-linejoin="round" stroke-linecap="round"/>
<circle cx="300.40" cy="390.81" r="1.35" fill="#b4142a" stroke="#5a0a14" stroke-width="0.35"/>
<circle cx="312.06" cy="431.00" r="1.35" fill="#b4142a" stroke="#5a0a14" stroke-width="0.35"/>
<circle cx="323.72" cy="446.91" r="1.35" fill="#b4142a" stroke="#5a0a14" stroke-width="0.35"/>
<circle cx="335.38" cy="453.62" r="1.35" fill="#b4142a" stroke="#5a0a14" stroke-width="0.35"/>
<circle cx="347.04" cy="453.27" r="1.35" fill="#b4142a" stroke="#5a0a14" stroke-width="0.35"/>
<circle cx="358.70" cy="453.90" r="1.35" fill="#b4142a" stroke="#5a0a14" stroke-width="0.35"/>
<circle cx="370.36" cy="453.75" r="1.35" fill="#b4142a" stroke="#5a0a14" stroke-width="0.35"/>
<circle cx="300.40" cy="390.80" r="1.35" fill="#1b3f74" stroke="#0a1a30" stroke-width="0.35"/>
<circle cx="312.06" cy="428.14" r="1.35" fill="#1b3f74" stroke="#0a1a30" stroke-width="0.35"/>
<circle cx="323.72" cy="452.55" r="1.35" fill="#1b3f74" stroke="#0a1a30" stroke-width="0.35"/>
<circle cx="335.38" cy="453.90" r="1.35" fill="#1b3f74" stroke="#0a1a30" stroke-width="0.35"/>
<circle cx="347.04" cy="453.90" r="1.35" fill="#1b3f74" stroke="#0a1a30" stroke-width="0.35"/>
<circle cx="358.70" cy="453.33" r="1.35" fill="#1b3f74" stroke="#0a1a30" stroke-width="0.35"/>
<circle cx="370.36" cy="453.90" r="1.35" fill="#1b3f74" stroke="#0a1a30" stroke-width="0.35"/>
<path d="M298.80,398.12 L302.00,398.12 L300.40,401.00 Z" fill="#1b3f74" stroke="#0a1a30" stroke-width="0.4"/>
<path d="M310.46,388.96 L313.66,388.96 L312.06,391.84 Z" fill="#1b3f74" stroke="#0a1a30" stroke-width="0.4"/>
<path d="M322.12,399.47 L325.32,399.47 L323.72,402.35 Z" fill="#1b3f74" stroke="#0a1a30" stroke-width="0.4"/>
<path d="M333.78,424.14 L336.98,424.14 L335.38,427.02 Z" fill="#1b3f74" stroke="#0a1a30" stroke-width="0.4"/>
<path d="M345.44,442.19 L348.64,442.19 L347.04,445.07 Z" fill="#1b3f74" stroke="#0a1a30" stroke-width="0.4"/>
<path d="M357.10,449.06 L360.30,449.06 L358.70,451.94 Z" fill="#1b3f74" stroke="#0a1a30" stroke-width="0.4"/>
<path d="M368.76,451.50 L371.96,451.50 L370.36,454.38 Z" fill="#1b3f74" stroke="#0a1a30" stroke-width="0.4"/>
<path d="M298.80,444.46 L302.00,444.46 L300.40,447.34 Z" fill="#b4142a" stroke="#5a0a14" stroke-width="0.4"/>
<path d="M310.46,406.74 L313.66,406.74 L312.06,409.62 Z" fill="#b4142a" stroke="#5a0a14" stroke-width="0.4"/>
<path d="M322.12,388.96 L325.32,388.96 L323.72,391.84 Z" fill="#b4142a" stroke="#5a0a14" stroke-width="0.4"/>
<path d="M333.78,405.60 L336.98,405.60 L335.38,408.48 Z" fill="#b4142a" stroke="#5a0a14" stroke-width="0.4"/>
<path d="M345.44,432.39 L348.64,432.39 L347.04,435.27 Z" fill="#b4142a" stroke="#5a0a14" stroke-width="0.4"/>
<path d="M357.10,448.96 L360.30,448.96 L358.70,451.84 Z" fill="#b4142a" stroke="#5a0a14" stroke-width="0.4"/>
<path d="M368.76,449.92 L371.96,449.92 L370.36,452.80 Z" fill="#b4142a" stroke="#5a0a14" stroke-width="0.4"/>
<text x="338.70" y="392.70" font-size="7.0" fill="#222">V<tspan font-size="4.8" dy="1.7">252</tspan><tspan dy="-1.7">-K</tspan><tspan font-size="4.8" dy="1.7">259</tspan><tspan dy="-1.7">+2</tspan></text>
<text x="338.50" y="400.60" font-size="7.0" fill="#222" textLength="48.7" lengthAdjust="spacingAndGlyphs">opposable thumb</text>
<text x="17.70" y="376.80" font-size="9.2" text-anchor="middle" fill="#111" textLength="60.5" lengthAdjust="spacingAndGlyphs" transform="rotate(-90 17.70 376.80)" stroke="#111" stroke-width="0.3">Normalized intensity</text>
<text x="203.00" y="479.30" font-size="9.2" text-anchor="middle" fill="#111" textLength="56" lengthAdjust="spacingAndGlyphs" stroke="#111" stroke-width="0.3">Relative mass shift</text>
<circle cx="358.30" cy="409.30" r="1.9" fill="#1b3f74" stroke="#0a1a30" stroke-width="0.35"/>
<text x="362.20" y="411.60" font-size="6.5" fill="#222">Wild-type All H</text>
<path d="M356.20,417.01 L360.40,417.01 L358.30,420.79 Z" fill="#1b3f74" stroke="#0a1a30" stroke-width="0.4"/>
<text x="362.20" y="421.20" font-size="6.5" fill="#222">Wild-type 1 h HX</text>
<circle cx="358.30" cy="429.20" r="1.9" fill="#b4142a" stroke="#5a0a14" stroke-width="0.35"/>
<text x="362.20" y="431.50" font-size="6.5" fill="#222">p.Arg127Gln All H</text>
<path d="M356.20,437.31 L360.40,437.31 L358.30,441.09 Z" fill="#b4142a" stroke="#5a0a14" stroke-width="0.4"/>
<text x="362.20" y="441.50" font-size="6.5" fill="#222">p.Arg127Gln 1 h HX</text>
</svg>
</body></html>
